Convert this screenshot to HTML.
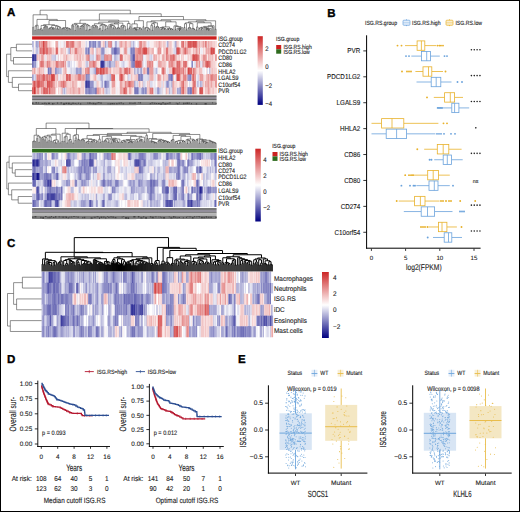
<!DOCTYPE html>
<html><head><meta charset="utf-8"><style>html,body{margin:0;padding:0;background:#fff;overflow:hidden}svg{display:block}</style></head>
<body><svg width="520" height="512" viewBox="0 0 520 512" font-family="Liberation Sans, sans-serif" fill="#1a1a1a" text-rendering="geometricPrecision"><style>text{stroke:#1a1a1a;stroke-width:0.1px} text[font-weight=bold]{stroke:#000;stroke-width:0.35px}</style><rect x="0" y="0" width="520" height="512" fill="#ffffff" /><text transform="translate(6.9 16.46) scale(1 1)" font-size="11.5" fill="#000" font-weight="bold">A</text><path d="M32.6 35.5V27.27H33.6V35.5M34.61 35.5V30.33H35.61V35.5M35.11 30.33V26H36.61V35.5M37.61 35.5V29.52H38.62V35.5M35.86 26V25.28H38.12V29.52M39.62 35.5V29.28H40.62V35.5M41.63 35.5V30.06H42.63V35.5M40.12 29.28V28.82H42.13V30.06M43.63 35.5V27.41H44.63V35.5M44.13 27.41V26.8H45.64V35.5M46.64 35.5V26.8H47.64V35.5M44.88 26.8V26.15H47.14V26.8M41.12 28.82V25.45H46.01V26.15M48.64 35.5V28.69H49.65V35.5M49.15 28.69V28.18H50.65V35.5M52.66 35.5V29.17H53.66V35.5M51.65 35.5V28.69H53.16V29.17M52.41 28.69V28.18H54.66V35.5M49.9 28.18V27.63H53.53V28.18M57.67 35.5V29.14H58.67V35.5M56.67 35.5V28.66H58.17V29.14M59.67 35.5V27.41H60.68V35.5M57.42 28.66V26.8H60.18V27.41M55.66 35.5V26.15H58.8V26.8M51.72 27.63V25.45H57.23V26.15M43.57 25.45V24.69H54.47V25.45M61.68 35.5V28.73H62.68V35.5M63.69 35.5V28.73H64.69V35.5M62.18 28.73V28.22H64.19V28.73M66.69 35.5V29.92H67.7V35.5M65.69 35.5V28.73H67.2V29.92M69.7 35.5V29.2H70.7V35.5M68.7 35.5V28.73H70.2V29.2M66.44 28.73V28.22H69.45V28.73M63.18 28.22V27.67H67.95V28.22M49.02 24.69V20.53H65.57V27.67M36.99 25.28V19.4H57.29V20.53M33.1 27.27V14.8H47.14V19.4M72.71 35.5V25.97H73.71V35.5M71.71 35.5V25.25H73.21V25.97M74.72 35.5V30.45H75.72V35.5M76.72 35.5V26.66H77.72V35.5M77.22 26.66V25.99H78.73V35.5M75.22 30.45V25.01H77.97V25.99M72.46 25.25V24.22H76.6V25.01M79.73 35.5V28.43H80.73V35.5M80.23 28.43V26.47H81.73V35.5M82.74 35.5V26.43H83.74V35.5M80.98 26.47V25.75H83.24V26.43M82.11 25.75V25.01H84.74V35.5M85.75 35.5V30.16H86.75V35.5M88.75 35.5V29.84H89.76V35.5M89.25 29.84V29.42H90.76V35.5M87.75 35.5V25.75H90.01V29.42M86.25 30.16V25.01H88.88V25.75M83.43 25.01V24.22H87.56V25.01M74.53 24.22V23.38H85.49V24.22M92.76 35.5V27.28H93.77V35.5M91.76 35.5V26.13H93.27V27.28M94.77 35.5V26.79H95.77V35.5M96.78 35.5V26.9H97.78V35.5M95.27 26.79V26.13H97.28V26.9M92.51 26.13V25.43H96.27V26.13M98.78 35.5V29.09H99.78V35.5M99.28 29.09V28.61H100.79V35.5M101.79 35.5V30.58H102.79V35.5M100.03 28.61V25.31H102.29V30.58M104.8 35.5V29.65H105.8V35.5M106.8 35.5V28.12H107.81V35.5M105.3 29.65V26.03H107.3V28.12M103.79 35.5V25.31H106.3V26.03M101.16 25.31V24.55H105.05V25.31M94.39 25.43V23.72H103.1V24.55M110.81 35.5V26.88H111.82V35.5M109.81 35.5V26.23H111.31V26.88M112.82 35.5V28.62H113.82V35.5M114.82 35.5V27.86H115.83V35.5M113.32 28.62V26.86H115.33V27.86M110.56 26.23V25.54H114.32V26.86M108.81 35.5V24.79H112.44V25.54M116.83 35.5V28.29H117.83V35.5M118.84 35.5V28.29H119.84V35.5M117.33 28.29V27.75H119.34V28.29M110.63 24.79V23.98H118.33V27.75M120.84 35.5V26.17H121.84V35.5M122.85 35.5V27.08H123.85V35.5M124.85 35.5V30.17H125.85V35.5M123.35 27.08V26.17H125.35V30.17M121.34 26.17V25.47H124.35V26.17M114.48 23.98V23.11H122.85V25.47M98.75 23.72V22.18H118.66V23.11M126.86 35.5V29.05H127.86V35.5M128.86 35.5V28.53H129.86V35.5M129.36 28.53V26.93H130.87V35.5M127.36 29.05V23.58H130.12V26.93M108.71 22.18V21.18H128.74V23.58M80.01 23.38V20.1H118.72V21.18M135.88 35.5V30.05H136.88V35.5M134.88 35.5V29.64H136.38V30.05M135.63 29.64V29.2H137.89V35.5M133.88 35.5V28.73H136.76V29.2M132.87 35.5V28.22H135.32V28.73M138.89 35.5V28.73H139.89V35.5M140.89 35.5V29.35H141.9V35.5M139.39 28.73V28.22H141.4V29.35M134.1 28.22V27.67H140.39V28.22M131.87 35.5V23.88H137.24V27.67M142.9 35.5V26.78H143.9V35.5M134.56 23.88V20.7H143.4V26.78M144.91 35.5V28.11H145.91V35.5M146.91 35.5V30.56H147.91V35.5M148.92 35.5V29.16H149.92V35.5M147.41 30.56V28.68H149.42V29.16M145.41 28.11V27.56H148.42V28.68M151.92 35.5V30.28H152.93V35.5M150.92 35.5V25.27H152.43V30.28M153.93 35.5V26.68H154.93V35.5M151.67 25.27V23.69H154.43V26.68M155.94 35.5V27.18H156.94V35.5M157.94 35.5V27.41H158.94V35.5M156.44 27.18V26.56H158.44V27.41M153.05 23.69V22.8H157.44V26.56M146.91 27.56V21.85H155.25V22.8M160.95 35.5V29.22H161.95V35.5M161.45 29.22V28.74H162.95V35.5M163.96 35.5V29.22H164.96V35.5M164.46 29.22V28.74H165.96V35.5M162.2 28.74V28.23H165.21V28.74M159.95 35.5V27.52H163.71V28.23M167.97 35.5V29.41H168.97V35.5M166.97 35.5V28.95H168.47V29.41M169.97 35.5V29.41H170.98V35.5M171.98 35.5V29.41H172.98V35.5M170.48 29.41V28.95H172.48V29.41M167.72 28.95V28.46H171.48V28.95M161.83 27.52V26.92H169.6V28.46M174.99 35.5V29.71H175.99V35.5M179 35.5V30.51H180V35.5M179.5 30.51V29.69H181V35.5M178 35.5V29.26H180.25V29.69M179.12 29.26V28.79H182.01V35.5M176.99 35.5V28.28H180.56V28.79M178.78 28.28V27.74H183.01V35.5M175.49 29.71V26.54H180.89V27.74M173.98 35.5V25.86H178.19V26.54M165.71 26.92V21.85H176.09V25.86M151.08 21.85V20.82H170.9V21.85M184.01 35.5V27.42H185.01V35.5M186.02 35.5V29.83H187.02V35.5M184.51 27.42V23.68H186.52V29.83M188.02 35.5V28.16H189.03V35.5M190.03 35.5V28.16H191.03V35.5M188.52 28.16V27.61H190.53V28.16M194.04 35.5V29.36H195.04V35.5M193.04 35.5V28.89H194.54V29.36M192.03 35.5V28.4H193.79V28.89M189.53 27.61V23.68H192.91V28.4M185.52 23.68V22.79H191.22V23.68M196.04 35.5V29.99H197.05V35.5M196.55 29.99V27.02H198.05V35.5M199.05 35.5V28.37H200.06V35.5M201.06 35.5V29.69H202.06V35.5M201.56 29.69V28.37H203.06V35.5M199.55 28.37V27.84H202.31V28.37M206.07 35.5V29.77H207.07V35.5M208.08 35.5V30.17H209.08V35.5M208.58 30.17V29.77H210.08V35.5M206.57 29.77V29.34H209.33V29.77M205.07 35.5V28.87H207.95V29.34M206.51 28.87V28.37H211.09V35.5M204.07 35.5V27.84H208.8V28.37M200.93 27.84V27.26H206.43V27.84M212.09 35.5V27.04H213.09V35.5M203.68 27.26V26.4H212.59V27.04M208.14 26.4V25.72H214.09V35.5M197.3 27.02V22.79H211.11V25.72M188.37 22.79V21.83H204.21V22.79M215.1 35.5V29.23H216.1V35.5M196.29 21.83V20.81H215.6V29.23M160.99 20.82V19.7H205.94V20.81M138.98 20.7V16.5H183.47V19.7M99.37 20.1V13.8H161.22V16.5M40.12 14.8V10.2H130.29V13.8" fill="none" stroke="#1e1e1e" stroke-width="0.5"/><rect x="32.1" y="36.3" width="184.5" height="3.3" fill="#cc1f1f" /><path d="M32.1 40.9h1.3v6.94h-1.3zM86.25 40.9h1.3v6.94h-1.3zM94.27 40.9h1.3v6.94h-1.3zM107.3 40.9h1.3v6.94h-1.3zM114.32 40.9h1.3v6.94h-1.3zM33.1 47.54h1.3v6.94h-1.3zM68.2 47.54h1.3v6.94h-1.3zM69.2 47.54h1.3v6.94h-1.3zM87.25 47.54h1.3v6.94h-1.3zM55.16 54.17h1.3v6.94h-1.3zM95.27 54.17h1.3v6.94h-1.3zM111.31 54.17h1.3v6.94h-1.3zM115.33 54.17h1.3v6.94h-1.3zM34.11 60.81h1.3v6.94h-1.3zM67.2 60.81h1.3v6.94h-1.3zM88.25 60.81h1.3v6.94h-1.3zM105.3 60.81h1.3v6.94h-1.3zM112.32 60.81h1.3v6.94h-1.3zM123.35 60.81h1.3v6.94h-1.3zM47.14 67.45h1.3v6.94h-1.3zM49.15 67.45h1.3v6.94h-1.3zM57.17 67.45h1.3v6.94h-1.3zM58.17 67.45h1.3v6.94h-1.3zM75.22 67.45h1.3v6.94h-1.3zM78.22 67.45h1.3v6.94h-1.3zM89.25 67.45h1.3v6.94h-1.3zM136.38 67.45h1.3v6.94h-1.3zM137.39 67.45h1.3v6.94h-1.3zM208.58 67.45h1.3v6.94h-1.3zM35.11 74.09h1.3v6.94h-1.3zM87.25 74.09h1.3v6.94h-1.3zM100.28 74.09h1.3v6.94h-1.3zM127.36 74.09h1.3v6.94h-1.3zM197.55 74.09h1.3v6.94h-1.3zM144.4 80.72h1.3v6.94h-1.3zM165.46 80.72h1.3v6.94h-1.3zM62.18 87.36h1.3v6.94h-1.3zM87.25 87.36h1.3v6.94h-1.3zM107.3 87.36h1.3v6.94h-1.3zM109.31 87.36h1.3v6.94h-1.3z" fill="#b2b2d9"/><path d="M33.1 40.9h1.3v6.94h-1.3zM38.12 40.9h1.3v6.94h-1.3zM111.31 40.9h1.3v6.94h-1.3zM132.37 40.9h1.3v6.94h-1.3zM166.46 40.9h1.3v6.94h-1.3zM105.3 47.54h1.3v6.94h-1.3zM51.15 54.17h1.3v6.94h-1.3zM54.16 54.17h1.3v6.94h-1.3zM91.26 54.17h1.3v6.94h-1.3zM102.29 54.17h1.3v6.94h-1.3zM116.33 54.17h1.3v6.94h-1.3zM144.4 54.17h1.3v6.94h-1.3zM150.42 54.17h1.3v6.94h-1.3zM68.2 60.81h1.3v6.94h-1.3zM69.2 60.81h1.3v6.94h-1.3zM104.3 60.81h1.3v6.94h-1.3zM108.31 60.81h1.3v6.94h-1.3zM110.31 60.81h1.3v6.94h-1.3zM111.31 60.81h1.3v6.94h-1.3zM113.32 60.81h1.3v6.94h-1.3zM59.17 67.45h1.3v6.94h-1.3zM60.18 67.45h1.3v6.94h-1.3zM71.21 67.45h1.3v6.94h-1.3zM94.27 67.45h1.3v6.94h-1.3zM141.4 67.45h1.3v6.94h-1.3zM155.43 67.45h1.3v6.94h-1.3zM206.57 67.45h1.3v6.94h-1.3zM33.1 74.09h1.3v6.94h-1.3zM97.28 74.09h1.3v6.94h-1.3zM139.39 74.09h1.3v6.94h-1.3zM147.41 74.09h1.3v6.94h-1.3zM106.3 80.72h1.3v6.94h-1.3zM108.31 80.72h1.3v6.94h-1.3zM151.42 80.72h1.3v6.94h-1.3zM170.47 80.72h1.3v6.94h-1.3zM200.56 80.72h1.3v6.94h-1.3zM201.56 80.72h1.3v6.94h-1.3zM154.43 87.36h1.3v6.94h-1.3zM156.44 87.36h1.3v6.94h-1.3zM158.44 87.36h1.3v6.94h-1.3zM161.45 87.36h1.3v6.94h-1.3zM171.48 87.36h1.3v6.94h-1.3zM178.5 87.36h1.3v6.94h-1.3z" fill="#bfbfdf"/><path d="M34.11 40.9h1.3v6.94h-1.3zM51.15 40.9h1.3v6.94h-1.3zM52.15 40.9h1.3v6.94h-1.3zM53.16 40.9h1.3v6.94h-1.3zM83.24 40.9h1.3v6.94h-1.3zM87.25 40.9h1.3v6.94h-1.3zM149.42 40.9h1.3v6.94h-1.3zM104.3 47.54h1.3v6.94h-1.3zM108.31 47.54h1.3v6.94h-1.3zM153.43 47.54h1.3v6.94h-1.3zM172.48 47.54h1.3v6.94h-1.3zM71.21 54.17h1.3v6.94h-1.3zM147.41 54.17h1.3v6.94h-1.3zM186.52 54.17h1.3v6.94h-1.3zM201.56 54.17h1.3v6.94h-1.3zM87.25 60.81h1.3v6.94h-1.3zM166.46 60.81h1.3v6.94h-1.3zM188.52 60.81h1.3v6.94h-1.3zM36.11 67.45h1.3v6.94h-1.3zM46.14 67.45h1.3v6.94h-1.3zM66.19 67.45h1.3v6.94h-1.3zM84.24 67.45h1.3v6.94h-1.3zM59.17 74.09h1.3v6.94h-1.3zM61.18 74.09h1.3v6.94h-1.3zM91.26 74.09h1.3v6.94h-1.3zM96.27 74.09h1.3v6.94h-1.3zM118.33 74.09h1.3v6.94h-1.3zM123.35 74.09h1.3v6.94h-1.3zM173.48 74.09h1.3v6.94h-1.3zM195.54 74.09h1.3v6.94h-1.3zM198.55 74.09h1.3v6.94h-1.3zM55.16 80.72h1.3v6.94h-1.3zM99.28 80.72h1.3v6.94h-1.3zM117.33 80.72h1.3v6.94h-1.3zM156.44 80.72h1.3v6.94h-1.3zM163.46 80.72h1.3v6.94h-1.3zM179.5 80.72h1.3v6.94h-1.3zM195.54 80.72h1.3v6.94h-1.3zM55.16 87.36h1.3v6.94h-1.3zM56.17 87.36h1.3v6.94h-1.3zM110.31 87.36h1.3v6.94h-1.3z" fill="#fcf4f4"/><path d="M35.11 40.9h1.3v6.94h-1.3zM64.19 40.9h1.3v6.94h-1.3zM104.3 40.9h1.3v6.94h-1.3zM116.33 40.9h1.3v6.94h-1.3zM118.33 40.9h1.3v6.94h-1.3zM147.41 40.9h1.3v6.94h-1.3zM37.11 47.54h1.3v6.94h-1.3zM67.2 47.54h1.3v6.94h-1.3zM93.27 47.54h1.3v6.94h-1.3zM173.48 47.54h1.3v6.94h-1.3zM52.15 54.17h1.3v6.94h-1.3zM53.16 54.17h1.3v6.94h-1.3zM92.26 54.17h1.3v6.94h-1.3zM93.27 54.17h1.3v6.94h-1.3zM100.28 54.17h1.3v6.94h-1.3zM113.32 54.17h1.3v6.94h-1.3zM117.33 54.17h1.3v6.94h-1.3zM151.42 54.17h1.3v6.94h-1.3zM71.21 60.81h1.3v6.94h-1.3zM74.21 60.81h1.3v6.94h-1.3zM106.3 60.81h1.3v6.94h-1.3zM122.34 60.81h1.3v6.94h-1.3zM144.4 60.81h1.3v6.94h-1.3zM199.55 60.81h1.3v6.94h-1.3zM201.56 60.81h1.3v6.94h-1.3zM61.18 67.45h1.3v6.94h-1.3zM91.26 67.45h1.3v6.94h-1.3zM154.43 67.45h1.3v6.94h-1.3zM209.58 67.45h1.3v6.94h-1.3zM89.25 74.09h1.3v6.94h-1.3zM99.28 74.09h1.3v6.94h-1.3zM102.29 74.09h1.3v6.94h-1.3zM105.3 74.09h1.3v6.94h-1.3zM148.42 74.09h1.3v6.94h-1.3zM93.27 80.72h1.3v6.94h-1.3zM102.29 80.72h1.3v6.94h-1.3zM109.31 80.72h1.3v6.94h-1.3zM136.38 80.72h1.3v6.94h-1.3zM137.39 80.72h1.3v6.94h-1.3zM149.42 80.72h1.3v6.94h-1.3zM188.52 80.72h1.3v6.94h-1.3zM196.55 80.72h1.3v6.94h-1.3zM63.18 87.36h1.3v6.94h-1.3zM106.3 87.36h1.3v6.94h-1.3zM141.4 87.36h1.3v6.94h-1.3zM143.4 87.36h1.3v6.94h-1.3zM169.47 87.36h1.3v6.94h-1.3z" fill="#cccce6"/><path d="M36.11 40.9h1.3v6.94h-1.3zM91.26 40.9h1.3v6.94h-1.3zM98.28 40.9h1.3v6.94h-1.3zM115.33 40.9h1.3v6.94h-1.3zM167.47 40.9h1.3v6.94h-1.3zM175.49 40.9h1.3v6.94h-1.3zM113.32 47.54h1.3v6.94h-1.3zM117.33 47.54h1.3v6.94h-1.3zM175.49 47.54h1.3v6.94h-1.3zM89.25 54.17h1.3v6.94h-1.3zM86.25 60.81h1.3v6.94h-1.3zM130.37 60.81h1.3v6.94h-1.3zM77.22 67.45h1.3v6.94h-1.3zM79.23 67.45h1.3v6.94h-1.3zM146.41 67.45h1.3v6.94h-1.3zM148.42 67.45h1.3v6.94h-1.3zM32.1 74.09h1.3v6.94h-1.3zM85.24 74.09h1.3v6.94h-1.3zM188.52 74.09h1.3v6.94h-1.3zM92.26 87.36h1.3v6.94h-1.3zM93.27 87.36h1.3v6.94h-1.3zM94.27 87.36h1.3v6.94h-1.3zM135.38 87.36h1.3v6.94h-1.3zM140.39 87.36h1.3v6.94h-1.3z" fill="#9999cc"/><path d="M37.11 40.9h1.3v6.94h-1.3zM90.26 40.9h1.3v6.94h-1.3zM130.37 40.9h1.3v6.94h-1.3zM133.37 40.9h1.3v6.94h-1.3zM174.49 40.9h1.3v6.94h-1.3zM36.11 47.54h1.3v6.94h-1.3zM95.27 47.54h1.3v6.94h-1.3zM100.28 47.54h1.3v6.94h-1.3zM101.29 54.17h1.3v6.94h-1.3zM103.29 54.17h1.3v6.94h-1.3zM114.32 54.17h1.3v6.94h-1.3zM142.4 54.17h1.3v6.94h-1.3zM107.3 60.81h1.3v6.94h-1.3zM114.32 60.81h1.3v6.94h-1.3zM56.17 67.45h1.3v6.94h-1.3zM93.27 67.45h1.3v6.94h-1.3zM138.39 67.45h1.3v6.94h-1.3zM156.44 67.45h1.3v6.94h-1.3zM101.29 74.09h1.3v6.94h-1.3zM107.3 74.09h1.3v6.94h-1.3zM142.4 74.09h1.3v6.94h-1.3zM190.53 74.09h1.3v6.94h-1.3zM90.26 80.72h1.3v6.94h-1.3zM142.4 80.72h1.3v6.94h-1.3zM168.47 80.72h1.3v6.94h-1.3zM171.48 80.72h1.3v6.94h-1.3zM197.55 80.72h1.3v6.94h-1.3zM199.55 80.72h1.3v6.94h-1.3zM64.19 87.36h1.3v6.94h-1.3zM105.3 87.36h1.3v6.94h-1.3zM138.39 87.36h1.3v6.94h-1.3zM159.45 87.36h1.3v6.94h-1.3zM168.47 87.36h1.3v6.94h-1.3zM176.49 87.36h1.3v6.94h-1.3zM177.49 87.36h1.3v6.94h-1.3z" fill="#a6a6d3"/><path d="M39.12 40.9h1.3v6.94h-1.3zM41.12 40.9h1.3v6.94h-1.3zM68.2 40.9h1.3v6.94h-1.3zM73.21 40.9h1.3v6.94h-1.3zM108.31 40.9h1.3v6.94h-1.3zM121.34 40.9h1.3v6.94h-1.3zM158.44 40.9h1.3v6.94h-1.3zM198.55 40.9h1.3v6.94h-1.3zM41.12 47.54h1.3v6.94h-1.3zM42.13 47.54h1.3v6.94h-1.3zM76.22 47.54h1.3v6.94h-1.3zM137.39 47.54h1.3v6.94h-1.3zM138.39 47.54h1.3v6.94h-1.3zM141.4 47.54h1.3v6.94h-1.3zM142.4 47.54h1.3v6.94h-1.3zM146.41 47.54h1.3v6.94h-1.3zM159.45 47.54h1.3v6.94h-1.3zM85.24 54.17h1.3v6.94h-1.3zM135.38 54.17h1.3v6.94h-1.3zM141.4 54.17h1.3v6.94h-1.3zM169.47 54.17h1.3v6.94h-1.3zM170.47 54.17h1.3v6.94h-1.3zM171.48 54.17h1.3v6.94h-1.3zM175.49 54.17h1.3v6.94h-1.3zM197.55 54.17h1.3v6.94h-1.3zM203.56 54.17h1.3v6.94h-1.3zM49.15 60.81h1.3v6.94h-1.3zM62.18 60.81h1.3v6.94h-1.3zM63.18 60.81h1.3v6.94h-1.3zM148.42 60.81h1.3v6.94h-1.3zM177.49 60.81h1.3v6.94h-1.3zM182.51 60.81h1.3v6.94h-1.3zM183.51 60.81h1.3v6.94h-1.3zM195.54 60.81h1.3v6.94h-1.3zM88.25 67.45h1.3v6.94h-1.3zM101.29 67.45h1.3v6.94h-1.3zM104.3 67.45h1.3v6.94h-1.3zM152.43 67.45h1.3v6.94h-1.3zM175.49 67.45h1.3v6.94h-1.3zM177.49 67.45h1.3v6.94h-1.3zM179.5 67.45h1.3v6.94h-1.3zM41.12 74.09h1.3v6.94h-1.3zM47.14 74.09h1.3v6.94h-1.3zM80.23 74.09h1.3v6.94h-1.3zM83.24 74.09h1.3v6.94h-1.3zM42.13 80.72h1.3v6.94h-1.3zM43.13 80.72h1.3v6.94h-1.3zM58.17 80.72h1.3v6.94h-1.3zM62.18 80.72h1.3v6.94h-1.3zM127.36 80.72h1.3v6.94h-1.3zM130.37 80.72h1.3v6.94h-1.3zM96.27 87.36h1.3v6.94h-1.3zM126.36 87.36h1.3v6.94h-1.3zM149.42 87.36h1.3v6.94h-1.3zM150.42 87.36h1.3v6.94h-1.3z" fill="#e17d7d"/><path d="M40.12 40.9h1.3v6.94h-1.3zM57.17 40.9h1.3v6.94h-1.3zM78.22 40.9h1.3v6.94h-1.3zM80.23 40.9h1.3v6.94h-1.3zM155.43 40.9h1.3v6.94h-1.3zM159.45 40.9h1.3v6.94h-1.3zM184.51 40.9h1.3v6.94h-1.3zM185.52 40.9h1.3v6.94h-1.3zM210.58 40.9h1.3v6.94h-1.3zM51.15 47.54h1.3v6.94h-1.3zM60.18 47.54h1.3v6.94h-1.3zM72.21 47.54h1.3v6.94h-1.3zM77.22 47.54h1.3v6.94h-1.3zM92.26 47.54h1.3v6.94h-1.3zM134.38 47.54h1.3v6.94h-1.3zM163.46 47.54h1.3v6.94h-1.3zM169.47 47.54h1.3v6.94h-1.3zM208.58 47.54h1.3v6.94h-1.3zM37.11 54.17h1.3v6.94h-1.3zM49.15 54.17h1.3v6.94h-1.3zM65.19 54.17h1.3v6.94h-1.3zM66.19 54.17h1.3v6.94h-1.3zM105.3 54.17h1.3v6.94h-1.3zM148.42 54.17h1.3v6.94h-1.3zM174.49 54.17h1.3v6.94h-1.3zM180.5 54.17h1.3v6.94h-1.3zM191.53 54.17h1.3v6.94h-1.3zM207.58 54.17h1.3v6.94h-1.3zM211.59 54.17h1.3v6.94h-1.3zM46.14 60.81h1.3v6.94h-1.3zM53.16 60.81h1.3v6.94h-1.3zM58.17 60.81h1.3v6.94h-1.3zM59.17 60.81h1.3v6.94h-1.3zM79.23 60.81h1.3v6.94h-1.3zM150.42 60.81h1.3v6.94h-1.3zM174.49 60.81h1.3v6.94h-1.3zM186.52 60.81h1.3v6.94h-1.3zM51.15 67.45h1.3v6.94h-1.3zM107.3 67.45h1.3v6.94h-1.3zM200.56 67.45h1.3v6.94h-1.3zM211.59 67.45h1.3v6.94h-1.3zM36.11 74.09h1.3v6.94h-1.3zM57.17 74.09h1.3v6.94h-1.3zM124.35 74.09h1.3v6.94h-1.3zM136.38 74.09h1.3v6.94h-1.3zM191.53 74.09h1.3v6.94h-1.3zM205.57 74.09h1.3v6.94h-1.3zM209.58 74.09h1.3v6.94h-1.3zM32.1 80.72h1.3v6.94h-1.3zM54.16 80.72h1.3v6.94h-1.3zM70.2 80.72h1.3v6.94h-1.3zM121.34 80.72h1.3v6.94h-1.3zM181.5 80.72h1.3v6.94h-1.3zM184.51 80.72h1.3v6.94h-1.3zM204.57 80.72h1.3v6.94h-1.3zM205.57 80.72h1.3v6.94h-1.3zM208.58 80.72h1.3v6.94h-1.3zM66.19 87.36h1.3v6.94h-1.3zM72.21 87.36h1.3v6.94h-1.3zM100.28 87.36h1.3v6.94h-1.3zM119.34 87.36h1.3v6.94h-1.3zM146.41 87.36h1.3v6.94h-1.3zM148.42 87.36h1.3v6.94h-1.3zM195.54 87.36h1.3v6.94h-1.3zM198.55 87.36h1.3v6.94h-1.3zM208.58 87.36h1.3v6.94h-1.3z" fill="#eba8a8"/><path d="M42.13 40.9h1.3v6.94h-1.3zM45.14 40.9h1.3v6.94h-1.3zM71.21 40.9h1.3v6.94h-1.3zM125.35 40.9h1.3v6.94h-1.3zM140.39 40.9h1.3v6.94h-1.3zM191.53 40.9h1.3v6.94h-1.3zM196.55 40.9h1.3v6.94h-1.3zM204.57 40.9h1.3v6.94h-1.3zM207.58 40.9h1.3v6.94h-1.3zM45.14 47.54h1.3v6.94h-1.3zM55.16 47.54h1.3v6.94h-1.3zM70.2 47.54h1.3v6.94h-1.3zM136.38 47.54h1.3v6.94h-1.3zM140.39 47.54h1.3v6.94h-1.3zM160.45 47.54h1.3v6.94h-1.3zM179.5 47.54h1.3v6.94h-1.3zM185.52 47.54h1.3v6.94h-1.3zM195.54 47.54h1.3v6.94h-1.3zM88.25 54.17h1.3v6.94h-1.3zM96.27 54.17h1.3v6.94h-1.3zM97.28 54.17h1.3v6.94h-1.3zM107.3 54.17h1.3v6.94h-1.3zM122.34 54.17h1.3v6.94h-1.3zM136.38 54.17h1.3v6.94h-1.3zM137.39 54.17h1.3v6.94h-1.3zM163.46 54.17h1.3v6.94h-1.3zM182.51 54.17h1.3v6.94h-1.3zM202.56 54.17h1.3v6.94h-1.3zM39.12 60.81h1.3v6.94h-1.3zM40.12 60.81h1.3v6.94h-1.3zM43.13 60.81h1.3v6.94h-1.3zM55.16 60.81h1.3v6.94h-1.3zM89.25 60.81h1.3v6.94h-1.3zM151.42 60.81h1.3v6.94h-1.3zM152.43 60.81h1.3v6.94h-1.3zM160.45 60.81h1.3v6.94h-1.3zM170.47 60.81h1.3v6.94h-1.3zM171.48 60.81h1.3v6.94h-1.3zM172.48 60.81h1.3v6.94h-1.3zM198.55 60.81h1.3v6.94h-1.3zM204.57 60.81h1.3v6.94h-1.3zM34.11 67.45h1.3v6.94h-1.3zM105.3 67.45h1.3v6.94h-1.3zM110.31 67.45h1.3v6.94h-1.3zM123.35 67.45h1.3v6.94h-1.3zM150.42 67.45h1.3v6.94h-1.3zM38.12 74.09h1.3v6.94h-1.3zM68.2 74.09h1.3v6.94h-1.3zM77.22 74.09h1.3v6.94h-1.3zM82.24 74.09h1.3v6.94h-1.3zM114.32 74.09h1.3v6.94h-1.3zM159.45 74.09h1.3v6.94h-1.3zM182.51 74.09h1.3v6.94h-1.3zM183.51 74.09h1.3v6.94h-1.3zM185.52 74.09h1.3v6.94h-1.3zM194.54 74.09h1.3v6.94h-1.3zM40.12 80.72h1.3v6.94h-1.3zM52.15 80.72h1.3v6.94h-1.3zM60.18 80.72h1.3v6.94h-1.3zM61.18 80.72h1.3v6.94h-1.3zM124.35 80.72h1.3v6.94h-1.3zM125.35 80.72h1.3v6.94h-1.3zM131.37 80.72h1.3v6.94h-1.3zM180.5 80.72h1.3v6.94h-1.3zM214.59 80.72h1.3v6.94h-1.3zM35.11 87.36h1.3v6.94h-1.3zM38.12 87.36h1.3v6.94h-1.3zM98.28 87.36h1.3v6.94h-1.3zM165.46 87.36h1.3v6.94h-1.3zM193.54 87.36h1.3v6.94h-1.3z" fill="#e48888"/><path d="M43.13 40.9h1.3v6.94h-1.3zM192.53 40.9h1.3v6.94h-1.3zM212.59 47.54h1.3v6.94h-1.3zM193.54 54.17h1.3v6.94h-1.3zM195.54 54.17h1.3v6.94h-1.3zM52.15 74.09h1.3v6.94h-1.3zM113.32 74.09h1.3v6.94h-1.3zM49.15 80.72h1.3v6.94h-1.3z" fill="#d03131"/><path d="M44.13 40.9h1.3v6.94h-1.3zM67.2 40.9h1.3v6.94h-1.3zM47.14 47.54h1.3v6.94h-1.3zM75.22 47.54h1.3v6.94h-1.3zM110.31 54.17h1.3v6.94h-1.3zM119.34 54.17h1.3v6.94h-1.3zM166.46 54.17h1.3v6.94h-1.3zM172.48 54.17h1.3v6.94h-1.3zM173.48 54.17h1.3v6.94h-1.3zM198.55 54.17h1.3v6.94h-1.3zM205.57 54.17h1.3v6.94h-1.3zM41.12 60.81h1.3v6.94h-1.3zM56.17 60.81h1.3v6.94h-1.3zM94.27 60.81h1.3v6.94h-1.3zM141.4 60.81h1.3v6.94h-1.3zM146.41 60.81h1.3v6.94h-1.3zM185.52 60.81h1.3v6.94h-1.3zM205.57 60.81h1.3v6.94h-1.3zM207.58 60.81h1.3v6.94h-1.3zM208.58 60.81h1.3v6.94h-1.3zM87.25 67.45h1.3v6.94h-1.3zM97.28 67.45h1.3v6.94h-1.3zM98.28 67.45h1.3v6.94h-1.3zM106.3 67.45h1.3v6.94h-1.3zM124.35 67.45h1.3v6.94h-1.3zM125.35 67.45h1.3v6.94h-1.3zM189.53 67.45h1.3v6.94h-1.3zM192.53 67.45h1.3v6.94h-1.3zM44.13 74.09h1.3v6.94h-1.3zM54.16 74.09h1.3v6.94h-1.3zM79.23 74.09h1.3v6.94h-1.3zM119.34 74.09h1.3v6.94h-1.3zM211.59 74.09h1.3v6.94h-1.3zM33.1 80.72h1.3v6.94h-1.3zM41.12 80.72h1.3v6.94h-1.3zM48.14 80.72h1.3v6.94h-1.3zM50.15 80.72h1.3v6.94h-1.3zM128.36 80.72h1.3v6.94h-1.3zM129.36 80.72h1.3v6.94h-1.3zM192.53 80.72h1.3v6.94h-1.3zM33.1 87.36h1.3v6.94h-1.3zM45.14 87.36h1.3v6.94h-1.3zM46.14 87.36h1.3v6.94h-1.3zM47.14 87.36h1.3v6.94h-1.3zM125.35 87.36h1.3v6.94h-1.3z" fill="#dc6767"/><path d="M46.14 40.9h1.3v6.94h-1.3zM139.39 40.9h1.3v6.94h-1.3zM141.4 40.9h1.3v6.94h-1.3zM180.5 40.9h1.3v6.94h-1.3zM39.12 47.54h1.3v6.94h-1.3zM40.12 47.54h1.3v6.94h-1.3zM44.13 47.54h1.3v6.94h-1.3zM57.17 47.54h1.3v6.94h-1.3zM74.21 47.54h1.3v6.94h-1.3zM165.46 47.54h1.3v6.94h-1.3zM87.25 54.17h1.3v6.94h-1.3zM104.3 54.17h1.3v6.94h-1.3zM106.3 54.17h1.3v6.94h-1.3zM121.34 54.17h1.3v6.94h-1.3zM139.39 54.17h1.3v6.94h-1.3zM165.46 54.17h1.3v6.94h-1.3zM42.13 60.81h1.3v6.94h-1.3zM47.14 60.81h1.3v6.94h-1.3zM57.17 60.81h1.3v6.94h-1.3zM65.19 60.81h1.3v6.94h-1.3zM92.26 60.81h1.3v6.94h-1.3zM93.27 60.81h1.3v6.94h-1.3zM134.38 60.81h1.3v6.94h-1.3zM140.39 60.81h1.3v6.94h-1.3zM149.42 60.81h1.3v6.94h-1.3zM209.58 60.81h1.3v6.94h-1.3zM85.24 67.45h1.3v6.94h-1.3zM99.28 67.45h1.3v6.94h-1.3zM128.36 67.45h1.3v6.94h-1.3zM129.36 67.45h1.3v6.94h-1.3zM163.46 67.45h1.3v6.94h-1.3zM193.54 67.45h1.3v6.94h-1.3zM37.11 74.09h1.3v6.94h-1.3zM39.12 74.09h1.3v6.94h-1.3zM42.13 74.09h1.3v6.94h-1.3zM78.22 74.09h1.3v6.94h-1.3zM122.34 74.09h1.3v6.94h-1.3zM179.5 74.09h1.3v6.94h-1.3zM184.51 74.09h1.3v6.94h-1.3zM210.58 74.09h1.3v6.94h-1.3zM36.11 80.72h1.3v6.94h-1.3zM65.19 80.72h1.3v6.94h-1.3zM111.31 80.72h1.3v6.94h-1.3zM193.54 80.72h1.3v6.94h-1.3zM194.54 80.72h1.3v6.94h-1.3zM51.15 87.36h1.3v6.94h-1.3zM151.42 87.36h1.3v6.94h-1.3zM152.43 87.36h1.3v6.94h-1.3zM180.5 87.36h1.3v6.94h-1.3z" fill="#de7272"/><path d="M47.14 40.9h1.3v6.94h-1.3zM49.15 40.9h1.3v6.94h-1.3zM74.21 40.9h1.3v6.94h-1.3zM77.22 40.9h1.3v6.94h-1.3zM100.28 40.9h1.3v6.94h-1.3zM119.34 40.9h1.3v6.94h-1.3zM126.36 40.9h1.3v6.94h-1.3zM129.36 40.9h1.3v6.94h-1.3zM162.45 40.9h1.3v6.94h-1.3zM169.47 40.9h1.3v6.94h-1.3zM176.49 40.9h1.3v6.94h-1.3zM53.16 47.54h1.3v6.94h-1.3zM61.18 47.54h1.3v6.94h-1.3zM78.22 47.54h1.3v6.94h-1.3zM81.23 47.54h1.3v6.94h-1.3zM91.26 47.54h1.3v6.94h-1.3zM150.42 47.54h1.3v6.94h-1.3zM180.5 47.54h1.3v6.94h-1.3zM187.52 47.54h1.3v6.94h-1.3zM209.58 47.54h1.3v6.94h-1.3zM43.13 54.17h1.3v6.94h-1.3zM58.17 54.17h1.3v6.94h-1.3zM60.18 54.17h1.3v6.94h-1.3zM76.22 54.17h1.3v6.94h-1.3zM77.22 54.17h1.3v6.94h-1.3zM80.23 54.17h1.3v6.94h-1.3zM128.36 54.17h1.3v6.94h-1.3zM161.45 54.17h1.3v6.94h-1.3zM168.47 54.17h1.3v6.94h-1.3zM209.58 54.17h1.3v6.94h-1.3zM50.15 60.81h1.3v6.94h-1.3zM64.19 60.81h1.3v6.94h-1.3zM115.33 60.81h1.3v6.94h-1.3zM116.33 60.81h1.3v6.94h-1.3zM118.33 60.81h1.3v6.94h-1.3zM128.36 60.81h1.3v6.94h-1.3zM157.44 60.81h1.3v6.94h-1.3zM162.45 60.81h1.3v6.94h-1.3zM173.48 60.81h1.3v6.94h-1.3zM203.56 60.81h1.3v6.94h-1.3zM32.1 67.45h1.3v6.94h-1.3zM109.31 67.45h1.3v6.94h-1.3zM171.48 67.45h1.3v6.94h-1.3zM191.53 67.45h1.3v6.94h-1.3zM195.54 67.45h1.3v6.94h-1.3zM198.55 67.45h1.3v6.94h-1.3zM56.17 74.09h1.3v6.94h-1.3zM72.21 74.09h1.3v6.94h-1.3zM74.21 74.09h1.3v6.94h-1.3zM75.22 74.09h1.3v6.94h-1.3zM76.22 74.09h1.3v6.94h-1.3zM131.37 74.09h1.3v6.94h-1.3zM149.42 74.09h1.3v6.94h-1.3zM150.42 74.09h1.3v6.94h-1.3zM160.45 74.09h1.3v6.94h-1.3zM162.45 74.09h1.3v6.94h-1.3zM163.46 74.09h1.3v6.94h-1.3zM172.48 74.09h1.3v6.94h-1.3zM186.52 74.09h1.3v6.94h-1.3zM202.56 74.09h1.3v6.94h-1.3zM208.58 74.09h1.3v6.94h-1.3zM44.13 80.72h1.3v6.94h-1.3zM45.14 80.72h1.3v6.94h-1.3zM46.14 80.72h1.3v6.94h-1.3zM59.17 80.72h1.3v6.94h-1.3zM66.19 80.72h1.3v6.94h-1.3zM73.21 80.72h1.3v6.94h-1.3zM76.22 80.72h1.3v6.94h-1.3zM96.27 80.72h1.3v6.94h-1.3zM148.42 80.72h1.3v6.94h-1.3zM173.48 80.72h1.3v6.94h-1.3zM191.53 80.72h1.3v6.94h-1.3zM206.57 80.72h1.3v6.94h-1.3zM36.11 87.36h1.3v6.94h-1.3zM42.13 87.36h1.3v6.94h-1.3zM50.15 87.36h1.3v6.94h-1.3zM61.18 87.36h1.3v6.94h-1.3zM69.2 87.36h1.3v6.94h-1.3zM70.2 87.36h1.3v6.94h-1.3zM76.22 87.36h1.3v6.94h-1.3zM99.28 87.36h1.3v6.94h-1.3zM122.34 87.36h1.3v6.94h-1.3zM128.36 87.36h1.3v6.94h-1.3zM173.48 87.36h1.3v6.94h-1.3zM205.57 87.36h1.3v6.94h-1.3zM209.58 87.36h1.3v6.94h-1.3z" fill="#eeb3b3"/><path d="M48.14 40.9h1.3v6.94h-1.3zM63.18 40.9h1.3v6.94h-1.3zM82.24 40.9h1.3v6.94h-1.3zM144.4 40.9h1.3v6.94h-1.3zM153.43 40.9h1.3v6.94h-1.3zM154.43 40.9h1.3v6.94h-1.3zM171.48 40.9h1.3v6.94h-1.3zM177.49 40.9h1.3v6.94h-1.3zM178.5 40.9h1.3v6.94h-1.3zM186.52 40.9h1.3v6.94h-1.3zM201.56 40.9h1.3v6.94h-1.3zM212.59 40.9h1.3v6.94h-1.3zM71.21 47.54h1.3v6.94h-1.3zM73.21 47.54h1.3v6.94h-1.3zM82.24 47.54h1.3v6.94h-1.3zM110.31 47.54h1.3v6.94h-1.3zM120.34 47.54h1.3v6.94h-1.3zM162.45 47.54h1.3v6.94h-1.3zM171.48 47.54h1.3v6.94h-1.3zM181.5 47.54h1.3v6.94h-1.3zM190.53 47.54h1.3v6.94h-1.3zM36.11 54.17h1.3v6.94h-1.3zM38.12 54.17h1.3v6.94h-1.3zM48.14 54.17h1.3v6.94h-1.3zM70.2 54.17h1.3v6.94h-1.3zM154.43 54.17h1.3v6.94h-1.3zM157.44 54.17h1.3v6.94h-1.3zM164.46 54.17h1.3v6.94h-1.3zM189.53 54.17h1.3v6.94h-1.3zM52.15 60.81h1.3v6.94h-1.3zM77.22 60.81h1.3v6.94h-1.3zM81.23 60.81h1.3v6.94h-1.3zM83.24 60.81h1.3v6.94h-1.3zM98.28 60.81h1.3v6.94h-1.3zM212.59 60.81h1.3v6.94h-1.3zM213.59 60.81h1.3v6.94h-1.3zM214.59 60.81h1.3v6.94h-1.3zM42.13 67.45h1.3v6.94h-1.3zM54.16 67.45h1.3v6.94h-1.3zM114.32 67.45h1.3v6.94h-1.3zM132.37 67.45h1.3v6.94h-1.3zM168.47 67.45h1.3v6.94h-1.3zM183.51 67.45h1.3v6.94h-1.3zM196.55 67.45h1.3v6.94h-1.3zM201.56 67.45h1.3v6.94h-1.3zM212.59 67.45h1.3v6.94h-1.3zM214.59 67.45h1.3v6.94h-1.3zM215.6 67.45h1.3v6.94h-1.3zM60.18 74.09h1.3v6.94h-1.3zM62.18 74.09h1.3v6.94h-1.3zM126.36 74.09h1.3v6.94h-1.3zM133.37 74.09h1.3v6.94h-1.3zM134.38 74.09h1.3v6.94h-1.3zM164.46 74.09h1.3v6.94h-1.3zM167.47 74.09h1.3v6.94h-1.3zM203.56 74.09h1.3v6.94h-1.3zM68.2 80.72h1.3v6.94h-1.3zM69.2 80.72h1.3v6.94h-1.3zM71.21 80.72h1.3v6.94h-1.3zM82.24 80.72h1.3v6.94h-1.3zM138.39 80.72h1.3v6.94h-1.3zM147.41 80.72h1.3v6.94h-1.3zM160.45 80.72h1.3v6.94h-1.3zM174.49 80.72h1.3v6.94h-1.3zM175.49 80.72h1.3v6.94h-1.3zM176.49 80.72h1.3v6.94h-1.3zM209.58 80.72h1.3v6.94h-1.3zM213.59 80.72h1.3v6.94h-1.3zM40.12 87.36h1.3v6.94h-1.3zM111.31 87.36h1.3v6.94h-1.3zM167.47 87.36h1.3v6.94h-1.3zM183.51 87.36h1.3v6.94h-1.3zM186.52 87.36h1.3v6.94h-1.3zM196.55 87.36h1.3v6.94h-1.3zM206.57 87.36h1.3v6.94h-1.3zM214.59 87.36h1.3v6.94h-1.3z" fill="#f5d4d4"/><path d="M50.15 40.9h1.3v6.94h-1.3zM60.18 40.9h1.3v6.94h-1.3zM65.19 40.9h1.3v6.94h-1.3zM84.24 40.9h1.3v6.94h-1.3zM127.36 40.9h1.3v6.94h-1.3zM142.4 40.9h1.3v6.94h-1.3zM161.45 40.9h1.3v6.94h-1.3zM214.59 40.9h1.3v6.94h-1.3zM215.6 40.9h1.3v6.94h-1.3zM54.16 47.54h1.3v6.94h-1.3zM58.17 47.54h1.3v6.94h-1.3zM64.19 47.54h1.3v6.94h-1.3zM89.25 47.54h1.3v6.94h-1.3zM119.34 47.54h1.3v6.94h-1.3zM155.43 47.54h1.3v6.94h-1.3zM214.59 47.54h1.3v6.94h-1.3zM40.12 54.17h1.3v6.94h-1.3zM44.13 54.17h1.3v6.94h-1.3zM46.14 54.17h1.3v6.94h-1.3zM64.19 54.17h1.3v6.94h-1.3zM68.2 54.17h1.3v6.94h-1.3zM69.2 54.17h1.3v6.94h-1.3zM73.21 54.17h1.3v6.94h-1.3zM81.23 54.17h1.3v6.94h-1.3zM125.35 54.17h1.3v6.94h-1.3zM126.36 54.17h1.3v6.94h-1.3zM156.44 54.17h1.3v6.94h-1.3zM159.45 54.17h1.3v6.94h-1.3zM176.49 54.17h1.3v6.94h-1.3zM177.49 54.17h1.3v6.94h-1.3zM181.5 54.17h1.3v6.94h-1.3zM188.52 54.17h1.3v6.94h-1.3zM84.24 60.81h1.3v6.94h-1.3zM96.27 60.81h1.3v6.94h-1.3zM97.28 60.81h1.3v6.94h-1.3zM165.46 60.81h1.3v6.94h-1.3zM175.49 60.81h1.3v6.94h-1.3zM181.5 60.81h1.3v6.94h-1.3zM40.12 67.45h1.3v6.94h-1.3zM64.19 67.45h1.3v6.94h-1.3zM82.24 67.45h1.3v6.94h-1.3zM133.37 67.45h1.3v6.94h-1.3zM142.4 67.45h1.3v6.94h-1.3zM197.55 67.45h1.3v6.94h-1.3zM205.57 67.45h1.3v6.94h-1.3zM64.19 74.09h1.3v6.94h-1.3zM90.26 74.09h1.3v6.94h-1.3zM92.26 74.09h1.3v6.94h-1.3zM132.37 74.09h1.3v6.94h-1.3zM153.43 74.09h1.3v6.94h-1.3zM155.43 74.09h1.3v6.94h-1.3zM204.57 74.09h1.3v6.94h-1.3zM98.28 80.72h1.3v6.94h-1.3zM153.43 80.72h1.3v6.94h-1.3zM203.56 80.72h1.3v6.94h-1.3zM81.23 87.36h1.3v6.94h-1.3zM101.29 87.36h1.3v6.94h-1.3zM131.37 87.36h1.3v6.94h-1.3zM132.37 87.36h1.3v6.94h-1.3zM162.45 87.36h1.3v6.94h-1.3zM175.49 87.36h1.3v6.94h-1.3zM210.58 87.36h1.3v6.94h-1.3zM213.59 87.36h1.3v6.94h-1.3zM215.6 87.36h1.3v6.94h-1.3z" fill="#f8dede"/><path d="M54.16 40.9h1.3v6.94h-1.3zM135.38 40.9h1.3v6.94h-1.3zM136.38 40.9h1.3v6.94h-1.3zM172.48 40.9h1.3v6.94h-1.3zM179.5 40.9h1.3v6.94h-1.3zM84.24 47.54h1.3v6.94h-1.3zM94.27 47.54h1.3v6.94h-1.3zM154.43 47.54h1.3v6.94h-1.3zM161.45 47.54h1.3v6.94h-1.3zM215.6 47.54h1.3v6.94h-1.3zM59.17 54.17h1.3v6.94h-1.3zM84.24 54.17h1.3v6.94h-1.3zM123.35 54.17h1.3v6.94h-1.3zM143.4 54.17h1.3v6.94h-1.3zM145.41 54.17h1.3v6.94h-1.3zM179.5 54.17h1.3v6.94h-1.3zM183.51 54.17h1.3v6.94h-1.3zM38.12 60.81h1.3v6.94h-1.3zM72.21 60.81h1.3v6.94h-1.3zM75.22 60.81h1.3v6.94h-1.3zM143.4 60.81h1.3v6.94h-1.3zM153.43 60.81h1.3v6.94h-1.3zM155.43 60.81h1.3v6.94h-1.3zM189.53 60.81h1.3v6.94h-1.3zM159.45 67.45h1.3v6.94h-1.3zM160.45 67.45h1.3v6.94h-1.3zM165.46 67.45h1.3v6.94h-1.3zM204.57 67.45h1.3v6.94h-1.3zM207.58 67.45h1.3v6.94h-1.3zM115.33 74.09h1.3v6.94h-1.3zM125.35 74.09h1.3v6.94h-1.3zM78.22 80.72h1.3v6.94h-1.3zM155.43 80.72h1.3v6.94h-1.3zM187.52 80.72h1.3v6.94h-1.3zM57.17 87.36h1.3v6.94h-1.3zM115.33 87.36h1.3v6.94h-1.3zM197.55 87.36h1.3v6.94h-1.3z" fill="#ffffff"/><path d="M55.16 40.9h1.3v6.94h-1.3zM76.22 40.9h1.3v6.94h-1.3zM102.29 40.9h1.3v6.94h-1.3zM103.29 40.9h1.3v6.94h-1.3zM157.44 40.9h1.3v6.94h-1.3zM160.45 40.9h1.3v6.94h-1.3zM197.55 40.9h1.3v6.94h-1.3zM200.56 40.9h1.3v6.94h-1.3zM203.56 40.9h1.3v6.94h-1.3zM208.58 40.9h1.3v6.94h-1.3zM209.58 40.9h1.3v6.94h-1.3zM62.18 47.54h1.3v6.94h-1.3zM65.19 47.54h1.3v6.94h-1.3zM79.23 47.54h1.3v6.94h-1.3zM80.23 47.54h1.3v6.94h-1.3zM96.27 47.54h1.3v6.94h-1.3zM97.28 47.54h1.3v6.94h-1.3zM151.42 47.54h1.3v6.94h-1.3zM188.52 47.54h1.3v6.94h-1.3zM189.53 47.54h1.3v6.94h-1.3zM194.54 47.54h1.3v6.94h-1.3zM202.56 47.54h1.3v6.94h-1.3zM206.57 47.54h1.3v6.94h-1.3zM39.12 54.17h1.3v6.94h-1.3zM47.14 54.17h1.3v6.94h-1.3zM74.21 54.17h1.3v6.94h-1.3zM82.24 54.17h1.3v6.94h-1.3zM129.36 54.17h1.3v6.94h-1.3zM146.41 54.17h1.3v6.94h-1.3zM158.44 54.17h1.3v6.94h-1.3zM190.53 54.17h1.3v6.94h-1.3zM208.58 54.17h1.3v6.94h-1.3zM45.14 60.81h1.3v6.94h-1.3zM78.22 60.81h1.3v6.94h-1.3zM80.23 60.81h1.3v6.94h-1.3zM129.36 60.81h1.3v6.94h-1.3zM161.45 60.81h1.3v6.94h-1.3zM163.46 60.81h1.3v6.94h-1.3zM164.46 60.81h1.3v6.94h-1.3zM180.5 60.81h1.3v6.94h-1.3zM197.55 60.81h1.3v6.94h-1.3zM33.1 67.45h1.3v6.94h-1.3zM38.12 67.45h1.3v6.94h-1.3zM41.12 67.45h1.3v6.94h-1.3zM43.13 67.45h1.3v6.94h-1.3zM53.16 67.45h1.3v6.94h-1.3zM108.31 67.45h1.3v6.94h-1.3zM113.32 67.45h1.3v6.94h-1.3zM116.33 67.45h1.3v6.94h-1.3zM118.33 67.45h1.3v6.94h-1.3zM130.37 67.45h1.3v6.94h-1.3zM144.4 67.45h1.3v6.94h-1.3zM145.41 67.45h1.3v6.94h-1.3zM169.47 67.45h1.3v6.94h-1.3zM185.52 67.45h1.3v6.94h-1.3zM199.55 67.45h1.3v6.94h-1.3zM63.18 74.09h1.3v6.94h-1.3zM95.27 74.09h1.3v6.94h-1.3zM130.37 74.09h1.3v6.94h-1.3zM135.38 74.09h1.3v6.94h-1.3zM137.39 74.09h1.3v6.94h-1.3zM152.43 74.09h1.3v6.94h-1.3zM166.46 74.09h1.3v6.94h-1.3zM180.5 74.09h1.3v6.94h-1.3zM206.57 74.09h1.3v6.94h-1.3zM56.17 80.72h1.3v6.94h-1.3zM74.21 80.72h1.3v6.94h-1.3zM75.22 80.72h1.3v6.94h-1.3zM122.34 80.72h1.3v6.94h-1.3zM133.37 80.72h1.3v6.94h-1.3zM146.41 80.72h1.3v6.94h-1.3zM183.51 80.72h1.3v6.94h-1.3zM185.52 80.72h1.3v6.94h-1.3zM202.56 80.72h1.3v6.94h-1.3zM211.59 80.72h1.3v6.94h-1.3zM71.21 87.36h1.3v6.94h-1.3zM74.21 87.36h1.3v6.94h-1.3zM75.22 87.36h1.3v6.94h-1.3zM77.22 87.36h1.3v6.94h-1.3zM102.29 87.36h1.3v6.94h-1.3zM112.32 87.36h1.3v6.94h-1.3zM130.37 87.36h1.3v6.94h-1.3zM174.49 87.36h1.3v6.94h-1.3zM204.57 87.36h1.3v6.94h-1.3zM212.59 87.36h1.3v6.94h-1.3z" fill="#f0bebe"/><path d="M56.17 40.9h1.3v6.94h-1.3zM79.23 40.9h1.3v6.94h-1.3zM120.34 40.9h1.3v6.94h-1.3zM124.35 40.9h1.3v6.94h-1.3zM138.39 40.9h1.3v6.94h-1.3zM145.41 40.9h1.3v6.94h-1.3zM48.14 47.54h1.3v6.94h-1.3zM123.35 47.54h1.3v6.94h-1.3zM126.36 47.54h1.3v6.94h-1.3zM147.41 47.54h1.3v6.94h-1.3zM152.43 47.54h1.3v6.94h-1.3zM167.47 47.54h1.3v6.94h-1.3zM182.51 47.54h1.3v6.94h-1.3zM183.51 47.54h1.3v6.94h-1.3zM192.53 47.54h1.3v6.94h-1.3zM196.55 47.54h1.3v6.94h-1.3zM205.57 47.54h1.3v6.94h-1.3zM207.58 47.54h1.3v6.94h-1.3zM41.12 54.17h1.3v6.94h-1.3zM42.13 54.17h1.3v6.94h-1.3zM63.18 54.17h1.3v6.94h-1.3zM79.23 54.17h1.3v6.94h-1.3zM86.25 54.17h1.3v6.94h-1.3zM99.28 54.17h1.3v6.94h-1.3zM109.31 54.17h1.3v6.94h-1.3zM134.38 54.17h1.3v6.94h-1.3zM138.39 54.17h1.3v6.94h-1.3zM155.43 54.17h1.3v6.94h-1.3zM162.45 54.17h1.3v6.94h-1.3zM214.59 54.17h1.3v6.94h-1.3zM215.6 54.17h1.3v6.94h-1.3zM91.26 60.81h1.3v6.94h-1.3zM159.45 60.81h1.3v6.94h-1.3zM179.5 60.81h1.3v6.94h-1.3zM196.55 60.81h1.3v6.94h-1.3zM202.56 60.81h1.3v6.94h-1.3zM39.12 67.45h1.3v6.94h-1.3zM63.18 67.45h1.3v6.94h-1.3zM65.19 67.45h1.3v6.94h-1.3zM121.34 67.45h1.3v6.94h-1.3zM127.36 67.45h1.3v6.94h-1.3zM164.46 67.45h1.3v6.94h-1.3zM184.51 67.45h1.3v6.94h-1.3zM194.54 67.45h1.3v6.94h-1.3zM70.2 74.09h1.3v6.94h-1.3zM81.23 74.09h1.3v6.94h-1.3zM84.24 74.09h1.3v6.94h-1.3zM94.27 74.09h1.3v6.94h-1.3zM151.42 74.09h1.3v6.94h-1.3zM200.56 74.09h1.3v6.94h-1.3zM213.59 74.09h1.3v6.94h-1.3zM214.59 74.09h1.3v6.94h-1.3zM64.19 80.72h1.3v6.94h-1.3zM72.21 80.72h1.3v6.94h-1.3zM112.32 80.72h1.3v6.94h-1.3zM113.32 80.72h1.3v6.94h-1.3zM114.32 80.72h1.3v6.94h-1.3zM119.34 80.72h1.3v6.94h-1.3zM126.36 80.72h1.3v6.94h-1.3zM139.39 80.72h1.3v6.94h-1.3zM172.48 80.72h1.3v6.94h-1.3zM210.58 80.72h1.3v6.94h-1.3zM48.14 87.36h1.3v6.94h-1.3zM53.16 87.36h1.3v6.94h-1.3zM73.21 87.36h1.3v6.94h-1.3zM78.22 87.36h1.3v6.94h-1.3zM79.23 87.36h1.3v6.94h-1.3zM103.29 87.36h1.3v6.94h-1.3zM121.34 87.36h1.3v6.94h-1.3zM129.36 87.36h1.3v6.94h-1.3zM172.48 87.36h1.3v6.94h-1.3zM181.5 87.36h1.3v6.94h-1.3z" fill="#e89d9d"/><path d="M58.17 40.9h1.3v6.94h-1.3zM85.24 40.9h1.3v6.94h-1.3zM88.25 40.9h1.3v6.94h-1.3zM112.32 40.9h1.3v6.94h-1.3zM117.33 40.9h1.3v6.94h-1.3zM134.38 40.9h1.3v6.94h-1.3zM137.39 40.9h1.3v6.94h-1.3zM148.42 40.9h1.3v6.94h-1.3zM165.46 40.9h1.3v6.94h-1.3zM32.1 47.54h1.3v6.94h-1.3zM107.3 47.54h1.3v6.94h-1.3zM122.34 47.54h1.3v6.94h-1.3zM127.36 47.54h1.3v6.94h-1.3zM128.36 47.54h1.3v6.94h-1.3zM200.56 47.54h1.3v6.94h-1.3zM45.14 54.17h1.3v6.94h-1.3zM57.17 54.17h1.3v6.94h-1.3zM70.2 60.81h1.3v6.94h-1.3zM120.34 60.81h1.3v6.94h-1.3zM124.35 60.81h1.3v6.94h-1.3zM126.36 60.81h1.3v6.94h-1.3zM156.44 60.81h1.3v6.94h-1.3zM193.54 60.81h1.3v6.94h-1.3zM200.56 60.81h1.3v6.94h-1.3zM44.13 67.45h1.3v6.94h-1.3zM69.2 67.45h1.3v6.94h-1.3zM72.21 67.45h1.3v6.94h-1.3zM90.26 67.45h1.3v6.94h-1.3zM139.39 67.45h1.3v6.94h-1.3zM166.46 67.45h1.3v6.94h-1.3zM167.47 67.45h1.3v6.94h-1.3zM58.17 74.09h1.3v6.94h-1.3zM98.28 74.09h1.3v6.94h-1.3zM103.29 74.09h1.3v6.94h-1.3zM104.3 74.09h1.3v6.94h-1.3zM116.33 74.09h1.3v6.94h-1.3zM129.36 74.09h1.3v6.94h-1.3zM143.4 74.09h1.3v6.94h-1.3zM145.41 74.09h1.3v6.94h-1.3zM196.55 74.09h1.3v6.94h-1.3zM80.23 80.72h1.3v6.94h-1.3zM84.24 80.72h1.3v6.94h-1.3zM94.27 80.72h1.3v6.94h-1.3zM103.29 80.72h1.3v6.94h-1.3zM154.43 80.72h1.3v6.94h-1.3zM189.53 80.72h1.3v6.94h-1.3zM198.55 80.72h1.3v6.94h-1.3zM116.33 87.36h1.3v6.94h-1.3zM153.43 87.36h1.3v6.94h-1.3zM164.46 87.36h1.3v6.94h-1.3z" fill="#e6e6f2"/><path d="M59.17 40.9h1.3v6.94h-1.3zM61.18 40.9h1.3v6.94h-1.3zM62.18 40.9h1.3v6.94h-1.3zM113.32 40.9h1.3v6.94h-1.3zM146.41 40.9h1.3v6.94h-1.3zM151.42 40.9h1.3v6.94h-1.3zM66.19 47.54h1.3v6.94h-1.3zM109.31 47.54h1.3v6.94h-1.3zM156.44 47.54h1.3v6.94h-1.3zM199.55 47.54h1.3v6.94h-1.3zM201.56 47.54h1.3v6.94h-1.3zM56.17 54.17h1.3v6.94h-1.3zM94.27 54.17h1.3v6.94h-1.3zM112.32 54.17h1.3v6.94h-1.3zM152.43 54.17h1.3v6.94h-1.3zM185.52 54.17h1.3v6.94h-1.3zM37.11 60.81h1.3v6.94h-1.3zM66.19 60.81h1.3v6.94h-1.3zM73.21 60.81h1.3v6.94h-1.3zM119.34 60.81h1.3v6.94h-1.3zM125.35 60.81h1.3v6.94h-1.3zM145.41 60.81h1.3v6.94h-1.3zM154.43 60.81h1.3v6.94h-1.3zM167.47 60.81h1.3v6.94h-1.3zM190.53 60.81h1.3v6.94h-1.3zM192.53 60.81h1.3v6.94h-1.3zM67.2 67.45h1.3v6.94h-1.3zM68.2 67.45h1.3v6.94h-1.3zM157.44 67.45h1.3v6.94h-1.3zM202.56 67.45h1.3v6.94h-1.3zM203.56 67.45h1.3v6.94h-1.3zM110.31 74.09h1.3v6.94h-1.3zM156.44 74.09h1.3v6.94h-1.3zM174.49 74.09h1.3v6.94h-1.3zM110.31 80.72h1.3v6.94h-1.3zM116.33 80.72h1.3v6.94h-1.3zM118.33 80.72h1.3v6.94h-1.3zM145.41 80.72h1.3v6.94h-1.3zM152.43 80.72h1.3v6.94h-1.3zM118.33 87.36h1.3v6.94h-1.3zM163.46 87.36h1.3v6.94h-1.3z" fill="#f2f2f9"/><path d="M66.19 40.9h1.3v6.94h-1.3zM70.2 40.9h1.3v6.94h-1.3zM72.21 40.9h1.3v6.94h-1.3zM110.31 40.9h1.3v6.94h-1.3zM205.57 40.9h1.3v6.94h-1.3zM46.14 47.54h1.3v6.94h-1.3zM139.39 47.54h1.3v6.94h-1.3zM144.4 47.54h1.3v6.94h-1.3zM166.46 47.54h1.3v6.94h-1.3zM178.5 47.54h1.3v6.94h-1.3zM213.59 47.54h1.3v6.94h-1.3zM196.55 54.17h1.3v6.94h-1.3zM184.51 60.81h1.3v6.94h-1.3zM174.49 67.45h1.3v6.94h-1.3zM176.49 67.45h1.3v6.94h-1.3zM178.5 67.45h1.3v6.94h-1.3zM182.51 67.45h1.3v6.94h-1.3zM46.14 74.09h1.3v6.94h-1.3zM49.15 74.09h1.3v6.94h-1.3zM67.2 74.09h1.3v6.94h-1.3zM112.32 74.09h1.3v6.94h-1.3zM39.12 80.72h1.3v6.94h-1.3zM51.15 80.72h1.3v6.94h-1.3zM63.18 80.72h1.3v6.94h-1.3zM43.13 87.36h1.3v6.94h-1.3zM44.13 87.36h1.3v6.94h-1.3zM123.35 87.36h1.3v6.94h-1.3zM124.35 87.36h1.3v6.94h-1.3z" fill="#da5c5c"/><path d="M69.2 40.9h1.3v6.94h-1.3zM109.31 40.9h1.3v6.94h-1.3zM143.4 40.9h1.3v6.94h-1.3zM181.5 40.9h1.3v6.94h-1.3zM202.56 40.9h1.3v6.94h-1.3zM49.15 47.54h1.3v6.94h-1.3zM50.15 47.54h1.3v6.94h-1.3zM124.35 47.54h1.3v6.94h-1.3zM125.35 47.54h1.3v6.94h-1.3zM135.38 47.54h1.3v6.94h-1.3zM148.42 47.54h1.3v6.94h-1.3zM157.44 47.54h1.3v6.94h-1.3zM158.44 47.54h1.3v6.94h-1.3zM186.52 47.54h1.3v6.94h-1.3zM198.55 47.54h1.3v6.94h-1.3zM98.28 54.17h1.3v6.94h-1.3zM108.31 54.17h1.3v6.94h-1.3zM140.39 54.17h1.3v6.94h-1.3zM153.43 54.17h1.3v6.94h-1.3zM167.47 54.17h1.3v6.94h-1.3zM204.57 54.17h1.3v6.94h-1.3zM48.14 60.81h1.3v6.94h-1.3zM60.18 60.81h1.3v6.94h-1.3zM61.18 60.81h1.3v6.94h-1.3zM90.26 60.81h1.3v6.94h-1.3zM95.27 60.81h1.3v6.94h-1.3zM147.41 60.81h1.3v6.94h-1.3zM158.44 60.81h1.3v6.94h-1.3zM168.47 60.81h1.3v6.94h-1.3zM169.47 60.81h1.3v6.94h-1.3zM86.25 67.45h1.3v6.94h-1.3zM119.34 67.45h1.3v6.94h-1.3zM120.34 67.45h1.3v6.94h-1.3zM143.4 67.45h1.3v6.94h-1.3zM149.42 67.45h1.3v6.94h-1.3zM151.42 67.45h1.3v6.94h-1.3zM161.45 67.45h1.3v6.94h-1.3zM180.5 67.45h1.3v6.94h-1.3zM181.5 67.45h1.3v6.94h-1.3zM40.12 74.09h1.3v6.94h-1.3zM45.14 74.09h1.3v6.94h-1.3zM48.14 74.09h1.3v6.94h-1.3zM50.15 74.09h1.3v6.94h-1.3zM157.44 74.09h1.3v6.94h-1.3zM158.44 74.09h1.3v6.94h-1.3zM193.54 74.09h1.3v6.94h-1.3zM199.55 74.09h1.3v6.94h-1.3zM201.56 74.09h1.3v6.94h-1.3zM207.58 74.09h1.3v6.94h-1.3zM212.59 74.09h1.3v6.94h-1.3zM215.6 74.09h1.3v6.94h-1.3zM35.11 80.72h1.3v6.94h-1.3zM53.16 80.72h1.3v6.94h-1.3zM120.34 80.72h1.3v6.94h-1.3zM132.37 80.72h1.3v6.94h-1.3zM207.58 80.72h1.3v6.94h-1.3zM215.6 80.72h1.3v6.94h-1.3zM37.11 87.36h1.3v6.94h-1.3zM41.12 87.36h1.3v6.94h-1.3zM52.15 87.36h1.3v6.94h-1.3zM54.16 87.36h1.3v6.94h-1.3zM97.28 87.36h1.3v6.94h-1.3zM120.34 87.36h1.3v6.94h-1.3zM184.51 87.36h1.3v6.94h-1.3zM191.53 87.36h1.3v6.94h-1.3zM194.54 87.36h1.3v6.94h-1.3zM207.58 87.36h1.3v6.94h-1.3z" fill="#e69292"/><path d="M75.22 40.9h1.3v6.94h-1.3zM122.34 40.9h1.3v6.94h-1.3zM123.35 40.9h1.3v6.94h-1.3zM128.36 40.9h1.3v6.94h-1.3zM156.44 40.9h1.3v6.94h-1.3zM163.46 40.9h1.3v6.94h-1.3zM164.46 40.9h1.3v6.94h-1.3zM168.47 40.9h1.3v6.94h-1.3zM170.47 40.9h1.3v6.94h-1.3zM183.51 40.9h1.3v6.94h-1.3zM199.55 40.9h1.3v6.94h-1.3zM206.57 40.9h1.3v6.94h-1.3zM211.59 40.9h1.3v6.94h-1.3zM213.59 40.9h1.3v6.94h-1.3zM52.15 47.54h1.3v6.94h-1.3zM63.18 47.54h1.3v6.94h-1.3zM83.24 47.54h1.3v6.94h-1.3zM90.26 47.54h1.3v6.94h-1.3zM98.28 47.54h1.3v6.94h-1.3zM99.28 47.54h1.3v6.94h-1.3zM149.42 47.54h1.3v6.94h-1.3zM164.46 47.54h1.3v6.94h-1.3zM168.47 47.54h1.3v6.94h-1.3zM170.47 47.54h1.3v6.94h-1.3zM193.54 47.54h1.3v6.94h-1.3zM197.55 47.54h1.3v6.94h-1.3zM204.57 47.54h1.3v6.94h-1.3zM50.15 54.17h1.3v6.94h-1.3zM67.2 54.17h1.3v6.94h-1.3zM75.22 54.17h1.3v6.94h-1.3zM78.22 54.17h1.3v6.94h-1.3zM83.24 54.17h1.3v6.94h-1.3zM124.35 54.17h1.3v6.94h-1.3zM127.36 54.17h1.3v6.94h-1.3zM178.5 54.17h1.3v6.94h-1.3zM187.52 54.17h1.3v6.94h-1.3zM200.56 54.17h1.3v6.94h-1.3zM210.58 54.17h1.3v6.94h-1.3zM212.59 54.17h1.3v6.94h-1.3zM44.13 60.81h1.3v6.94h-1.3zM51.15 60.81h1.3v6.94h-1.3zM54.16 60.81h1.3v6.94h-1.3zM117.33 60.81h1.3v6.94h-1.3zM210.58 60.81h1.3v6.94h-1.3zM211.59 60.81h1.3v6.94h-1.3zM35.11 67.45h1.3v6.94h-1.3zM37.11 67.45h1.3v6.94h-1.3zM52.15 67.45h1.3v6.94h-1.3zM81.23 67.45h1.3v6.94h-1.3zM83.24 67.45h1.3v6.94h-1.3zM112.32 67.45h1.3v6.94h-1.3zM115.33 67.45h1.3v6.94h-1.3zM117.33 67.45h1.3v6.94h-1.3zM122.34 67.45h1.3v6.94h-1.3zM131.37 67.45h1.3v6.94h-1.3zM170.47 67.45h1.3v6.94h-1.3zM210.58 67.45h1.3v6.94h-1.3zM213.59 67.45h1.3v6.94h-1.3zM55.16 74.09h1.3v6.94h-1.3zM65.19 74.09h1.3v6.94h-1.3zM71.21 74.09h1.3v6.94h-1.3zM73.21 74.09h1.3v6.94h-1.3zM93.27 74.09h1.3v6.94h-1.3zM165.46 74.09h1.3v6.94h-1.3zM181.5 74.09h1.3v6.94h-1.3zM67.2 80.72h1.3v6.94h-1.3zM81.23 80.72h1.3v6.94h-1.3zM83.24 80.72h1.3v6.94h-1.3zM97.28 80.72h1.3v6.94h-1.3zM123.35 80.72h1.3v6.94h-1.3zM141.4 80.72h1.3v6.94h-1.3zM157.44 80.72h1.3v6.94h-1.3zM158.44 80.72h1.3v6.94h-1.3zM159.45 80.72h1.3v6.94h-1.3zM162.45 80.72h1.3v6.94h-1.3zM178.5 80.72h1.3v6.94h-1.3zM186.52 80.72h1.3v6.94h-1.3zM212.59 80.72h1.3v6.94h-1.3zM39.12 87.36h1.3v6.94h-1.3zM58.17 87.36h1.3v6.94h-1.3zM60.18 87.36h1.3v6.94h-1.3zM67.2 87.36h1.3v6.94h-1.3zM68.2 87.36h1.3v6.94h-1.3zM80.23 87.36h1.3v6.94h-1.3zM82.24 87.36h1.3v6.94h-1.3zM83.24 87.36h1.3v6.94h-1.3zM113.32 87.36h1.3v6.94h-1.3zM114.32 87.36h1.3v6.94h-1.3zM147.41 87.36h1.3v6.94h-1.3zM166.46 87.36h1.3v6.94h-1.3zM185.52 87.36h1.3v6.94h-1.3zM202.56 87.36h1.3v6.94h-1.3zM211.59 87.36h1.3v6.94h-1.3z" fill="#f2c9c9"/><path d="M81.23 40.9h1.3v6.94h-1.3zM101.29 40.9h1.3v6.94h-1.3zM150.42 40.9h1.3v6.94h-1.3zM152.43 40.9h1.3v6.94h-1.3zM34.11 47.54h1.3v6.94h-1.3zM59.17 47.54h1.3v6.94h-1.3zM106.3 47.54h1.3v6.94h-1.3zM121.34 47.54h1.3v6.94h-1.3zM191.53 47.54h1.3v6.94h-1.3zM203.56 47.54h1.3v6.94h-1.3zM61.18 54.17h1.3v6.94h-1.3zM62.18 54.17h1.3v6.94h-1.3zM72.21 54.17h1.3v6.94h-1.3zM160.45 54.17h1.3v6.94h-1.3zM184.51 54.17h1.3v6.94h-1.3zM199.55 54.17h1.3v6.94h-1.3zM206.57 54.17h1.3v6.94h-1.3zM213.59 54.17h1.3v6.94h-1.3zM76.22 60.81h1.3v6.94h-1.3zM82.24 60.81h1.3v6.94h-1.3zM99.28 60.81h1.3v6.94h-1.3zM127.36 60.81h1.3v6.94h-1.3zM187.52 60.81h1.3v6.94h-1.3zM215.6 60.81h1.3v6.94h-1.3zM45.14 67.45h1.3v6.94h-1.3zM62.18 67.45h1.3v6.94h-1.3zM111.31 67.45h1.3v6.94h-1.3zM158.44 67.45h1.3v6.94h-1.3zM186.52 67.45h1.3v6.94h-1.3zM117.33 74.09h1.3v6.94h-1.3zM161.45 74.09h1.3v6.94h-1.3zM57.17 80.72h1.3v6.94h-1.3zM77.22 80.72h1.3v6.94h-1.3zM79.23 80.72h1.3v6.94h-1.3zM115.33 80.72h1.3v6.94h-1.3zM140.39 80.72h1.3v6.94h-1.3zM177.49 80.72h1.3v6.94h-1.3zM190.53 80.72h1.3v6.94h-1.3zM59.17 87.36h1.3v6.94h-1.3zM84.24 87.36h1.3v6.94h-1.3zM117.33 87.36h1.3v6.94h-1.3zM127.36 87.36h1.3v6.94h-1.3zM133.37 87.36h1.3v6.94h-1.3zM203.56 87.36h1.3v6.94h-1.3z" fill="#fae9e9"/><path d="M89.25 40.9h1.3v6.94h-1.3zM95.27 40.9h1.3v6.94h-1.3zM133.37 47.54h1.3v6.94h-1.3zM131.37 54.17h1.3v6.94h-1.3zM32.1 60.81h1.3v6.94h-1.3zM133.37 60.81h1.3v6.94h-1.3zM48.14 67.45h1.3v6.94h-1.3zM140.39 74.09h1.3v6.94h-1.3zM168.47 74.09h1.3v6.94h-1.3zM87.25 80.72h1.3v6.94h-1.3zM89.25 87.36h1.3v6.94h-1.3zM95.27 87.36h1.3v6.94h-1.3zM142.4 87.36h1.3v6.94h-1.3zM187.52 87.36h1.3v6.94h-1.3zM189.53 87.36h1.3v6.94h-1.3z" fill="#6666b3"/><path d="M92.26 40.9h1.3v6.94h-1.3zM97.28 40.9h1.3v6.94h-1.3zM105.3 40.9h1.3v6.94h-1.3zM85.24 47.54h1.3v6.94h-1.3zM86.25 47.54h1.3v6.94h-1.3zM101.29 47.54h1.3v6.94h-1.3zM103.29 47.54h1.3v6.94h-1.3zM111.31 47.54h1.3v6.94h-1.3zM130.37 54.17h1.3v6.94h-1.3zM35.11 60.81h1.3v6.94h-1.3zM131.37 60.81h1.3v6.94h-1.3zM76.22 67.45h1.3v6.94h-1.3zM80.23 67.45h1.3v6.94h-1.3zM95.27 67.45h1.3v6.94h-1.3zM134.38 67.45h1.3v6.94h-1.3zM140.39 67.45h1.3v6.94h-1.3zM109.31 74.09h1.3v6.94h-1.3zM169.47 74.09h1.3v6.94h-1.3zM187.52 74.09h1.3v6.94h-1.3zM92.26 80.72h1.3v6.94h-1.3zM101.29 80.72h1.3v6.94h-1.3zM134.38 80.72h1.3v6.94h-1.3zM166.46 80.72h1.3v6.94h-1.3zM167.47 80.72h1.3v6.94h-1.3zM91.26 87.36h1.3v6.94h-1.3zM137.39 87.36h1.3v6.94h-1.3zM144.4 87.36h1.3v6.94h-1.3zM145.41 87.36h1.3v6.94h-1.3zM179.5 87.36h1.3v6.94h-1.3zM188.52 87.36h1.3v6.94h-1.3z" fill="#8c8cc6"/><path d="M93.27 40.9h1.3v6.94h-1.3zM115.33 47.54h1.3v6.94h-1.3zM116.33 47.54h1.3v6.94h-1.3zM132.37 47.54h1.3v6.94h-1.3zM132.37 54.17h1.3v6.94h-1.3zM109.31 60.81h1.3v6.94h-1.3zM132.37 60.81h1.3v6.94h-1.3zM191.53 60.81h1.3v6.94h-1.3zM50.15 67.45h1.3v6.94h-1.3zM86.25 74.09h1.3v6.94h-1.3zM141.4 74.09h1.3v6.94h-1.3zM170.47 74.09h1.3v6.94h-1.3zM171.48 74.09h1.3v6.94h-1.3zM189.53 74.09h1.3v6.94h-1.3zM89.25 80.72h1.3v6.94h-1.3zM86.25 87.36h1.3v6.94h-1.3zM88.25 87.36h1.3v6.94h-1.3zM190.53 87.36h1.3v6.94h-1.3z" fill="#7373b9"/><path d="M96.27 40.9h1.3v6.94h-1.3zM106.3 40.9h1.3v6.94h-1.3zM131.37 40.9h1.3v6.94h-1.3zM173.48 40.9h1.3v6.94h-1.3zM35.11 47.54h1.3v6.94h-1.3zM38.12 47.54h1.3v6.94h-1.3zM129.36 47.54h1.3v6.94h-1.3zM174.49 47.54h1.3v6.94h-1.3zM90.26 54.17h1.3v6.94h-1.3zM118.33 54.17h1.3v6.94h-1.3zM149.42 54.17h1.3v6.94h-1.3zM36.11 60.81h1.3v6.94h-1.3zM85.24 60.81h1.3v6.94h-1.3zM121.34 60.81h1.3v6.94h-1.3zM142.4 60.81h1.3v6.94h-1.3zM194.54 60.81h1.3v6.94h-1.3zM70.2 67.45h1.3v6.94h-1.3zM73.21 67.45h1.3v6.94h-1.3zM74.21 67.45h1.3v6.94h-1.3zM92.26 67.45h1.3v6.94h-1.3zM135.38 67.45h1.3v6.94h-1.3zM153.43 67.45h1.3v6.94h-1.3zM34.11 74.09h1.3v6.94h-1.3zM106.3 74.09h1.3v6.94h-1.3zM108.31 74.09h1.3v6.94h-1.3zM128.36 74.09h1.3v6.94h-1.3zM144.4 74.09h1.3v6.94h-1.3zM146.41 74.09h1.3v6.94h-1.3zM154.43 74.09h1.3v6.94h-1.3zM175.49 74.09h1.3v6.94h-1.3zM95.27 80.72h1.3v6.94h-1.3zM100.28 80.72h1.3v6.94h-1.3zM135.38 80.72h1.3v6.94h-1.3zM143.4 80.72h1.3v6.94h-1.3zM150.42 80.72h1.3v6.94h-1.3zM161.45 80.72h1.3v6.94h-1.3zM164.46 80.72h1.3v6.94h-1.3zM169.47 80.72h1.3v6.94h-1.3zM65.19 87.36h1.3v6.94h-1.3zM104.3 87.36h1.3v6.94h-1.3zM108.31 87.36h1.3v6.94h-1.3zM139.39 87.36h1.3v6.94h-1.3zM155.43 87.36h1.3v6.94h-1.3zM160.45 87.36h1.3v6.94h-1.3zM170.47 87.36h1.3v6.94h-1.3z" fill="#d9d9ec"/><path d="M99.28 40.9h1.3v6.94h-1.3zM102.29 47.54h1.3v6.94h-1.3zM112.32 47.54h1.3v6.94h-1.3zM118.33 47.54h1.3v6.94h-1.3zM130.37 47.54h1.3v6.94h-1.3zM131.37 47.54h1.3v6.94h-1.3zM33.1 60.81h1.3v6.94h-1.3zM55.16 67.45h1.3v6.94h-1.3zM88.25 74.09h1.3v6.94h-1.3zM91.26 80.72h1.3v6.94h-1.3zM104.3 80.72h1.3v6.94h-1.3zM107.3 80.72h1.3v6.94h-1.3zM85.24 87.36h1.3v6.94h-1.3zM90.26 87.36h1.3v6.94h-1.3zM157.44 87.36h1.3v6.94h-1.3z" fill="#8080c0"/><path d="M182.51 40.9h1.3v6.94h-1.3zM188.52 40.9h1.3v6.94h-1.3zM190.53 40.9h1.3v6.94h-1.3zM194.54 40.9h1.3v6.94h-1.3zM195.54 40.9h1.3v6.94h-1.3zM56.17 47.54h1.3v6.94h-1.3zM184.51 47.54h1.3v6.94h-1.3zM211.59 47.54h1.3v6.94h-1.3zM120.34 54.17h1.3v6.94h-1.3zM194.54 54.17h1.3v6.94h-1.3zM137.39 60.81h1.3v6.94h-1.3zM138.39 60.81h1.3v6.94h-1.3zM176.49 60.81h1.3v6.94h-1.3zM178.5 60.81h1.3v6.94h-1.3zM102.29 67.45h1.3v6.94h-1.3zM103.29 67.45h1.3v6.94h-1.3zM126.36 67.45h1.3v6.94h-1.3zM162.45 67.45h1.3v6.94h-1.3zM43.13 74.09h1.3v6.94h-1.3zM111.31 74.09h1.3v6.94h-1.3zM120.34 74.09h1.3v6.94h-1.3zM121.34 74.09h1.3v6.94h-1.3zM176.49 74.09h1.3v6.94h-1.3zM177.49 74.09h1.3v6.94h-1.3zM178.5 74.09h1.3v6.94h-1.3zM192.53 74.09h1.3v6.94h-1.3zM37.11 80.72h1.3v6.94h-1.3zM182.51 80.72h1.3v6.94h-1.3zM32.1 87.36h1.3v6.94h-1.3zM49.15 87.36h1.3v6.94h-1.3zM192.53 87.36h1.3v6.94h-1.3zM199.55 87.36h1.3v6.94h-1.3zM200.56 87.36h1.3v6.94h-1.3z" fill="#d75151"/><path d="M187.52 40.9h1.3v6.94h-1.3zM189.53 40.9h1.3v6.94h-1.3zM193.54 40.9h1.3v6.94h-1.3zM176.49 47.54h1.3v6.94h-1.3zM135.38 60.81h1.3v6.94h-1.3zM206.57 60.81h1.3v6.94h-1.3zM187.52 67.45h1.3v6.94h-1.3zM188.52 67.45h1.3v6.94h-1.3zM190.53 67.45h1.3v6.94h-1.3zM66.19 74.09h1.3v6.94h-1.3zM69.2 74.09h1.3v6.94h-1.3zM34.11 80.72h1.3v6.94h-1.3zM38.12 80.72h1.3v6.94h-1.3zM182.51 87.36h1.3v6.94h-1.3zM201.56 87.36h1.3v6.94h-1.3z" fill="#d44747"/><path d="M43.13 47.54h1.3v6.94h-1.3zM177.49 47.54h1.3v6.94h-1.3zM210.58 47.54h1.3v6.94h-1.3zM192.53 54.17h1.3v6.94h-1.3zM136.38 60.81h1.3v6.94h-1.3zM139.39 60.81h1.3v6.94h-1.3zM96.27 67.45h1.3v6.94h-1.3zM173.48 67.45h1.3v6.94h-1.3zM51.15 74.09h1.3v6.94h-1.3zM53.16 74.09h1.3v6.94h-1.3zM47.14 80.72h1.3v6.94h-1.3z" fill="#d23c3c"/><path d="M88.25 47.54h1.3v6.94h-1.3zM34.11 54.17h1.3v6.94h-1.3zM100.28 60.81h1.3v6.94h-1.3zM147.41 67.45h1.3v6.94h-1.3zM138.39 74.09h1.3v6.94h-1.3zM105.3 80.72h1.3v6.94h-1.3zM134.38 87.36h1.3v6.94h-1.3zM136.38 87.36h1.3v6.94h-1.3z" fill="#5959ac"/><path d="M114.32 47.54h1.3v6.94h-1.3zM102.29 60.81h1.3v6.94h-1.3zM103.29 60.81h1.3v6.94h-1.3zM85.24 80.72h1.3v6.94h-1.3z" fill="#4040a0"/><path d="M143.4 47.54h1.3v6.94h-1.3zM145.41 47.54h1.3v6.94h-1.3zM100.28 67.45h1.3v6.94h-1.3zM172.48 67.45h1.3v6.94h-1.3zM34.11 87.36h1.3v6.94h-1.3z" fill="#cd2626"/><path d="M32.1 54.17h1.3v6.94h-1.3zM35.11 54.17h1.3v6.94h-1.3zM133.37 54.17h1.3v6.94h-1.3z" fill="#333399"/><path d="M33.1 54.17h1.3v6.94h-1.3zM88.25 80.72h1.3v6.94h-1.3z" fill="#262693"/><path d="M101.29 60.81h1.3v6.94h-1.3z" fill="#0d0d86"/><path d="M86.25 80.72h1.3v6.94h-1.3z" fill="#1a1a8d"/><rect x="32.1" y="95.4" width="184.5" height="1.6" fill="#686868" /><rect x="32.1" y="97" width="184.5" height="2" fill="#928e9a" /><rect x="32.1" y="99" width="184.5" height="1.1" fill="#6a6a6a" /><rect x="32.1" y="100.1" width="184.5" height="2" fill="#b4b4b4" /><rect x="32.1" y="102.1" width="184.5" height="2.9" fill="#7a7a7a" /><path d="M32.1 102.47h1.34v1.49h-1.34zM35.51 102.35h1.49v1.1h-1.49zM37.79 102.49h1.32v0.99h-1.32zM41.61 103.2h1.84v0.88h-1.84zM43.95 102.81h1.68v0.87h-1.68zM46.12 103.27h0.94v0.96h-0.94zM47.97 102.75h2.01v1.19h-2.01zM51.96 102.99h1.55v1.52h-1.55zM53.95 102.95h0.61v0.81h-0.61zM56.91 102.41h1.24v1.26h-1.24zM60.48 102.48h1.49v1.01h-1.49zM62.97 103.15h2.2v1.56h-2.2zM65.63 102.74h1.58v1.34h-1.58zM67.92 102.72h1.84v1.49h-1.84zM70.47 103.48h1.32v1.26h-1.32zM72.11 102.82h1.88v0.97h-1.88zM74.6 103.06h1.12v0.88h-1.12zM76.56 103.27h0.64v1.2h-0.64zM78 102.81h1v0.98h-1zM79.97 103.33h1.24v1.1h-1.24zM87.28 102.55h0.62v1.11h-0.62zM88.62 102.47h2.15v1.25h-2.15zM91.17 103.14h0.74v0.85h-0.74zM92.52 102.76h1.73v1.51h-1.73zM94.67 103.36h1.74v1.2h-1.74zM96.78 102.51h0.68v1.3h-0.68zM97.82 102.32h1.85v0.94h-1.85zM100.28 102.51h1.49v1.19h-1.49zM107.39 103.39h1.44v0.85h-1.44zM109.58 103.17h1.47v1.38h-1.47zM111.42 102.89h1.72v1.31h-1.72zM113.47 103.35h1.56v0.98h-1.56zM115.91 103.35h1.77v0.83h-1.77zM118.4 102.79h1.58v0.86h-1.58zM120.41 102.38h1.57v1.08h-1.57zM122.61 103.23h1.46v1.07h-1.46zM129.29 102.58h0.77v1.42h-0.77zM130.5 102.44h0.95v1.55h-0.95zM132.43 102.86h1.2v1.22h-1.2zM134.19 102.61h1.62v1.21h-1.62zM137.86 102.37h0.77v1h-0.77zM139.52 102.37h1.57v1.02h-1.57zM149.72 103.03h1.11v1.19h-1.11zM151.38 102.55h1.94v1.02h-1.94zM153.94 102.83h1.58v0.95h-1.58zM156.1 102.95h1.12v0.95h-1.12zM158.01 103.05h1.65v1.07h-1.65zM160.28 103.36h1.57v1.39h-1.57zM162.3 102.32h1.47v1.24h-1.47zM164.4 103.3h1.99v1.21h-1.99zM166.75 102.94h1.75v0.86h-1.75zM168.81 102.48h2.07v0.93h-2.07zM175.81 102.73h0.82v1.02h-0.82zM177.15 103.04h1.22v1.49h-1.22zM179.06 102.32h0.62v1.18h-0.62zM183.1 102.84h1.04v1.34h-1.04zM184.6 102.72h1.13v1.28h-1.13zM186.41 102.52h2.09v1.42h-2.09zM189.26 102.55h0.75v1.23h-0.75zM190.95 103.12h0.95v1.14h-0.95zM195.79 103.27h1.39v1.12h-1.39zM204.54 102.94h2.15v1.55h-2.15zM212.28 102.34h0.81v1.12h-0.81zM215.59 102.99h0.88v0.96h-0.88z" fill="#444"/><rect x="44.1" y="105.2" width="92.25" height="0.8" fill="#e4e4e4" /><text transform="translate(218.3 40.71) scale(1 1.2)" font-size="5.35">ISG.group</text><text transform="translate(218.3 47.21) scale(1 1.2)" font-size="5.35">CD274</text><text transform="translate(218.3 53.71) scale(1 1.2)" font-size="5.35">PDCD1LG2</text><text transform="translate(218.3 60.21) scale(1 1.2)" font-size="5.35">CD80</text><text transform="translate(218.3 67.01) scale(1 1.2)" font-size="5.35">CD86</text><text transform="translate(218.3 73.61) scale(1 1.2)" font-size="5.35">HHLA2</text><text transform="translate(218.3 80.01) scale(1 1.2)" font-size="5.35">LGALS9</text><text transform="translate(218.3 86.71) scale(1 1.2)" font-size="5.35">C10orf54</text><text transform="translate(218.3 93.01) scale(1 1.2)" font-size="5.35">PVR</text><defs><linearGradient id="cbA1" x1="0" y1="1" x2="0" y2="0"><stop offset="0" stop-color="#000080"/><stop offset="0.5" stop-color="#ffffff"/><stop offset="1" stop-color="#cd2626"/></linearGradient></defs><rect x="257.6" y="36.2" width="5.2" height="68.7" fill="url(#cbA1)" /><text transform="translate(265.3 51.27) scale(1 1.1)" font-size="6">2</text><text transform="translate(265.3 69.27) scale(1 1.1)" font-size="6">0</text><text transform="translate(265.3 88.27) scale(1 1.1)" font-size="6">−2</text><text transform="translate(265.3 106.27) scale(1 1.1)" font-size="6">−4</text><text transform="translate(276 40.91) scale(1 1.2)" font-size="5.1">ISG.group</text><rect x="276.2" y="45" width="5" height="4.3" fill="#cc2020" /><rect x="276.2" y="49.3" width="5" height="4.4" fill="#2e6b1e" /><text transform="translate(283.4 49.31) scale(1 1.2)" font-size="5.1">ISG.RS.high</text><text transform="translate(283.4 53.91) scale(1 1.2)" font-size="5.1">ISG.RS.low</text><path d="M32.1 44.22H16.4V50.86H32.1M32.1 57.5H13.5V64.14H32.1M16.4 47.54H10.8V60.82H13.5M32.1 84.06H18.5V90.7H32.1M32.1 77.42H12.3V87.38H18.5M32.1 70.78H8.4V82.4H12.3M10.8 54.18H6.6V76.59H8.4" fill="none" stroke="#444" stroke-width="0.6"/><path d="M32.6 148.4V141.56H33.6V148.4M34.61 148.4V141.56H35.61V148.4M33.1 141.56V141.04H35.11V141.56M36.61 148.4V138.45H37.61V148.4M38.62 148.4V142.26H39.62V148.4M39.12 142.26V137.24H40.62V148.4M37.11 138.45V136.16H39.87V137.24M34.11 141.04V135.23H38.49V136.16M42.63 148.4V138.97H43.63V148.4M41.63 148.4V137.74H43.13V138.97M44.63 148.4V139.77H45.64V148.4M46.64 148.4V141.82H47.64V148.4M45.14 139.77V137.74H47.14V141.82M42.38 137.74V136.94H46.14V137.74M48.64 148.4V140.38H49.65V148.4M50.65 148.4V141.2H51.65V148.4M49.15 140.38V136.94H51.15V141.2M44.26 136.94V136.07H50.15V136.94M52.66 148.4V141.67H53.66V148.4M55.66 148.4V143.04H56.67V148.4M54.66 148.4V142.63H56.17V143.04M53.16 141.67V140.55H55.41V142.63M57.67 148.4V141.3H58.67V148.4M54.29 140.55V139.96H58.17V141.3M47.2 136.07V135.14H56.23V139.96M59.67 148.4V142.82H60.68V148.4M51.72 135.14V134.15H60.18V142.82M36.3 135.23V128.5H55.95V134.15M61.68 148.4V141.47H62.68V148.4M63.69 148.4V141.35H64.69V148.4M64.19 141.35V137.12H65.69V148.4M66.69 148.4V142.86H67.7V148.4M64.94 137.12V136.27H67.2V142.86M68.7 148.4V140.14H69.7V148.4M70.7 148.4V141.7H71.71V148.4M69.2 140.14V139.52H71.21V141.7M66.07 136.27V134.27H70.2V139.52M62.18 141.47V133.21H68.14V134.27M72.71 148.4V143.08H73.71V148.4M74.72 148.4V140.35H75.72V148.4M75.22 140.35V137.95H76.72V148.4M73.21 143.08V135.66H75.97V137.95M78.73 148.4V140.09H79.73V148.4M77.72 148.4V139.47H79.23V140.09M74.59 135.66V134.7H78.48V139.47M80.73 148.4V140.36H81.73V148.4M83.74 148.4V140.67H84.74V148.4M82.74 148.4V140.09H84.24V140.67M81.23 140.36V139.47H83.49V140.09M85.75 148.4V142.3H86.75V148.4M87.75 148.4V143.19H88.75V148.4M86.25 142.3V141.84H88.25V143.19M87.25 141.84V141.35H89.76V148.4M91.76 148.4V141.93H92.76V148.4M90.76 148.4V141.44H92.26V141.93M93.77 148.4V141.36H94.77V148.4M91.51 141.44V140.83H94.27V141.36M95.77 148.4V142.57H96.78V148.4M96.27 142.57V141.39H97.78V148.4M92.89 140.83V140.26H97.03V141.39M88.5 141.35V139.47H94.96V140.26M82.36 139.47V138.8H91.73V139.47M99.78 148.4V142.56H100.79V148.4M98.78 148.4V139.18H100.28V142.56M87.05 138.8V135.45H99.53V139.18M101.79 148.4V141.22H102.79V148.4M103.79 148.4V141.13H104.8V148.4M105.8 148.4V141.13H106.8V148.4M104.3 141.13V140.58H106.3V141.13M107.81 148.4V142.25H108.81V148.4M105.3 140.58V139H108.31V142.25M110.81 148.4V142.9H111.82V148.4M112.82 148.4V141.86H113.82V148.4M114.82 148.4V141.86H115.83V148.4M113.32 141.86V141.37H115.33V141.86M111.31 142.9V140.84H114.32V141.37M117.83 148.4V142.32H118.84V148.4M116.83 148.4V141.86H118.33V142.32M112.82 140.84V140.27H117.58V141.86M109.81 148.4V139.66H115.2V140.27M112.51 139.66V139H119.84V148.4M106.8 139V138.29H116.17V139M102.29 141.22V136.36H111.49V138.29M121.84 148.4V142.48H122.85V148.4M120.84 148.4V142.04H122.34V142.48M124.85 148.4V141.78H125.85V148.4M123.85 148.4V141.28H125.35V141.78M121.59 142.04V140.74H124.6V141.28M127.86 148.4V142.67H128.86V148.4M128.36 142.67V142.24H129.86V148.4M131.87 148.4V142.67H132.87V148.4M130.87 148.4V142.24H132.37V142.67M129.11 142.24V141.78H131.62V142.24M130.37 141.78V141.28H133.88V148.4M126.86 148.4V140.74H132.12V141.28M123.1 140.74V140.17H129.49V140.74M126.29 140.17V139.55H134.88V148.4M136.88 148.4V141.7H137.89V148.4M135.88 148.4V139.72H137.39V141.7M138.89 148.4V140.89H139.89V148.4M140.89 148.4V140.89H141.9V148.4M139.39 140.89V140.33H141.4V140.89M140.39 140.33V139.72H142.9V148.4M136.63 139.72V139.07H141.65V139.72M143.9 148.4V141.8H144.91V148.4M139.14 139.07V137.2H144.4V141.8M130.59 139.55V136.36H141.77V137.2M106.89 136.36V135.45H136.18V136.36M93.29 135.45V134.48H121.53V135.45M146.91 148.4V138.58H147.91V148.4M145.91 148.4V135.26H147.41V138.58M107.41 134.48V133.43H146.66V135.26M150.92 148.4V142.09H151.92V148.4M153.93 148.4V142.94H154.93V148.4M155.94 148.4V142.94H156.94V148.4M154.43 142.94V142.53H156.44V142.94M152.93 148.4V142.09H155.43V142.53M151.42 142.09V141.61H154.18V142.09M149.92 148.4V141.1H152.8V141.61M157.94 148.4V141.05H158.94V148.4M159.95 148.4V141.05H160.95V148.4M158.44 141.05V140.5H160.45V141.05M162.95 148.4V142.05H163.96V148.4M163.46 142.05V141.57H164.96V148.4M166.97 148.4V142.49H167.97V148.4M168.97 148.4V142.49H169.97V148.4M167.47 142.49V142.05H169.47V142.49M165.96 148.4V141.57H168.47V142.05M164.21 141.57V141.05H167.22V141.57M161.95 148.4V140.5H165.71V141.05M159.45 140.5V139.91H163.83V140.5M151.36 141.1V139.27H161.64V139.91M148.92 148.4V138.58H156.5V139.27M170.98 148.4V140.66H171.98V148.4M171.48 140.66V140.08H172.98V148.4M172.23 140.08V139.45H173.98V148.4M174.99 148.4V141.99H175.99V148.4M176.99 148.4V143.46H178V148.4M175.49 141.99V141.51H177.49V143.46M179 148.4V143.06H180V148.4M179.5 143.06V142.65H181V148.4M176.49 141.51V140.99H180.25V142.65M182.01 148.4V141.51H183.01V148.4M184.01 148.4V141.51H185.01V148.4M182.51 141.51V140.99H184.51V141.51M178.37 140.99V140.43H183.51V140.99M187.02 148.4V143.38H188.02V148.4M190.03 148.4V142.7H191.03V148.4M189.03 148.4V140.94H190.53V142.7M187.52 143.38V140.37H189.78V140.94M186.02 148.4V139.77H188.65V140.37M192.03 148.4V140.37H193.04V148.4M194.04 148.4V140.37H195.04V148.4M192.53 140.37V139.77H194.54V140.37M187.33 139.77V139.12H193.54V139.77M180.94 140.43V136.36H190.44V139.12M173.11 139.45V135.45H185.69V136.36M197.05 148.4V140.27H198.05V148.4M196.04 148.4V139.66H197.55V140.27M199.05 148.4V143.18H200.06V148.4M203.06 148.4V142.32H204.07V148.4M205.07 148.4V143.14H206.07V148.4M205.57 143.14V142.75H207.07V148.4M206.32 142.75V142.32H208.08V148.4M203.56 142.32V141.86H207.2V142.32M202.06 148.4V141.37H205.38V141.86M201.06 148.4V140.84H203.72V141.37M212.09 148.4V142.75H213.09V148.4M215.1 148.4V143.14H216.1V148.4M214.09 148.4V142.75H215.6V143.14M212.59 142.75V142.32H214.85V142.75M211.09 148.4V141.86H213.72V142.32M210.08 148.4V141.37H212.4V141.86M209.08 148.4V140.84H211.24V141.37M202.39 140.84V140.27H210.16V140.84M199.55 143.18V139.66H206.28V140.27M196.8 139.66V139H202.91V139.66M179.4 135.45V134.48H199.86V139M152.71 138.58V133.43H189.63V134.48M127.04 133.43V132.3H171.17V133.43M76.53 134.7V128.8H149.1V132.3M65.16 133.21V128.5H112.82V128.8M46.12 128.5V123.1H88.99V128.5" fill="none" stroke="#1e1e1e" stroke-width="0.5"/><rect x="32.1" y="148.9" width="184.5" height="3.6" fill="#2e6b1e" /><path d="M32.1 152.9h1.3v7.01h-1.3zM55.16 152.9h1.3v7.01h-1.3zM72.21 152.9h1.3v7.01h-1.3zM76.22 152.9h1.3v7.01h-1.3zM102.29 152.9h1.3v7.01h-1.3zM131.37 152.9h1.3v7.01h-1.3zM133.37 152.9h1.3v7.01h-1.3zM134.38 152.9h1.3v7.01h-1.3zM136.38 152.9h1.3v7.01h-1.3zM149.42 152.9h1.3v7.01h-1.3zM151.42 152.9h1.3v7.01h-1.3zM157.44 152.9h1.3v7.01h-1.3zM172.48 152.9h1.3v7.01h-1.3zM202.56 152.9h1.3v7.01h-1.3zM206.57 152.9h1.3v7.01h-1.3zM208.58 152.9h1.3v7.01h-1.3zM80.23 159.61h1.3v7.01h-1.3zM100.28 159.61h1.3v7.01h-1.3zM101.29 159.61h1.3v7.01h-1.3zM102.29 159.61h1.3v7.01h-1.3zM109.31 159.61h1.3v7.01h-1.3zM114.32 159.61h1.3v7.01h-1.3zM129.36 159.61h1.3v7.01h-1.3zM130.37 159.61h1.3v7.01h-1.3zM148.42 159.61h1.3v7.01h-1.3zM151.42 159.61h1.3v7.01h-1.3zM152.43 159.61h1.3v7.01h-1.3zM166.46 159.61h1.3v7.01h-1.3zM183.51 159.61h1.3v7.01h-1.3zM210.58 159.61h1.3v7.01h-1.3zM213.59 159.61h1.3v7.01h-1.3zM57.17 166.32h1.3v7.01h-1.3zM70.2 166.32h1.3v7.01h-1.3zM75.22 166.32h1.3v7.01h-1.3zM94.27 166.32h1.3v7.01h-1.3zM99.28 166.32h1.3v7.01h-1.3zM102.29 166.32h1.3v7.01h-1.3zM104.3 166.32h1.3v7.01h-1.3zM106.3 166.32h1.3v7.01h-1.3zM120.34 166.32h1.3v7.01h-1.3zM121.34 166.32h1.3v7.01h-1.3zM122.34 166.32h1.3v7.01h-1.3zM126.36 166.32h1.3v7.01h-1.3zM143.4 166.32h1.3v7.01h-1.3zM147.41 166.32h1.3v7.01h-1.3zM148.42 166.32h1.3v7.01h-1.3zM159.45 166.32h1.3v7.01h-1.3zM172.48 166.32h1.3v7.01h-1.3zM181.5 166.32h1.3v7.01h-1.3zM189.53 166.32h1.3v7.01h-1.3zM212.59 166.32h1.3v7.01h-1.3zM51.15 173.04h1.3v7.01h-1.3zM52.15 173.04h1.3v7.01h-1.3zM69.2 173.04h1.3v7.01h-1.3zM83.24 173.04h1.3v7.01h-1.3zM89.25 173.04h1.3v7.01h-1.3zM106.3 173.04h1.3v7.01h-1.3zM107.3 173.04h1.3v7.01h-1.3zM113.32 173.04h1.3v7.01h-1.3zM126.36 173.04h1.3v7.01h-1.3zM137.39 173.04h1.3v7.01h-1.3zM157.44 173.04h1.3v7.01h-1.3zM163.46 173.04h1.3v7.01h-1.3zM168.47 173.04h1.3v7.01h-1.3zM181.5 173.04h1.3v7.01h-1.3zM190.53 173.04h1.3v7.01h-1.3zM197.55 173.04h1.3v7.01h-1.3zM39.12 179.75h1.3v7.01h-1.3zM40.12 179.75h1.3v7.01h-1.3zM63.18 179.75h1.3v7.01h-1.3zM65.19 179.75h1.3v7.01h-1.3zM78.22 179.75h1.3v7.01h-1.3zM79.23 179.75h1.3v7.01h-1.3zM87.25 179.75h1.3v7.01h-1.3zM90.26 179.75h1.3v7.01h-1.3zM111.31 179.75h1.3v7.01h-1.3zM113.32 179.75h1.3v7.01h-1.3zM122.34 179.75h1.3v7.01h-1.3zM134.38 179.75h1.3v7.01h-1.3zM136.38 179.75h1.3v7.01h-1.3zM143.4 179.75h1.3v7.01h-1.3zM145.41 179.75h1.3v7.01h-1.3zM158.44 179.75h1.3v7.01h-1.3zM186.52 179.75h1.3v7.01h-1.3zM209.58 179.75h1.3v7.01h-1.3zM42.13 186.46h1.3v7.01h-1.3zM44.13 186.46h1.3v7.01h-1.3zM46.14 186.46h1.3v7.01h-1.3zM72.21 186.46h1.3v7.01h-1.3zM73.21 186.46h1.3v7.01h-1.3zM80.23 186.46h1.3v7.01h-1.3zM115.33 186.46h1.3v7.01h-1.3zM117.33 186.46h1.3v7.01h-1.3zM118.33 186.46h1.3v7.01h-1.3zM123.35 186.46h1.3v7.01h-1.3zM137.39 186.46h1.3v7.01h-1.3zM171.48 186.46h1.3v7.01h-1.3zM176.49 186.46h1.3v7.01h-1.3zM178.5 186.46h1.3v7.01h-1.3zM179.5 186.46h1.3v7.01h-1.3zM204.57 186.46h1.3v7.01h-1.3zM35.11 193.18h1.3v7.01h-1.3zM85.24 193.18h1.3v7.01h-1.3zM86.25 193.18h1.3v7.01h-1.3zM100.28 193.18h1.3v7.01h-1.3zM123.35 193.18h1.3v7.01h-1.3zM124.35 193.18h1.3v7.01h-1.3zM126.36 193.18h1.3v7.01h-1.3zM130.37 193.18h1.3v7.01h-1.3zM131.37 193.18h1.3v7.01h-1.3zM132.37 193.18h1.3v7.01h-1.3zM137.39 193.18h1.3v7.01h-1.3zM140.39 193.18h1.3v7.01h-1.3zM141.4 193.18h1.3v7.01h-1.3zM148.42 193.18h1.3v7.01h-1.3zM157.44 193.18h1.3v7.01h-1.3zM169.47 193.18h1.3v7.01h-1.3zM177.49 193.18h1.3v7.01h-1.3zM179.5 193.18h1.3v7.01h-1.3zM191.53 193.18h1.3v7.01h-1.3zM208.58 193.18h1.3v7.01h-1.3zM209.58 193.18h1.3v7.01h-1.3zM51.15 199.89h1.3v7.01h-1.3zM52.15 199.89h1.3v7.01h-1.3zM53.16 199.89h1.3v7.01h-1.3zM61.18 199.89h1.3v7.01h-1.3zM71.21 199.89h1.3v7.01h-1.3zM76.22 199.89h1.3v7.01h-1.3zM85.24 199.89h1.3v7.01h-1.3zM87.25 199.89h1.3v7.01h-1.3zM97.28 199.89h1.3v7.01h-1.3zM108.31 199.89h1.3v7.01h-1.3zM109.31 199.89h1.3v7.01h-1.3zM110.31 199.89h1.3v7.01h-1.3zM114.32 199.89h1.3v7.01h-1.3zM143.4 199.89h1.3v7.01h-1.3zM146.41 199.89h1.3v7.01h-1.3zM155.43 199.89h1.3v7.01h-1.3zM157.44 199.89h1.3v7.01h-1.3zM159.45 199.89h1.3v7.01h-1.3zM177.49 199.89h1.3v7.01h-1.3zM179.5 199.89h1.3v7.01h-1.3zM180.5 199.89h1.3v7.01h-1.3zM181.5 199.89h1.3v7.01h-1.3zM203.56 199.89h1.3v7.01h-1.3zM213.59 199.89h1.3v7.01h-1.3z" fill="#cccce6"/><path d="M33.1 152.9h1.3v7.01h-1.3zM57.17 152.9h1.3v7.01h-1.3zM75.22 152.9h1.3v7.01h-1.3zM94.27 152.9h1.3v7.01h-1.3zM137.39 152.9h1.3v7.01h-1.3zM150.42 152.9h1.3v7.01h-1.3zM152.43 152.9h1.3v7.01h-1.3zM158.44 152.9h1.3v7.01h-1.3zM190.53 152.9h1.3v7.01h-1.3zM47.14 159.61h1.3v7.01h-1.3zM78.22 159.61h1.3v7.01h-1.3zM103.29 159.61h1.3v7.01h-1.3zM107.3 159.61h1.3v7.01h-1.3zM150.42 159.61h1.3v7.01h-1.3zM164.46 159.61h1.3v7.01h-1.3zM165.46 159.61h1.3v7.01h-1.3zM167.47 159.61h1.3v7.01h-1.3zM193.54 159.61h1.3v7.01h-1.3zM196.55 159.61h1.3v7.01h-1.3zM36.11 166.32h1.3v7.01h-1.3zM38.12 166.32h1.3v7.01h-1.3zM45.14 166.32h1.3v7.01h-1.3zM68.2 166.32h1.3v7.01h-1.3zM73.21 166.32h1.3v7.01h-1.3zM76.22 166.32h1.3v7.01h-1.3zM77.22 166.32h1.3v7.01h-1.3zM92.26 166.32h1.3v7.01h-1.3zM157.44 166.32h1.3v7.01h-1.3zM162.45 166.32h1.3v7.01h-1.3zM187.52 166.32h1.3v7.01h-1.3zM206.57 166.32h1.3v7.01h-1.3zM74.21 173.04h1.3v7.01h-1.3zM84.24 173.04h1.3v7.01h-1.3zM90.26 173.04h1.3v7.01h-1.3zM102.29 173.04h1.3v7.01h-1.3zM104.3 173.04h1.3v7.01h-1.3zM135.38 173.04h1.3v7.01h-1.3zM136.38 173.04h1.3v7.01h-1.3zM141.4 173.04h1.3v7.01h-1.3zM142.4 173.04h1.3v7.01h-1.3zM149.42 173.04h1.3v7.01h-1.3zM153.43 173.04h1.3v7.01h-1.3zM154.43 173.04h1.3v7.01h-1.3zM160.45 173.04h1.3v7.01h-1.3zM170.47 173.04h1.3v7.01h-1.3zM183.51 173.04h1.3v7.01h-1.3zM187.52 173.04h1.3v7.01h-1.3zM198.55 173.04h1.3v7.01h-1.3zM205.57 173.04h1.3v7.01h-1.3zM209.58 173.04h1.3v7.01h-1.3zM62.18 179.75h1.3v7.01h-1.3zM64.19 179.75h1.3v7.01h-1.3zM85.24 179.75h1.3v7.01h-1.3zM86.25 179.75h1.3v7.01h-1.3zM101.29 179.75h1.3v7.01h-1.3zM105.3 179.75h1.3v7.01h-1.3zM112.32 179.75h1.3v7.01h-1.3zM114.32 179.75h1.3v7.01h-1.3zM128.36 179.75h1.3v7.01h-1.3zM131.37 179.75h1.3v7.01h-1.3zM142.4 179.75h1.3v7.01h-1.3zM144.4 179.75h1.3v7.01h-1.3zM148.42 179.75h1.3v7.01h-1.3zM155.43 179.75h1.3v7.01h-1.3zM183.51 179.75h1.3v7.01h-1.3zM184.51 179.75h1.3v7.01h-1.3zM45.14 186.46h1.3v7.01h-1.3zM60.18 186.46h1.3v7.01h-1.3zM104.3 186.46h1.3v7.01h-1.3zM125.35 186.46h1.3v7.01h-1.3zM135.38 186.46h1.3v7.01h-1.3zM136.38 186.46h1.3v7.01h-1.3zM141.4 186.46h1.3v7.01h-1.3zM142.4 186.46h1.3v7.01h-1.3zM143.4 186.46h1.3v7.01h-1.3zM146.41 186.46h1.3v7.01h-1.3zM205.57 186.46h1.3v7.01h-1.3zM33.1 193.18h1.3v7.01h-1.3zM34.11 193.18h1.3v7.01h-1.3zM60.18 193.18h1.3v7.01h-1.3zM82.24 193.18h1.3v7.01h-1.3zM95.27 193.18h1.3v7.01h-1.3zM107.3 193.18h1.3v7.01h-1.3zM111.31 193.18h1.3v7.01h-1.3zM114.32 193.18h1.3v7.01h-1.3zM133.37 193.18h1.3v7.01h-1.3zM138.39 193.18h1.3v7.01h-1.3zM139.39 193.18h1.3v7.01h-1.3zM147.41 193.18h1.3v7.01h-1.3zM156.44 193.18h1.3v7.01h-1.3zM159.45 193.18h1.3v7.01h-1.3zM162.45 193.18h1.3v7.01h-1.3zM184.51 193.18h1.3v7.01h-1.3zM195.54 193.18h1.3v7.01h-1.3zM206.57 193.18h1.3v7.01h-1.3zM207.58 193.18h1.3v7.01h-1.3zM54.16 199.89h1.3v7.01h-1.3zM58.17 199.89h1.3v7.01h-1.3zM74.21 199.89h1.3v7.01h-1.3zM79.23 199.89h1.3v7.01h-1.3zM86.25 199.89h1.3v7.01h-1.3zM88.25 199.89h1.3v7.01h-1.3zM91.26 199.89h1.3v7.01h-1.3zM95.27 199.89h1.3v7.01h-1.3zM106.3 199.89h1.3v7.01h-1.3zM115.33 199.89h1.3v7.01h-1.3zM116.33 199.89h1.3v7.01h-1.3zM151.42 199.89h1.3v7.01h-1.3zM154.43 199.89h1.3v7.01h-1.3zM158.44 199.89h1.3v7.01h-1.3zM163.46 199.89h1.3v7.01h-1.3zM175.49 199.89h1.3v7.01h-1.3zM195.54 199.89h1.3v7.01h-1.3zM199.55 199.89h1.3v7.01h-1.3zM215.6 199.89h1.3v7.01h-1.3z" fill="#b2b2d9"/><path d="M34.11 152.9h1.3v7.01h-1.3zM36.11 152.9h1.3v7.01h-1.3zM38.12 152.9h1.3v7.01h-1.3zM44.13 152.9h1.3v7.01h-1.3zM46.14 152.9h1.3v7.01h-1.3zM71.21 152.9h1.3v7.01h-1.3zM91.26 152.9h1.3v7.01h-1.3zM135.38 152.9h1.3v7.01h-1.3zM175.49 152.9h1.3v7.01h-1.3zM179.5 152.9h1.3v7.01h-1.3zM187.52 152.9h1.3v7.01h-1.3zM195.54 152.9h1.3v7.01h-1.3zM40.12 159.61h1.3v7.01h-1.3zM41.12 159.61h1.3v7.01h-1.3zM44.13 159.61h1.3v7.01h-1.3zM45.14 159.61h1.3v7.01h-1.3zM50.15 159.61h1.3v7.01h-1.3zM61.18 159.61h1.3v7.01h-1.3zM70.2 159.61h1.3v7.01h-1.3zM85.24 159.61h1.3v7.01h-1.3zM162.45 159.61h1.3v7.01h-1.3zM184.51 159.61h1.3v7.01h-1.3zM189.53 159.61h1.3v7.01h-1.3zM67.2 166.32h1.3v7.01h-1.3zM96.27 166.32h1.3v7.01h-1.3zM103.29 166.32h1.3v7.01h-1.3zM142.4 166.32h1.3v7.01h-1.3zM158.44 166.32h1.3v7.01h-1.3zM164.46 166.32h1.3v7.01h-1.3zM168.47 166.32h1.3v7.01h-1.3zM171.48 166.32h1.3v7.01h-1.3zM174.49 166.32h1.3v7.01h-1.3zM175.49 166.32h1.3v7.01h-1.3zM182.51 166.32h1.3v7.01h-1.3zM185.52 166.32h1.3v7.01h-1.3zM195.54 166.32h1.3v7.01h-1.3zM40.12 173.04h1.3v7.01h-1.3zM43.13 173.04h1.3v7.01h-1.3zM53.16 173.04h1.3v7.01h-1.3zM54.16 173.04h1.3v7.01h-1.3zM67.2 173.04h1.3v7.01h-1.3zM78.22 173.04h1.3v7.01h-1.3zM138.39 173.04h1.3v7.01h-1.3zM162.45 173.04h1.3v7.01h-1.3zM164.46 173.04h1.3v7.01h-1.3zM173.48 173.04h1.3v7.01h-1.3zM182.51 173.04h1.3v7.01h-1.3zM203.56 173.04h1.3v7.01h-1.3zM214.59 173.04h1.3v7.01h-1.3zM83.24 179.75h1.3v7.01h-1.3zM88.25 179.75h1.3v7.01h-1.3zM106.3 179.75h1.3v7.01h-1.3zM109.31 179.75h1.3v7.01h-1.3zM118.33 179.75h1.3v7.01h-1.3zM132.37 179.75h1.3v7.01h-1.3zM161.45 179.75h1.3v7.01h-1.3zM195.54 179.75h1.3v7.01h-1.3zM58.17 186.46h1.3v7.01h-1.3zM71.21 186.46h1.3v7.01h-1.3zM138.39 186.46h1.3v7.01h-1.3zM140.39 186.46h1.3v7.01h-1.3zM170.47 186.46h1.3v7.01h-1.3zM187.52 186.46h1.3v7.01h-1.3zM203.56 186.46h1.3v7.01h-1.3zM211.59 186.46h1.3v7.01h-1.3zM213.59 186.46h1.3v7.01h-1.3zM40.12 193.18h1.3v7.01h-1.3zM44.13 193.18h1.3v7.01h-1.3zM84.24 193.18h1.3v7.01h-1.3zM125.35 193.18h1.3v7.01h-1.3zM151.42 193.18h1.3v7.01h-1.3zM153.43 193.18h1.3v7.01h-1.3zM163.46 193.18h1.3v7.01h-1.3zM178.5 193.18h1.3v7.01h-1.3zM197.55 193.18h1.3v7.01h-1.3zM205.57 193.18h1.3v7.01h-1.3zM214.59 193.18h1.3v7.01h-1.3zM36.11 199.89h1.3v7.01h-1.3zM38.12 199.89h1.3v7.01h-1.3zM43.13 199.89h1.3v7.01h-1.3zM101.29 199.89h1.3v7.01h-1.3zM117.33 199.89h1.3v7.01h-1.3zM147.41 199.89h1.3v7.01h-1.3zM149.42 199.89h1.3v7.01h-1.3zM153.43 199.89h1.3v7.01h-1.3zM162.45 199.89h1.3v7.01h-1.3zM182.51 199.89h1.3v7.01h-1.3zM183.51 199.89h1.3v7.01h-1.3zM184.51 199.89h1.3v7.01h-1.3z" fill="#a6a6d3"/><path d="M35.11 152.9h1.3v7.01h-1.3zM70.2 152.9h1.3v7.01h-1.3zM74.21 152.9h1.3v7.01h-1.3zM85.24 152.9h1.3v7.01h-1.3zM86.25 152.9h1.3v7.01h-1.3zM87.25 152.9h1.3v7.01h-1.3zM88.25 152.9h1.3v7.01h-1.3zM103.29 152.9h1.3v7.01h-1.3zM132.37 152.9h1.3v7.01h-1.3zM147.41 152.9h1.3v7.01h-1.3zM159.45 152.9h1.3v7.01h-1.3zM160.45 152.9h1.3v7.01h-1.3zM162.45 152.9h1.3v7.01h-1.3zM174.49 152.9h1.3v7.01h-1.3zM188.52 152.9h1.3v7.01h-1.3zM203.56 152.9h1.3v7.01h-1.3zM205.57 152.9h1.3v7.01h-1.3zM207.58 152.9h1.3v7.01h-1.3zM209.58 152.9h1.3v7.01h-1.3zM43.13 159.61h1.3v7.01h-1.3zM48.14 159.61h1.3v7.01h-1.3zM49.15 159.61h1.3v7.01h-1.3zM58.17 159.61h1.3v7.01h-1.3zM71.21 159.61h1.3v7.01h-1.3zM72.21 159.61h1.3v7.01h-1.3zM73.21 159.61h1.3v7.01h-1.3zM108.31 159.61h1.3v7.01h-1.3zM110.31 159.61h1.3v7.01h-1.3zM147.41 159.61h1.3v7.01h-1.3zM149.42 159.61h1.3v7.01h-1.3zM163.46 159.61h1.3v7.01h-1.3zM186.52 159.61h1.3v7.01h-1.3zM192.53 159.61h1.3v7.01h-1.3zM198.55 159.61h1.3v7.01h-1.3zM211.59 159.61h1.3v7.01h-1.3zM44.13 166.32h1.3v7.01h-1.3zM71.21 166.32h1.3v7.01h-1.3zM74.21 166.32h1.3v7.01h-1.3zM89.25 166.32h1.3v7.01h-1.3zM113.32 166.32h1.3v7.01h-1.3zM114.32 166.32h1.3v7.01h-1.3zM125.35 166.32h1.3v7.01h-1.3zM130.37 166.32h1.3v7.01h-1.3zM133.37 166.32h1.3v7.01h-1.3zM144.4 166.32h1.3v7.01h-1.3zM153.43 166.32h1.3v7.01h-1.3zM156.44 166.32h1.3v7.01h-1.3zM163.46 166.32h1.3v7.01h-1.3zM190.53 166.32h1.3v7.01h-1.3zM207.58 166.32h1.3v7.01h-1.3zM211.59 166.32h1.3v7.01h-1.3zM68.2 173.04h1.3v7.01h-1.3zM75.22 173.04h1.3v7.01h-1.3zM81.23 173.04h1.3v7.01h-1.3zM82.24 173.04h1.3v7.01h-1.3zM92.26 173.04h1.3v7.01h-1.3zM93.27 173.04h1.3v7.01h-1.3zM95.27 173.04h1.3v7.01h-1.3zM108.31 173.04h1.3v7.01h-1.3zM110.31 173.04h1.3v7.01h-1.3zM111.31 173.04h1.3v7.01h-1.3zM114.32 173.04h1.3v7.01h-1.3zM123.35 173.04h1.3v7.01h-1.3zM125.35 173.04h1.3v7.01h-1.3zM134.38 173.04h1.3v7.01h-1.3zM139.39 173.04h1.3v7.01h-1.3zM140.39 173.04h1.3v7.01h-1.3zM151.42 173.04h1.3v7.01h-1.3zM152.43 173.04h1.3v7.01h-1.3zM158.44 173.04h1.3v7.01h-1.3zM186.52 173.04h1.3v7.01h-1.3zM196.55 173.04h1.3v7.01h-1.3zM202.56 173.04h1.3v7.01h-1.3zM206.57 173.04h1.3v7.01h-1.3zM207.58 173.04h1.3v7.01h-1.3zM37.11 179.75h1.3v7.01h-1.3zM38.12 179.75h1.3v7.01h-1.3zM42.13 179.75h1.3v7.01h-1.3zM80.23 179.75h1.3v7.01h-1.3zM119.34 179.75h1.3v7.01h-1.3zM120.34 179.75h1.3v7.01h-1.3zM121.34 179.75h1.3v7.01h-1.3zM127.36 179.75h1.3v7.01h-1.3zM135.38 179.75h1.3v7.01h-1.3zM137.39 179.75h1.3v7.01h-1.3zM157.44 179.75h1.3v7.01h-1.3zM160.45 179.75h1.3v7.01h-1.3zM187.52 179.75h1.3v7.01h-1.3zM202.56 179.75h1.3v7.01h-1.3zM203.56 179.75h1.3v7.01h-1.3zM205.57 179.75h1.3v7.01h-1.3zM214.59 179.75h1.3v7.01h-1.3zM41.12 186.46h1.3v7.01h-1.3zM70.2 186.46h1.3v7.01h-1.3zM78.22 186.46h1.3v7.01h-1.3zM79.23 186.46h1.3v7.01h-1.3zM107.3 186.46h1.3v7.01h-1.3zM116.33 186.46h1.3v7.01h-1.3zM134.38 186.46h1.3v7.01h-1.3zM139.39 186.46h1.3v7.01h-1.3zM144.4 186.46h1.3v7.01h-1.3zM154.43 186.46h1.3v7.01h-1.3zM156.44 186.46h1.3v7.01h-1.3zM169.47 186.46h1.3v7.01h-1.3zM177.49 186.46h1.3v7.01h-1.3zM190.53 186.46h1.3v7.01h-1.3zM195.54 186.46h1.3v7.01h-1.3zM32.1 193.18h1.3v7.01h-1.3zM81.23 193.18h1.3v7.01h-1.3zM87.25 193.18h1.3v7.01h-1.3zM88.25 193.18h1.3v7.01h-1.3zM93.27 193.18h1.3v7.01h-1.3zM102.29 193.18h1.3v7.01h-1.3zM104.3 193.18h1.3v7.01h-1.3zM129.36 193.18h1.3v7.01h-1.3zM158.44 193.18h1.3v7.01h-1.3zM160.45 193.18h1.3v7.01h-1.3zM164.46 193.18h1.3v7.01h-1.3zM170.47 193.18h1.3v7.01h-1.3zM171.48 193.18h1.3v7.01h-1.3zM183.51 193.18h1.3v7.01h-1.3zM189.53 193.18h1.3v7.01h-1.3zM203.56 193.18h1.3v7.01h-1.3zM41.12 199.89h1.3v7.01h-1.3zM59.17 199.89h1.3v7.01h-1.3zM70.2 199.89h1.3v7.01h-1.3zM73.21 199.89h1.3v7.01h-1.3zM75.22 199.89h1.3v7.01h-1.3zM80.23 199.89h1.3v7.01h-1.3zM100.28 199.89h1.3v7.01h-1.3zM104.3 199.89h1.3v7.01h-1.3zM107.3 199.89h1.3v7.01h-1.3zM113.32 199.89h1.3v7.01h-1.3zM142.4 199.89h1.3v7.01h-1.3zM144.4 199.89h1.3v7.01h-1.3zM152.43 199.89h1.3v7.01h-1.3zM164.46 199.89h1.3v7.01h-1.3zM174.49 199.89h1.3v7.01h-1.3zM176.49 199.89h1.3v7.01h-1.3zM178.5 199.89h1.3v7.01h-1.3zM186.52 199.89h1.3v7.01h-1.3zM200.56 199.89h1.3v7.01h-1.3zM205.57 199.89h1.3v7.01h-1.3zM210.58 199.89h1.3v7.01h-1.3z" fill="#bfbfdf"/><path d="M37.11 152.9h1.3v7.01h-1.3zM40.12 152.9h1.3v7.01h-1.3zM53.16 152.9h1.3v7.01h-1.3zM69.2 152.9h1.3v7.01h-1.3zM82.24 152.9h1.3v7.01h-1.3zM96.27 152.9h1.3v7.01h-1.3zM127.36 152.9h1.3v7.01h-1.3zM138.39 152.9h1.3v7.01h-1.3zM143.4 152.9h1.3v7.01h-1.3zM165.46 152.9h1.3v7.01h-1.3zM169.47 152.9h1.3v7.01h-1.3zM171.48 152.9h1.3v7.01h-1.3zM176.49 152.9h1.3v7.01h-1.3zM192.53 152.9h1.3v7.01h-1.3zM201.56 152.9h1.3v7.01h-1.3zM213.59 152.9h1.3v7.01h-1.3zM39.12 159.61h1.3v7.01h-1.3zM83.24 159.61h1.3v7.01h-1.3zM96.27 159.61h1.3v7.01h-1.3zM176.49 159.61h1.3v7.01h-1.3zM181.5 159.61h1.3v7.01h-1.3zM188.52 159.61h1.3v7.01h-1.3zM190.53 159.61h1.3v7.01h-1.3zM35.11 166.32h1.3v7.01h-1.3zM52.15 166.32h1.3v7.01h-1.3zM78.22 166.32h1.3v7.01h-1.3zM79.23 166.32h1.3v7.01h-1.3zM83.24 166.32h1.3v7.01h-1.3zM85.24 166.32h1.3v7.01h-1.3zM87.25 166.32h1.3v7.01h-1.3zM90.26 166.32h1.3v7.01h-1.3zM108.31 166.32h1.3v7.01h-1.3zM110.31 166.32h1.3v7.01h-1.3zM169.47 166.32h1.3v7.01h-1.3zM198.55 166.32h1.3v7.01h-1.3zM201.56 166.32h1.3v7.01h-1.3zM209.58 166.32h1.3v7.01h-1.3zM39.12 173.04h1.3v7.01h-1.3zM42.13 173.04h1.3v7.01h-1.3zM49.15 173.04h1.3v7.01h-1.3zM103.29 173.04h1.3v7.01h-1.3zM150.42 173.04h1.3v7.01h-1.3zM176.49 173.04h1.3v7.01h-1.3zM67.2 179.75h1.3v7.01h-1.3zM74.21 179.75h1.3v7.01h-1.3zM81.23 179.75h1.3v7.01h-1.3zM82.24 179.75h1.3v7.01h-1.3zM100.28 179.75h1.3v7.01h-1.3zM107.3 179.75h1.3v7.01h-1.3zM108.31 179.75h1.3v7.01h-1.3zM147.41 179.75h1.3v7.01h-1.3zM163.46 179.75h1.3v7.01h-1.3zM197.55 179.75h1.3v7.01h-1.3zM48.14 186.46h1.3v7.01h-1.3zM51.15 186.46h1.3v7.01h-1.3zM53.16 186.46h1.3v7.01h-1.3zM54.16 186.46h1.3v7.01h-1.3zM59.17 186.46h1.3v7.01h-1.3zM113.32 186.46h1.3v7.01h-1.3zM114.32 186.46h1.3v7.01h-1.3zM130.37 186.46h1.3v7.01h-1.3zM133.37 186.46h1.3v7.01h-1.3zM149.42 186.46h1.3v7.01h-1.3zM181.5 186.46h1.3v7.01h-1.3zM194.54 186.46h1.3v7.01h-1.3zM197.55 186.46h1.3v7.01h-1.3zM212.59 186.46h1.3v7.01h-1.3zM39.12 193.18h1.3v7.01h-1.3zM41.12 193.18h1.3v7.01h-1.3zM108.31 193.18h1.3v7.01h-1.3zM109.31 193.18h1.3v7.01h-1.3zM166.46 193.18h1.3v7.01h-1.3zM200.56 193.18h1.3v7.01h-1.3zM81.23 199.89h1.3v7.01h-1.3zM96.27 199.89h1.3v7.01h-1.3zM173.48 199.89h1.3v7.01h-1.3zM193.54 199.89h1.3v7.01h-1.3z" fill="#8c8cc6"/><path d="M39.12 152.9h1.3v7.01h-1.3zM42.13 152.9h1.3v7.01h-1.3zM51.15 152.9h1.3v7.01h-1.3zM67.2 152.9h1.3v7.01h-1.3zM68.2 152.9h1.3v7.01h-1.3zM93.27 152.9h1.3v7.01h-1.3zM95.27 152.9h1.3v7.01h-1.3zM104.3 152.9h1.3v7.01h-1.3zM106.3 152.9h1.3v7.01h-1.3zM140.39 152.9h1.3v7.01h-1.3zM144.4 152.9h1.3v7.01h-1.3zM153.43 152.9h1.3v7.01h-1.3zM170.47 152.9h1.3v7.01h-1.3zM197.55 152.9h1.3v7.01h-1.3zM198.55 152.9h1.3v7.01h-1.3zM210.58 152.9h1.3v7.01h-1.3zM81.23 159.61h1.3v7.01h-1.3zM82.24 159.61h1.3v7.01h-1.3zM88.25 159.61h1.3v7.01h-1.3zM140.39 159.61h1.3v7.01h-1.3zM142.4 159.61h1.3v7.01h-1.3zM179.5 159.61h1.3v7.01h-1.3zM51.15 166.32h1.3v7.01h-1.3zM53.16 166.32h1.3v7.01h-1.3zM54.16 166.32h1.3v7.01h-1.3zM80.23 166.32h1.3v7.01h-1.3zM81.23 166.32h1.3v7.01h-1.3zM86.25 166.32h1.3v7.01h-1.3zM93.27 166.32h1.3v7.01h-1.3zM95.27 166.32h1.3v7.01h-1.3zM140.39 166.32h1.3v7.01h-1.3zM183.51 166.32h1.3v7.01h-1.3zM200.56 166.32h1.3v7.01h-1.3zM214.59 166.32h1.3v7.01h-1.3zM45.14 173.04h1.3v7.01h-1.3zM48.14 173.04h1.3v7.01h-1.3zM79.23 173.04h1.3v7.01h-1.3zM80.23 173.04h1.3v7.01h-1.3zM175.49 173.04h1.3v7.01h-1.3zM179.5 173.04h1.3v7.01h-1.3zM46.14 179.75h1.3v7.01h-1.3zM66.19 179.75h1.3v7.01h-1.3zM76.22 179.75h1.3v7.01h-1.3zM84.24 179.75h1.3v7.01h-1.3zM104.3 179.75h1.3v7.01h-1.3zM116.33 179.75h1.3v7.01h-1.3zM117.33 179.75h1.3v7.01h-1.3zM133.37 179.75h1.3v7.01h-1.3zM139.39 179.75h1.3v7.01h-1.3zM149.42 179.75h1.3v7.01h-1.3zM151.42 179.75h1.3v7.01h-1.3zM181.5 179.75h1.3v7.01h-1.3zM198.55 179.75h1.3v7.01h-1.3zM47.14 186.46h1.3v7.01h-1.3zM52.15 186.46h1.3v7.01h-1.3zM57.17 186.46h1.3v7.01h-1.3zM111.31 186.46h1.3v7.01h-1.3zM112.32 186.46h1.3v7.01h-1.3zM131.37 186.46h1.3v7.01h-1.3zM147.41 186.46h1.3v7.01h-1.3zM151.42 186.46h1.3v7.01h-1.3zM161.45 186.46h1.3v7.01h-1.3zM174.49 186.46h1.3v7.01h-1.3zM193.54 186.46h1.3v7.01h-1.3zM198.55 186.46h1.3v7.01h-1.3zM208.58 186.46h1.3v7.01h-1.3zM214.59 186.46h1.3v7.01h-1.3zM42.13 193.18h1.3v7.01h-1.3zM55.16 193.18h1.3v7.01h-1.3zM110.31 193.18h1.3v7.01h-1.3zM165.46 193.18h1.3v7.01h-1.3zM167.47 193.18h1.3v7.01h-1.3zM198.55 193.18h1.3v7.01h-1.3zM201.56 193.18h1.3v7.01h-1.3zM34.11 199.89h1.3v7.01h-1.3zM35.11 199.89h1.3v7.01h-1.3zM47.14 199.89h1.3v7.01h-1.3zM48.14 199.89h1.3v7.01h-1.3zM49.15 199.89h1.3v7.01h-1.3zM84.24 199.89h1.3v7.01h-1.3zM92.26 199.89h1.3v7.01h-1.3zM192.53 199.89h1.3v7.01h-1.3zM194.54 199.89h1.3v7.01h-1.3z" fill="#8080c0"/><path d="M41.12 152.9h1.3v7.01h-1.3zM45.14 152.9h1.3v7.01h-1.3zM54.16 152.9h1.3v7.01h-1.3zM56.17 152.9h1.3v7.01h-1.3zM66.19 152.9h1.3v7.01h-1.3zM73.21 152.9h1.3v7.01h-1.3zM81.23 152.9h1.3v7.01h-1.3zM83.24 152.9h1.3v7.01h-1.3zM105.3 152.9h1.3v7.01h-1.3zM108.31 152.9h1.3v7.01h-1.3zM109.31 152.9h1.3v7.01h-1.3zM110.31 152.9h1.3v7.01h-1.3zM130.37 152.9h1.3v7.01h-1.3zM145.41 152.9h1.3v7.01h-1.3zM155.43 152.9h1.3v7.01h-1.3zM168.47 152.9h1.3v7.01h-1.3zM173.48 152.9h1.3v7.01h-1.3zM193.54 152.9h1.3v7.01h-1.3zM194.54 152.9h1.3v7.01h-1.3zM200.56 152.9h1.3v7.01h-1.3zM211.59 152.9h1.3v7.01h-1.3zM212.59 152.9h1.3v7.01h-1.3zM215.6 152.9h1.3v7.01h-1.3zM42.13 159.61h1.3v7.01h-1.3zM46.14 159.61h1.3v7.01h-1.3zM79.23 159.61h1.3v7.01h-1.3zM87.25 159.61h1.3v7.01h-1.3zM104.3 159.61h1.3v7.01h-1.3zM141.4 159.61h1.3v7.01h-1.3zM145.41 159.61h1.3v7.01h-1.3zM180.5 159.61h1.3v7.01h-1.3zM191.53 159.61h1.3v7.01h-1.3zM215.6 159.61h1.3v7.01h-1.3zM32.1 166.32h1.3v7.01h-1.3zM37.11 166.32h1.3v7.01h-1.3zM39.12 166.32h1.3v7.01h-1.3zM40.12 166.32h1.3v7.01h-1.3zM41.12 166.32h1.3v7.01h-1.3zM42.13 166.32h1.3v7.01h-1.3zM46.14 166.32h1.3v7.01h-1.3zM56.17 166.32h1.3v7.01h-1.3zM82.24 166.32h1.3v7.01h-1.3zM107.3 166.32h1.3v7.01h-1.3zM109.31 166.32h1.3v7.01h-1.3zM154.43 166.32h1.3v7.01h-1.3zM170.47 166.32h1.3v7.01h-1.3zM173.48 166.32h1.3v7.01h-1.3zM176.49 166.32h1.3v7.01h-1.3zM179.5 166.32h1.3v7.01h-1.3zM197.55 166.32h1.3v7.01h-1.3zM215.6 166.32h1.3v7.01h-1.3zM41.12 173.04h1.3v7.01h-1.3zM55.16 173.04h1.3v7.01h-1.3zM77.22 173.04h1.3v7.01h-1.3zM85.24 173.04h1.3v7.01h-1.3zM87.25 173.04h1.3v7.01h-1.3zM156.44 173.04h1.3v7.01h-1.3zM184.51 173.04h1.3v7.01h-1.3zM32.1 179.75h1.3v7.01h-1.3zM43.13 179.75h1.3v7.01h-1.3zM68.2 179.75h1.3v7.01h-1.3zM69.2 179.75h1.3v7.01h-1.3zM96.27 179.75h1.3v7.01h-1.3zM129.36 179.75h1.3v7.01h-1.3zM130.37 179.75h1.3v7.01h-1.3zM140.39 179.75h1.3v7.01h-1.3zM141.4 179.75h1.3v7.01h-1.3zM146.41 179.75h1.3v7.01h-1.3zM180.5 179.75h1.3v7.01h-1.3zM55.16 186.46h1.3v7.01h-1.3zM132.37 186.46h1.3v7.01h-1.3zM148.42 186.46h1.3v7.01h-1.3zM153.43 186.46h1.3v7.01h-1.3zM163.46 186.46h1.3v7.01h-1.3zM172.48 186.46h1.3v7.01h-1.3zM180.5 186.46h1.3v7.01h-1.3zM192.53 186.46h1.3v7.01h-1.3zM206.57 186.46h1.3v7.01h-1.3zM210.58 186.46h1.3v7.01h-1.3zM215.6 186.46h1.3v7.01h-1.3zM45.14 193.18h1.3v7.01h-1.3zM46.14 193.18h1.3v7.01h-1.3zM57.17 193.18h1.3v7.01h-1.3zM96.27 193.18h1.3v7.01h-1.3zM103.29 193.18h1.3v7.01h-1.3zM152.43 193.18h1.3v7.01h-1.3zM154.43 193.18h1.3v7.01h-1.3zM172.48 193.18h1.3v7.01h-1.3zM180.5 193.18h1.3v7.01h-1.3zM181.5 193.18h1.3v7.01h-1.3zM188.52 193.18h1.3v7.01h-1.3zM190.53 193.18h1.3v7.01h-1.3zM32.1 199.89h1.3v7.01h-1.3zM37.11 199.89h1.3v7.01h-1.3zM82.24 199.89h1.3v7.01h-1.3zM83.24 199.89h1.3v7.01h-1.3zM150.42 199.89h1.3v7.01h-1.3zM156.44 199.89h1.3v7.01h-1.3zM197.55 199.89h1.3v7.01h-1.3z" fill="#9999cc"/><path d="M43.13 152.9h1.3v7.01h-1.3zM51.15 159.61h1.3v7.01h-1.3zM56.17 159.61h1.3v7.01h-1.3zM62.18 159.61h1.3v7.01h-1.3zM64.19 159.61h1.3v7.01h-1.3zM74.21 159.61h1.3v7.01h-1.3zM77.22 159.61h1.3v7.01h-1.3zM95.27 159.61h1.3v7.01h-1.3zM98.28 159.61h1.3v7.01h-1.3zM105.3 159.61h1.3v7.01h-1.3zM125.35 159.61h1.3v7.01h-1.3zM127.36 159.61h1.3v7.01h-1.3zM155.43 159.61h1.3v7.01h-1.3zM159.45 159.61h1.3v7.01h-1.3zM59.17 166.32h1.3v7.01h-1.3zM127.36 166.32h1.3v7.01h-1.3zM129.36 166.32h1.3v7.01h-1.3zM202.56 166.32h1.3v7.01h-1.3zM72.21 173.04h1.3v7.01h-1.3zM73.21 173.04h1.3v7.01h-1.3zM121.34 173.04h1.3v7.01h-1.3zM129.36 173.04h1.3v7.01h-1.3zM146.41 173.04h1.3v7.01h-1.3zM147.41 173.04h1.3v7.01h-1.3zM155.43 173.04h1.3v7.01h-1.3zM185.52 173.04h1.3v7.01h-1.3zM195.54 173.04h1.3v7.01h-1.3zM210.58 173.04h1.3v7.01h-1.3zM57.17 179.75h1.3v7.01h-1.3zM58.17 179.75h1.3v7.01h-1.3zM89.25 179.75h1.3v7.01h-1.3zM126.36 179.75h1.3v7.01h-1.3zM185.52 179.75h1.3v7.01h-1.3zM188.52 179.75h1.3v7.01h-1.3zM199.55 179.75h1.3v7.01h-1.3zM207.58 179.75h1.3v7.01h-1.3zM208.58 179.75h1.3v7.01h-1.3zM215.6 179.75h1.3v7.01h-1.3zM39.12 186.46h1.3v7.01h-1.3zM62.18 186.46h1.3v7.01h-1.3zM77.22 186.46h1.3v7.01h-1.3zM90.26 186.46h1.3v7.01h-1.3zM96.27 186.46h1.3v7.01h-1.3zM119.34 186.46h1.3v7.01h-1.3zM158.44 186.46h1.3v7.01h-1.3zM189.53 186.46h1.3v7.01h-1.3zM89.25 193.18h1.3v7.01h-1.3zM115.33 193.18h1.3v7.01h-1.3zM116.33 193.18h1.3v7.01h-1.3zM118.33 193.18h1.3v7.01h-1.3zM128.36 193.18h1.3v7.01h-1.3zM144.4 193.18h1.3v7.01h-1.3zM161.45 193.18h1.3v7.01h-1.3zM185.52 193.18h1.3v7.01h-1.3zM192.53 193.18h1.3v7.01h-1.3zM193.54 193.18h1.3v7.01h-1.3zM213.59 193.18h1.3v7.01h-1.3zM39.12 199.89h1.3v7.01h-1.3zM98.28 199.89h1.3v7.01h-1.3z" fill="#f2f2f9"/><path d="M47.14 152.9h1.3v7.01h-1.3zM50.15 152.9h1.3v7.01h-1.3zM60.18 152.9h1.3v7.01h-1.3zM64.19 152.9h1.3v7.01h-1.3zM116.33 152.9h1.3v7.01h-1.3zM117.33 152.9h1.3v7.01h-1.3zM161.45 152.9h1.3v7.01h-1.3zM183.51 152.9h1.3v7.01h-1.3zM186.52 152.9h1.3v7.01h-1.3zM54.16 159.61h1.3v7.01h-1.3zM57.17 159.61h1.3v7.01h-1.3zM116.33 159.61h1.3v7.01h-1.3zM121.34 159.61h1.3v7.01h-1.3zM203.56 159.61h1.3v7.01h-1.3zM207.58 159.61h1.3v7.01h-1.3zM60.18 166.32h1.3v7.01h-1.3zM115.33 166.32h1.3v7.01h-1.3zM117.33 166.32h1.3v7.01h-1.3zM204.57 166.32h1.3v7.01h-1.3zM60.18 173.04h1.3v7.01h-1.3zM115.33 173.04h1.3v7.01h-1.3zM116.33 173.04h1.3v7.01h-1.3zM122.34 173.04h1.3v7.01h-1.3zM211.59 173.04h1.3v7.01h-1.3zM212.59 173.04h1.3v7.01h-1.3zM53.16 179.75h1.3v7.01h-1.3zM60.18 179.75h1.3v7.01h-1.3zM71.21 179.75h1.3v7.01h-1.3zM123.35 179.75h1.3v7.01h-1.3zM176.49 179.75h1.3v7.01h-1.3zM177.49 179.75h1.3v7.01h-1.3zM32.1 186.46h1.3v7.01h-1.3zM34.11 186.46h1.3v7.01h-1.3zM43.13 186.46h1.3v7.01h-1.3zM74.21 186.46h1.3v7.01h-1.3zM76.22 186.46h1.3v7.01h-1.3zM88.25 186.46h1.3v7.01h-1.3zM95.27 186.46h1.3v7.01h-1.3zM122.34 186.46h1.3v7.01h-1.3zM127.36 186.46h1.3v7.01h-1.3zM65.19 193.18h1.3v7.01h-1.3zM76.22 193.18h1.3v7.01h-1.3zM194.54 193.18h1.3v7.01h-1.3zM62.18 199.89h1.3v7.01h-1.3zM63.18 199.89h1.3v7.01h-1.3zM120.34 199.89h1.3v7.01h-1.3zM139.39 199.89h1.3v7.01h-1.3zM140.39 199.89h1.3v7.01h-1.3z" fill="#fcf4f4"/><path d="M48.14 152.9h1.3v7.01h-1.3zM78.22 152.9h1.3v7.01h-1.3zM118.33 152.9h1.3v7.01h-1.3zM120.34 152.9h1.3v7.01h-1.3zM121.34 152.9h1.3v7.01h-1.3zM125.35 152.9h1.3v7.01h-1.3zM181.5 152.9h1.3v7.01h-1.3zM94.27 159.61h1.3v7.01h-1.3zM115.33 159.61h1.3v7.01h-1.3zM117.33 159.61h1.3v7.01h-1.3zM200.56 159.61h1.3v7.01h-1.3zM202.56 159.61h1.3v7.01h-1.3zM48.14 166.32h1.3v7.01h-1.3zM151.42 166.32h1.3v7.01h-1.3zM62.18 173.04h1.3v7.01h-1.3zM64.19 173.04h1.3v7.01h-1.3zM65.19 173.04h1.3v7.01h-1.3zM117.33 173.04h1.3v7.01h-1.3zM128.36 173.04h1.3v7.01h-1.3zM133.37 173.04h1.3v7.01h-1.3zM200.56 173.04h1.3v7.01h-1.3zM51.15 179.75h1.3v7.01h-1.3zM52.15 179.75h1.3v7.01h-1.3zM70.2 179.75h1.3v7.01h-1.3zM73.21 179.75h1.3v7.01h-1.3zM173.48 179.75h1.3v7.01h-1.3zM193.54 179.75h1.3v7.01h-1.3zM211.59 179.75h1.3v7.01h-1.3zM213.59 179.75h1.3v7.01h-1.3zM35.11 186.46h1.3v7.01h-1.3zM69.2 186.46h1.3v7.01h-1.3zM82.24 186.46h1.3v7.01h-1.3zM85.24 186.46h1.3v7.01h-1.3zM97.28 186.46h1.3v7.01h-1.3zM100.28 186.46h1.3v7.01h-1.3zM109.31 186.46h1.3v7.01h-1.3zM183.51 186.46h1.3v7.01h-1.3zM77.22 193.18h1.3v7.01h-1.3zM91.26 193.18h1.3v7.01h-1.3zM119.34 193.18h1.3v7.01h-1.3zM121.34 193.18h1.3v7.01h-1.3zM212.59 193.18h1.3v7.01h-1.3zM132.37 199.89h1.3v7.01h-1.3zM141.4 199.89h1.3v7.01h-1.3z" fill="#f8dede"/><path d="M49.15 152.9h1.3v7.01h-1.3zM63.18 152.9h1.3v7.01h-1.3zM79.23 152.9h1.3v7.01h-1.3zM80.23 152.9h1.3v7.01h-1.3zM101.29 152.9h1.3v7.01h-1.3zM122.34 152.9h1.3v7.01h-1.3zM170.47 159.61h1.3v7.01h-1.3zM174.49 159.61h1.3v7.01h-1.3zM201.56 159.61h1.3v7.01h-1.3zM205.57 159.61h1.3v7.01h-1.3zM149.42 166.32h1.3v7.01h-1.3zM152.43 166.32h1.3v7.01h-1.3zM63.18 173.04h1.3v7.01h-1.3zM118.33 173.04h1.3v7.01h-1.3zM127.36 173.04h1.3v7.01h-1.3zM130.37 173.04h1.3v7.01h-1.3zM166.46 173.04h1.3v7.01h-1.3zM91.26 179.75h1.3v7.01h-1.3zM94.27 179.75h1.3v7.01h-1.3zM189.53 179.75h1.3v7.01h-1.3zM192.53 179.75h1.3v7.01h-1.3zM200.56 179.75h1.3v7.01h-1.3zM210.58 179.75h1.3v7.01h-1.3zM33.1 186.46h1.3v7.01h-1.3zM66.19 186.46h1.3v7.01h-1.3zM67.2 186.46h1.3v7.01h-1.3zM75.22 186.46h1.3v7.01h-1.3zM81.23 186.46h1.3v7.01h-1.3zM86.25 186.46h1.3v7.01h-1.3zM89.25 186.46h1.3v7.01h-1.3zM92.26 186.46h1.3v7.01h-1.3zM93.27 186.46h1.3v7.01h-1.3zM102.29 186.46h1.3v7.01h-1.3zM186.52 186.46h1.3v7.01h-1.3zM74.21 193.18h1.3v7.01h-1.3zM75.22 193.18h1.3v7.01h-1.3zM94.27 193.18h1.3v7.01h-1.3zM120.34 193.18h1.3v7.01h-1.3zM64.19 199.89h1.3v7.01h-1.3zM124.35 199.89h1.3v7.01h-1.3zM130.37 199.89h1.3v7.01h-1.3zM133.37 199.89h1.3v7.01h-1.3zM135.38 199.89h1.3v7.01h-1.3z" fill="#fae9e9"/><path d="M52.15 152.9h1.3v7.01h-1.3zM84.24 152.9h1.3v7.01h-1.3zM92.26 152.9h1.3v7.01h-1.3zM107.3 152.9h1.3v7.01h-1.3zM142.4 152.9h1.3v7.01h-1.3zM154.43 152.9h1.3v7.01h-1.3zM156.44 152.9h1.3v7.01h-1.3zM167.47 152.9h1.3v7.01h-1.3zM178.5 152.9h1.3v7.01h-1.3zM196.55 152.9h1.3v7.01h-1.3zM86.25 159.61h1.3v7.01h-1.3zM143.4 159.61h1.3v7.01h-1.3zM144.4 159.61h1.3v7.01h-1.3zM177.49 159.61h1.3v7.01h-1.3zM182.51 159.61h1.3v7.01h-1.3zM33.1 166.32h1.3v7.01h-1.3zM34.11 166.32h1.3v7.01h-1.3zM88.25 166.32h1.3v7.01h-1.3zM138.39 166.32h1.3v7.01h-1.3zM141.4 166.32h1.3v7.01h-1.3zM177.49 166.32h1.3v7.01h-1.3zM178.5 166.32h1.3v7.01h-1.3zM184.51 166.32h1.3v7.01h-1.3zM186.52 166.32h1.3v7.01h-1.3zM196.55 166.32h1.3v7.01h-1.3zM44.13 173.04h1.3v7.01h-1.3zM47.14 173.04h1.3v7.01h-1.3zM50.15 173.04h1.3v7.01h-1.3zM86.25 173.04h1.3v7.01h-1.3zM88.25 173.04h1.3v7.01h-1.3zM177.49 173.04h1.3v7.01h-1.3zM178.5 173.04h1.3v7.01h-1.3zM35.11 179.75h1.3v7.01h-1.3zM44.13 179.75h1.3v7.01h-1.3zM75.22 179.75h1.3v7.01h-1.3zM102.29 179.75h1.3v7.01h-1.3zM110.31 179.75h1.3v7.01h-1.3zM138.39 179.75h1.3v7.01h-1.3zM152.43 179.75h1.3v7.01h-1.3zM153.43 179.75h1.3v7.01h-1.3zM154.43 179.75h1.3v7.01h-1.3zM156.44 179.75h1.3v7.01h-1.3zM162.45 179.75h1.3v7.01h-1.3zM164.46 179.75h1.3v7.01h-1.3zM36.11 186.46h1.3v7.01h-1.3zM49.15 186.46h1.3v7.01h-1.3zM50.15 186.46h1.3v7.01h-1.3zM152.43 186.46h1.3v7.01h-1.3zM162.45 186.46h1.3v7.01h-1.3zM164.46 186.46h1.3v7.01h-1.3zM209.58 186.46h1.3v7.01h-1.3zM36.11 193.18h1.3v7.01h-1.3zM58.17 193.18h1.3v7.01h-1.3zM149.42 193.18h1.3v7.01h-1.3zM44.13 199.89h1.3v7.01h-1.3zM189.53 199.89h1.3v7.01h-1.3zM198.55 199.89h1.3v7.01h-1.3z" fill="#7373b9"/><path d="M58.17 152.9h1.3v7.01h-1.3zM98.28 152.9h1.3v7.01h-1.3zM163.46 152.9h1.3v7.01h-1.3zM52.15 159.61h1.3v7.01h-1.3zM53.16 159.61h1.3v7.01h-1.3zM63.18 159.61h1.3v7.01h-1.3zM97.28 159.61h1.3v7.01h-1.3zM111.31 159.61h1.3v7.01h-1.3zM128.36 159.61h1.3v7.01h-1.3zM131.37 159.61h1.3v7.01h-1.3zM146.41 159.61h1.3v7.01h-1.3zM156.44 159.61h1.3v7.01h-1.3zM157.44 159.61h1.3v7.01h-1.3zM161.45 159.61h1.3v7.01h-1.3zM175.49 159.61h1.3v7.01h-1.3zM194.54 159.61h1.3v7.01h-1.3zM195.54 159.61h1.3v7.01h-1.3zM197.55 159.61h1.3v7.01h-1.3zM58.17 166.32h1.3v7.01h-1.3zM97.28 166.32h1.3v7.01h-1.3zM101.29 166.32h1.3v7.01h-1.3zM123.35 166.32h1.3v7.01h-1.3zM145.41 166.32h1.3v7.01h-1.3zM150.42 166.32h1.3v7.01h-1.3zM155.43 166.32h1.3v7.01h-1.3zM161.45 166.32h1.3v7.01h-1.3zM192.53 166.32h1.3v7.01h-1.3zM203.56 166.32h1.3v7.01h-1.3zM58.17 173.04h1.3v7.01h-1.3zM66.19 173.04h1.3v7.01h-1.3zM94.27 173.04h1.3v7.01h-1.3zM96.27 173.04h1.3v7.01h-1.3zM101.29 173.04h1.3v7.01h-1.3zM120.34 173.04h1.3v7.01h-1.3zM171.48 173.04h1.3v7.01h-1.3zM174.49 173.04h1.3v7.01h-1.3zM189.53 173.04h1.3v7.01h-1.3zM204.57 173.04h1.3v7.01h-1.3zM92.26 179.75h1.3v7.01h-1.3zM97.28 179.75h1.3v7.01h-1.3zM165.46 179.75h1.3v7.01h-1.3zM190.53 179.75h1.3v7.01h-1.3zM40.12 186.46h1.3v7.01h-1.3zM64.19 186.46h1.3v7.01h-1.3zM103.29 186.46h1.3v7.01h-1.3zM106.3 186.46h1.3v7.01h-1.3zM110.31 186.46h1.3v7.01h-1.3zM120.34 186.46h1.3v7.01h-1.3zM121.34 186.46h1.3v7.01h-1.3zM126.36 186.46h1.3v7.01h-1.3zM128.36 186.46h1.3v7.01h-1.3zM129.36 186.46h1.3v7.01h-1.3zM145.41 186.46h1.3v7.01h-1.3zM155.43 186.46h1.3v7.01h-1.3zM168.47 186.46h1.3v7.01h-1.3zM64.19 193.18h1.3v7.01h-1.3zM78.22 193.18h1.3v7.01h-1.3zM79.23 193.18h1.3v7.01h-1.3zM92.26 193.18h1.3v7.01h-1.3zM97.28 193.18h1.3v7.01h-1.3zM98.28 193.18h1.3v7.01h-1.3zM99.28 193.18h1.3v7.01h-1.3zM105.3 193.18h1.3v7.01h-1.3zM112.32 193.18h1.3v7.01h-1.3zM127.36 193.18h1.3v7.01h-1.3zM142.4 193.18h1.3v7.01h-1.3zM143.4 193.18h1.3v7.01h-1.3zM155.43 193.18h1.3v7.01h-1.3zM168.47 193.18h1.3v7.01h-1.3zM202.56 193.18h1.3v7.01h-1.3zM204.57 193.18h1.3v7.01h-1.3zM210.58 193.18h1.3v7.01h-1.3zM211.59 193.18h1.3v7.01h-1.3zM60.18 199.89h1.3v7.01h-1.3zM77.22 199.89h1.3v7.01h-1.3zM94.27 199.89h1.3v7.01h-1.3zM99.28 199.89h1.3v7.01h-1.3zM105.3 199.89h1.3v7.01h-1.3zM121.34 199.89h1.3v7.01h-1.3zM125.35 199.89h1.3v7.01h-1.3zM148.42 199.89h1.3v7.01h-1.3zM160.45 199.89h1.3v7.01h-1.3zM185.52 199.89h1.3v7.01h-1.3zM206.57 199.89h1.3v7.01h-1.3zM211.59 199.89h1.3v7.01h-1.3zM212.59 199.89h1.3v7.01h-1.3z" fill="#e6e6f2"/><path d="M59.17 152.9h1.3v7.01h-1.3zM62.18 152.9h1.3v7.01h-1.3zM97.28 152.9h1.3v7.01h-1.3zM100.28 152.9h1.3v7.01h-1.3zM115.33 152.9h1.3v7.01h-1.3zM182.51 152.9h1.3v7.01h-1.3zM184.51 152.9h1.3v7.01h-1.3zM65.19 159.61h1.3v7.01h-1.3zM75.22 159.61h1.3v7.01h-1.3zM76.22 159.61h1.3v7.01h-1.3zM112.32 159.61h1.3v7.01h-1.3zM113.32 159.61h1.3v7.01h-1.3zM119.34 159.61h1.3v7.01h-1.3zM122.34 159.61h1.3v7.01h-1.3zM160.45 159.61h1.3v7.01h-1.3zM169.47 159.61h1.3v7.01h-1.3zM173.48 159.61h1.3v7.01h-1.3zM185.52 159.61h1.3v7.01h-1.3zM199.55 159.61h1.3v7.01h-1.3zM209.58 159.61h1.3v7.01h-1.3zM47.14 166.32h1.3v7.01h-1.3zM49.15 166.32h1.3v7.01h-1.3zM50.15 166.32h1.3v7.01h-1.3zM116.33 166.32h1.3v7.01h-1.3zM193.54 166.32h1.3v7.01h-1.3zM194.54 166.32h1.3v7.01h-1.3zM70.2 173.04h1.3v7.01h-1.3zM71.21 173.04h1.3v7.01h-1.3zM91.26 173.04h1.3v7.01h-1.3zM119.34 173.04h1.3v7.01h-1.3zM148.42 173.04h1.3v7.01h-1.3zM199.55 173.04h1.3v7.01h-1.3zM55.16 179.75h1.3v7.01h-1.3zM59.17 179.75h1.3v7.01h-1.3zM98.28 179.75h1.3v7.01h-1.3zM124.35 179.75h1.3v7.01h-1.3zM125.35 179.75h1.3v7.01h-1.3zM167.47 179.75h1.3v7.01h-1.3zM178.5 179.75h1.3v7.01h-1.3zM179.5 179.75h1.3v7.01h-1.3zM191.53 179.75h1.3v7.01h-1.3zM201.56 179.75h1.3v7.01h-1.3zM65.19 186.46h1.3v7.01h-1.3zM84.24 186.46h1.3v7.01h-1.3zM87.25 186.46h1.3v7.01h-1.3zM108.31 186.46h1.3v7.01h-1.3zM159.45 186.46h1.3v7.01h-1.3zM160.45 186.46h1.3v7.01h-1.3zM184.51 186.46h1.3v7.01h-1.3zM62.18 193.18h1.3v7.01h-1.3zM63.18 193.18h1.3v7.01h-1.3zM134.38 193.18h1.3v7.01h-1.3zM136.38 193.18h1.3v7.01h-1.3zM145.41 193.18h1.3v7.01h-1.3zM119.34 199.89h1.3v7.01h-1.3zM122.34 199.89h1.3v7.01h-1.3zM123.35 199.89h1.3v7.01h-1.3zM126.36 199.89h1.3v7.01h-1.3zM138.39 199.89h1.3v7.01h-1.3zM161.45 199.89h1.3v7.01h-1.3zM208.58 199.89h1.3v7.01h-1.3z" fill="#ffffff"/><path d="M61.18 152.9h1.3v7.01h-1.3zM99.28 152.9h1.3v7.01h-1.3zM146.41 152.9h1.3v7.01h-1.3zM148.42 152.9h1.3v7.01h-1.3zM164.46 152.9h1.3v7.01h-1.3zM189.53 152.9h1.3v7.01h-1.3zM204.57 152.9h1.3v7.01h-1.3zM59.17 159.61h1.3v7.01h-1.3zM60.18 159.61h1.3v7.01h-1.3zM93.27 159.61h1.3v7.01h-1.3zM99.28 159.61h1.3v7.01h-1.3zM106.3 159.61h1.3v7.01h-1.3zM120.34 159.61h1.3v7.01h-1.3zM132.37 159.61h1.3v7.01h-1.3zM133.37 159.61h1.3v7.01h-1.3zM153.43 159.61h1.3v7.01h-1.3zM154.43 159.61h1.3v7.01h-1.3zM158.44 159.61h1.3v7.01h-1.3zM212.59 159.61h1.3v7.01h-1.3zM43.13 166.32h1.3v7.01h-1.3zM55.16 166.32h1.3v7.01h-1.3zM61.18 166.32h1.3v7.01h-1.3zM66.19 166.32h1.3v7.01h-1.3zM69.2 166.32h1.3v7.01h-1.3zM72.21 166.32h1.3v7.01h-1.3zM91.26 166.32h1.3v7.01h-1.3zM98.28 166.32h1.3v7.01h-1.3zM100.28 166.32h1.3v7.01h-1.3zM105.3 166.32h1.3v7.01h-1.3zM111.31 166.32h1.3v7.01h-1.3zM112.32 166.32h1.3v7.01h-1.3zM119.34 166.32h1.3v7.01h-1.3zM124.35 166.32h1.3v7.01h-1.3zM128.36 166.32h1.3v7.01h-1.3zM131.37 166.32h1.3v7.01h-1.3zM132.37 166.32h1.3v7.01h-1.3zM146.41 166.32h1.3v7.01h-1.3zM160.45 166.32h1.3v7.01h-1.3zM180.5 166.32h1.3v7.01h-1.3zM188.52 166.32h1.3v7.01h-1.3zM191.53 166.32h1.3v7.01h-1.3zM205.57 166.32h1.3v7.01h-1.3zM208.58 166.32h1.3v7.01h-1.3zM210.58 166.32h1.3v7.01h-1.3zM213.59 166.32h1.3v7.01h-1.3zM59.17 173.04h1.3v7.01h-1.3zM61.18 173.04h1.3v7.01h-1.3zM76.22 173.04h1.3v7.01h-1.3zM100.28 173.04h1.3v7.01h-1.3zM105.3 173.04h1.3v7.01h-1.3zM109.31 173.04h1.3v7.01h-1.3zM112.32 173.04h1.3v7.01h-1.3zM124.35 173.04h1.3v7.01h-1.3zM143.4 173.04h1.3v7.01h-1.3zM144.4 173.04h1.3v7.01h-1.3zM145.41 173.04h1.3v7.01h-1.3zM159.45 173.04h1.3v7.01h-1.3zM161.45 173.04h1.3v7.01h-1.3zM169.47 173.04h1.3v7.01h-1.3zM172.48 173.04h1.3v7.01h-1.3zM180.5 173.04h1.3v7.01h-1.3zM188.52 173.04h1.3v7.01h-1.3zM208.58 173.04h1.3v7.01h-1.3zM213.59 173.04h1.3v7.01h-1.3zM215.6 173.04h1.3v7.01h-1.3zM36.11 179.75h1.3v7.01h-1.3zM41.12 179.75h1.3v7.01h-1.3zM56.17 179.75h1.3v7.01h-1.3zM61.18 179.75h1.3v7.01h-1.3zM77.22 179.75h1.3v7.01h-1.3zM93.27 179.75h1.3v7.01h-1.3zM95.27 179.75h1.3v7.01h-1.3zM99.28 179.75h1.3v7.01h-1.3zM159.45 179.75h1.3v7.01h-1.3zM166.46 179.75h1.3v7.01h-1.3zM204.57 179.75h1.3v7.01h-1.3zM206.57 179.75h1.3v7.01h-1.3zM63.18 186.46h1.3v7.01h-1.3zM105.3 186.46h1.3v7.01h-1.3zM124.35 186.46h1.3v7.01h-1.3zM157.44 186.46h1.3v7.01h-1.3zM188.52 186.46h1.3v7.01h-1.3zM202.56 186.46h1.3v7.01h-1.3zM43.13 193.18h1.3v7.01h-1.3zM80.23 193.18h1.3v7.01h-1.3zM83.24 193.18h1.3v7.01h-1.3zM90.26 193.18h1.3v7.01h-1.3zM101.29 193.18h1.3v7.01h-1.3zM106.3 193.18h1.3v7.01h-1.3zM113.32 193.18h1.3v7.01h-1.3zM117.33 193.18h1.3v7.01h-1.3zM135.38 193.18h1.3v7.01h-1.3zM146.41 193.18h1.3v7.01h-1.3zM176.49 193.18h1.3v7.01h-1.3zM186.52 193.18h1.3v7.01h-1.3zM215.6 193.18h1.3v7.01h-1.3zM40.12 199.89h1.3v7.01h-1.3zM42.13 199.89h1.3v7.01h-1.3zM72.21 199.89h1.3v7.01h-1.3zM78.22 199.89h1.3v7.01h-1.3zM93.27 199.89h1.3v7.01h-1.3zM111.31 199.89h1.3v7.01h-1.3zM112.32 199.89h1.3v7.01h-1.3zM118.33 199.89h1.3v7.01h-1.3zM145.41 199.89h1.3v7.01h-1.3zM172.48 199.89h1.3v7.01h-1.3zM201.56 199.89h1.3v7.01h-1.3zM202.56 199.89h1.3v7.01h-1.3zM204.57 199.89h1.3v7.01h-1.3zM207.58 199.89h1.3v7.01h-1.3zM209.58 199.89h1.3v7.01h-1.3z" fill="#d9d9ec"/><path d="M65.19 152.9h1.3v7.01h-1.3zM77.22 152.9h1.3v7.01h-1.3zM119.34 152.9h1.3v7.01h-1.3zM124.35 152.9h1.3v7.01h-1.3zM126.36 152.9h1.3v7.01h-1.3zM55.16 159.61h1.3v7.01h-1.3zM118.33 159.61h1.3v7.01h-1.3zM123.35 159.61h1.3v7.01h-1.3zM124.35 159.61h1.3v7.01h-1.3zM126.36 159.61h1.3v7.01h-1.3zM204.57 159.61h1.3v7.01h-1.3zM208.58 159.61h1.3v7.01h-1.3zM135.38 166.32h1.3v7.01h-1.3zM98.28 173.04h1.3v7.01h-1.3zM99.28 173.04h1.3v7.01h-1.3zM131.37 173.04h1.3v7.01h-1.3zM165.46 173.04h1.3v7.01h-1.3zM167.47 173.04h1.3v7.01h-1.3zM191.53 173.04h1.3v7.01h-1.3zM201.56 173.04h1.3v7.01h-1.3zM54.16 179.75h1.3v7.01h-1.3zM175.49 179.75h1.3v7.01h-1.3zM68.2 186.46h1.3v7.01h-1.3zM91.26 186.46h1.3v7.01h-1.3zM94.27 186.46h1.3v7.01h-1.3zM99.28 186.46h1.3v7.01h-1.3zM65.19 199.89h1.3v7.01h-1.3zM66.19 199.89h1.3v7.01h-1.3zM131.37 199.89h1.3v7.01h-1.3z" fill="#f5d4d4"/><path d="M89.25 152.9h1.3v7.01h-1.3zM90.26 152.9h1.3v7.01h-1.3zM128.36 152.9h1.3v7.01h-1.3zM129.36 152.9h1.3v7.01h-1.3zM139.39 152.9h1.3v7.01h-1.3zM141.4 152.9h1.3v7.01h-1.3zM177.49 152.9h1.3v7.01h-1.3zM191.53 152.9h1.3v7.01h-1.3zM214.59 152.9h1.3v7.01h-1.3zM32.1 159.61h1.3v7.01h-1.3zM84.24 159.61h1.3v7.01h-1.3zM138.39 159.61h1.3v7.01h-1.3zM139.39 159.61h1.3v7.01h-1.3zM178.5 159.61h1.3v7.01h-1.3zM187.52 159.61h1.3v7.01h-1.3zM214.59 159.61h1.3v7.01h-1.3zM84.24 166.32h1.3v7.01h-1.3zM46.14 173.04h1.3v7.01h-1.3zM56.17 173.04h1.3v7.01h-1.3zM57.17 173.04h1.3v7.01h-1.3zM34.11 179.75h1.3v7.01h-1.3zM45.14 179.75h1.3v7.01h-1.3zM115.33 179.75h1.3v7.01h-1.3zM38.12 186.46h1.3v7.01h-1.3zM56.17 186.46h1.3v7.01h-1.3zM182.51 186.46h1.3v7.01h-1.3zM196.55 186.46h1.3v7.01h-1.3zM201.56 186.46h1.3v7.01h-1.3zM207.58 186.46h1.3v7.01h-1.3zM59.17 193.18h1.3v7.01h-1.3zM61.18 193.18h1.3v7.01h-1.3zM150.42 193.18h1.3v7.01h-1.3zM173.48 193.18h1.3v7.01h-1.3zM182.51 193.18h1.3v7.01h-1.3zM187.52 193.18h1.3v7.01h-1.3zM46.14 199.89h1.3v7.01h-1.3zM102.29 199.89h1.3v7.01h-1.3zM103.29 199.89h1.3v7.01h-1.3zM196.55 199.89h1.3v7.01h-1.3z" fill="#6666b3"/><path d="M111.31 152.9h1.3v7.01h-1.3z" fill="#de7272"/><path d="M112.32 152.9h1.3v7.01h-1.3z" fill="#da5c5c"/><path d="M113.32 152.9h1.3v7.01h-1.3zM62.18 166.32h1.3v7.01h-1.3zM63.18 166.32h1.3v7.01h-1.3z" fill="#e69292"/><path d="M114.32 152.9h1.3v7.01h-1.3zM64.19 166.32h1.3v7.01h-1.3zM65.19 166.32h1.3v7.01h-1.3z" fill="#e17d7d"/><path d="M123.35 152.9h1.3v7.01h-1.3zM180.5 152.9h1.3v7.01h-1.3zM168.47 159.61h1.3v7.01h-1.3zM171.48 159.61h1.3v7.01h-1.3zM172.48 159.61h1.3v7.01h-1.3zM206.57 159.61h1.3v7.01h-1.3zM118.33 166.32h1.3v7.01h-1.3zM134.38 166.32h1.3v7.01h-1.3zM136.38 166.32h1.3v7.01h-1.3zM132.37 173.04h1.3v7.01h-1.3zM72.21 179.75h1.3v7.01h-1.3zM170.47 179.75h1.3v7.01h-1.3zM174.49 179.75h1.3v7.01h-1.3zM194.54 179.75h1.3v7.01h-1.3zM212.59 179.75h1.3v7.01h-1.3zM98.28 186.46h1.3v7.01h-1.3zM101.29 186.46h1.3v7.01h-1.3zM67.2 193.18h1.3v7.01h-1.3zM71.21 193.18h1.3v7.01h-1.3zM73.21 193.18h1.3v7.01h-1.3zM122.34 193.18h1.3v7.01h-1.3zM129.36 199.89h1.3v7.01h-1.3zM136.38 199.89h1.3v7.01h-1.3zM137.39 199.89h1.3v7.01h-1.3z" fill="#f2c9c9"/><path d="M166.46 152.9h1.3v7.01h-1.3zM199.55 152.9h1.3v7.01h-1.3zM35.11 159.61h1.3v7.01h-1.3zM91.26 159.61h1.3v7.01h-1.3zM139.39 166.32h1.3v7.01h-1.3zM32.1 173.04h1.3v7.01h-1.3zM35.11 173.04h1.3v7.01h-1.3zM33.1 179.75h1.3v7.01h-1.3zM49.15 179.75h1.3v7.01h-1.3zM103.29 179.75h1.3v7.01h-1.3zM182.51 179.75h1.3v7.01h-1.3zM196.55 179.75h1.3v7.01h-1.3zM61.18 186.46h1.3v7.01h-1.3zM150.42 186.46h1.3v7.01h-1.3zM191.53 186.46h1.3v7.01h-1.3zM37.11 193.18h1.3v7.01h-1.3zM38.12 193.18h1.3v7.01h-1.3zM49.15 193.18h1.3v7.01h-1.3zM56.17 193.18h1.3v7.01h-1.3zM174.49 193.18h1.3v7.01h-1.3zM196.55 193.18h1.3v7.01h-1.3zM33.1 199.89h1.3v7.01h-1.3zM45.14 199.89h1.3v7.01h-1.3zM50.15 199.89h1.3v7.01h-1.3zM89.25 199.89h1.3v7.01h-1.3zM90.26 199.89h1.3v7.01h-1.3zM168.47 199.89h1.3v7.01h-1.3zM191.53 199.89h1.3v7.01h-1.3zM214.59 199.89h1.3v7.01h-1.3z" fill="#5959ac"/><path d="M185.52 152.9h1.3v7.01h-1.3zM137.39 166.32h1.3v7.01h-1.3zM193.54 173.04h1.3v7.01h-1.3zM169.47 179.75h1.3v7.01h-1.3zM83.24 186.46h1.3v7.01h-1.3zM185.52 186.46h1.3v7.01h-1.3zM66.19 193.18h1.3v7.01h-1.3zM68.2 199.89h1.3v7.01h-1.3zM127.36 199.89h1.3v7.01h-1.3zM134.38 199.89h1.3v7.01h-1.3z" fill="#f0bebe"/><path d="M33.1 159.61h1.3v7.01h-1.3zM37.11 159.61h1.3v7.01h-1.3zM135.38 159.61h1.3v7.01h-1.3zM38.12 173.04h1.3v7.01h-1.3z" fill="#1a1a8d"/><path d="M34.11 159.61h1.3v7.01h-1.3zM66.19 159.61h1.3v7.01h-1.3zM90.26 159.61h1.3v7.01h-1.3zM36.11 173.04h1.3v7.01h-1.3zM166.46 186.46h1.3v7.01h-1.3zM47.14 193.18h1.3v7.01h-1.3zM54.16 193.18h1.3v7.01h-1.3zM57.17 199.89h1.3v7.01h-1.3zM169.47 199.89h1.3v7.01h-1.3zM187.52 199.89h1.3v7.01h-1.3z" fill="#333399"/><path d="M36.11 159.61h1.3v7.01h-1.3zM137.39 159.61h1.3v7.01h-1.3zM33.1 173.04h1.3v7.01h-1.3zM50.15 179.75h1.3v7.01h-1.3zM200.56 186.46h1.3v7.01h-1.3zM166.46 199.89h1.3v7.01h-1.3zM190.53 199.89h1.3v7.01h-1.3z" fill="#262693"/><path d="M38.12 159.61h1.3v7.01h-1.3zM67.2 159.61h1.3v7.01h-1.3zM69.2 159.61h1.3v7.01h-1.3zM89.25 159.61h1.3v7.01h-1.3zM92.26 159.61h1.3v7.01h-1.3zM136.38 159.61h1.3v7.01h-1.3zM47.14 179.75h1.3v7.01h-1.3zM48.14 179.75h1.3v7.01h-1.3zM37.11 186.46h1.3v7.01h-1.3zM175.49 186.46h1.3v7.01h-1.3zM48.14 193.18h1.3v7.01h-1.3zM50.15 193.18h1.3v7.01h-1.3zM51.15 193.18h1.3v7.01h-1.3zM52.15 193.18h1.3v7.01h-1.3zM53.16 193.18h1.3v7.01h-1.3zM56.17 199.89h1.3v7.01h-1.3zM170.47 199.89h1.3v7.01h-1.3z" fill="#4040a0"/><path d="M68.2 159.61h1.3v7.01h-1.3zM134.38 159.61h1.3v7.01h-1.3zM199.55 166.32h1.3v7.01h-1.3zM34.11 173.04h1.3v7.01h-1.3zM150.42 179.75h1.3v7.01h-1.3zM165.46 186.46h1.3v7.01h-1.3zM167.47 186.46h1.3v7.01h-1.3zM173.48 186.46h1.3v7.01h-1.3zM175.49 193.18h1.3v7.01h-1.3zM199.55 193.18h1.3v7.01h-1.3zM55.16 199.89h1.3v7.01h-1.3zM165.46 199.89h1.3v7.01h-1.3zM167.47 199.89h1.3v7.01h-1.3zM171.48 199.89h1.3v7.01h-1.3zM188.52 199.89h1.3v7.01h-1.3z" fill="#4c4ca6"/><path d="M165.46 166.32h1.3v7.01h-1.3zM166.46 166.32h1.3v7.01h-1.3zM167.47 166.32h1.3v7.01h-1.3zM97.28 173.04h1.3v7.01h-1.3zM194.54 173.04h1.3v7.01h-1.3zM171.48 179.75h1.3v7.01h-1.3zM68.2 193.18h1.3v7.01h-1.3zM70.2 193.18h1.3v7.01h-1.3zM67.2 199.89h1.3v7.01h-1.3zM69.2 199.89h1.3v7.01h-1.3zM128.36 199.89h1.3v7.01h-1.3z" fill="#eeb3b3"/><path d="M37.11 173.04h1.3v7.01h-1.3z" fill="#000080"/><path d="M192.53 173.04h1.3v7.01h-1.3zM168.47 179.75h1.3v7.01h-1.3zM172.48 179.75h1.3v7.01h-1.3zM69.2 193.18h1.3v7.01h-1.3zM72.21 193.18h1.3v7.01h-1.3z" fill="#eba8a8"/><path d="M199.55 186.46h1.3v7.01h-1.3z" fill="#0d0d86"/><rect x="32.1" y="208.1" width="184.5" height="1.81" fill="#686868" /><rect x="32.1" y="209.91" width="184.5" height="2.26" fill="#928e9a" /><rect x="32.1" y="212.17" width="184.5" height="1.24" fill="#6a6a6a" /><rect x="32.1" y="213.41" width="184.5" height="2.26" fill="#b4b4b4" /><rect x="32.1" y="215.67" width="184.5" height="3.28" fill="#7a7a7a" /><path d="M32.1 216.68h1.51v1.09h-1.51zM34.48 216.11h1.92v1.37h-1.92zM40.32 216.81h1.21v1.32h-1.21zM42.31 216.94h1.66v1.79h-1.66zM44.95 215.9h1.58v1.03h-1.58zM47.49 217.11h1.08v1.19h-1.08zM49.26 216.69h1.3v1.67h-1.3zM50.97 215.95h0.96v1.35h-0.96zM52.8 217.06h1.65v1.04h-1.65zM55.15 216.05h1.2v1.61h-1.2zM58.54 216.23h1.29v1.15h-1.29zM60.57 216.51h0.89v1.05h-0.89zM62.21 216.55h1.91v1.22h-1.91zM64.73 216.35h0.61v1.19h-0.61zM65.69 216.43h1.32v1.69h-1.32zM67.78 217.13h0.99v1.37h-0.99zM69.49 216.52h0.7v1.27h-0.7zM70.78 216.56h1.54v1.05h-1.54zM72.93 215.94h2.15v0.91h-2.15zM75.75 216.04h0.68v1.31h-0.68zM77.43 216.49h1.38v1.36h-1.38zM81.97 217.13h1.28v1.04h-1.28zM83.71 216.77h1.59v1.44h-1.59zM90.62 217.14h2.02v1.6h-2.02zM93.61 216.81h2.17v1.03h-2.17zM96.5 216.37h2.07v0.98h-2.07zM99.01 217.25h0.93v1.71h-0.93zM100.57 216.61h1.79v1.29h-1.79zM103.12 216.39h1.49v1.47h-1.49zM105.35 217.08h0.94v1.69h-0.94zM107.04 216.02h0.71v0.95h-0.71zM108.23 216.75h1.33v1.16h-1.33zM110.35 216.25h1.41v1.3h-1.41zM112.3 216.5h1.76v1.34h-1.76zM114.7 216.98h1.7v1.27h-1.7zM121.79 216.33h0.63v1.57h-0.63zM123.15 216.13h1.05v0.99h-1.05zM125.05 216.91h2.1v1.76h-2.1zM127.58 217.22h1.52v1.69h-1.52zM133.31 215.96h2.13v1.53h-2.13zM137.85 216.11h1.56v1.45h-1.56zM140.32 217.15h2.2v1.37h-2.2zM143.06 216.37h1.24v1.04h-1.24zM145.2 216.88h1.73v1.8h-1.73zM149.82 216.16h1.49v1.3h-1.49zM151.72 216.76h2.09v1.42h-2.09zM154.79 216.41h1.87v0.95h-1.87zM158.43 216.39h0.88v1.07h-0.88zM160.27 216.48h0.67v1.22h-0.67zM161.38 216.92h0.86v1.33h-0.86zM163.08 217.09h2.01v1.43h-2.01zM168.81 216.32h0.77v1.17h-0.77zM170.34 217.13h2.03v1.46h-2.03zM173.09 216.11h1.45v1.52h-1.45zM175.33 216.54h0.76v1.43h-0.76zM176.66 217.21h0.95v1.07h-0.95zM178.51 217h1.45v0.92h-1.45zM182.8 217.23h1.17v1.06h-1.17zM185.95 216.69h0.99v1.28h-0.99zM187.63 215.93h0.65v0.95h-0.65zM189.12 216.42h2.17v0.92h-2.17zM191.89 217.12h1.66v1.4h-1.66zM193.89 216.35h1.2v0.94h-1.2zM195.83 216.39h1.38v0.97h-1.38zM197.7 216.11h0.88v0.98h-0.88zM199.25 216.06h0.83v1.54h-0.83zM200.94 216.76h1.9v1.59h-1.9zM203.43 216.76h1.42v1.45h-1.42zM205.6 216.31h1.46v1.53h-1.46zM207.65 216.8h1.97v1.01h-1.97zM210.13 216.75h1.96v0.93h-1.96zM215.02 216.8h1.84v1.04h-1.84z" fill="#444"/><rect x="44.1" y="219.17" width="92.25" height="0.8" fill="#e4e4e4" /><text transform="translate(218.3 153.11) scale(1 1.2)" font-size="5.35">ISG.group</text><text transform="translate(218.3 159.71) scale(1 1.2)" font-size="5.35">HHLA2</text><text transform="translate(218.3 166.51) scale(1 1.2)" font-size="5.35">CD80</text><text transform="translate(218.3 173.01) scale(1 1.2)" font-size="5.35">CD274</text><text transform="translate(218.3 179.41) scale(1 1.2)" font-size="5.35">PDCD1LG2</text><text transform="translate(218.3 186.21) scale(1 1.2)" font-size="5.35">CD86</text><text transform="translate(218.3 192.71) scale(1 1.2)" font-size="5.35">LGALS9</text><text transform="translate(218.3 199.51) scale(1 1.2)" font-size="5.35">C10orf54</text><text transform="translate(218.3 206.01) scale(1 1.2)" font-size="5.35">PVR</text><defs><linearGradient id="cbA2" x1="0" y1="1" x2="0" y2="0"><stop offset="0" stop-color="#000080"/><stop offset="0.5" stop-color="#ffffff"/><stop offset="1" stop-color="#cd2626"/></linearGradient></defs><rect x="255.3" y="148.7" width="5.5" height="72.8" fill="url(#cbA2)" /><text transform="translate(263.3 161.87) scale(1 1.1)" font-size="6">4</text><text transform="translate(263.3 178.07) scale(1 1.1)" font-size="6">2</text><text transform="translate(263.3 194.07) scale(1 1.1)" font-size="6">0</text><text transform="translate(263.3 209.87) scale(1 1.1)" font-size="6">−2</text><text transform="translate(272.2 148.11) scale(1 1.2)" font-size="5.1">ISG.group</text><rect x="272.5" y="152" width="5" height="4.4" fill="#cc2020" /><rect x="272.5" y="156.4" width="5" height="4.5" fill="#2e6b1e" /><text transform="translate(279.6 155.81) scale(1 1.2)" font-size="5.1">ISG.RS.high</text><text transform="translate(279.6 160.91) scale(1 1.2)" font-size="5.1">ISG.RS.low</text><path d="M32.1 169.68H15.2V176.38H32.1M32.1 162.97H12.3V173.03H15.2M32.1 156.25H9.1V168H12.3M32.1 196.52H18.2V203.23H32.1M32.1 189.81H11.7V199.87H18.2M32.1 183.09H8.4V194.84H11.7M9.1 162.13H6.8V188.97H8.4" fill="none" stroke="#444" stroke-width="0.6"/><text transform="translate(327.2 16.66) scale(1 1)" font-size="11.5" fill="#000" font-weight="bold">B</text><text transform="translate(365 25.13) scale(1 1.2)" font-size="5.15">ISG.RS.group</text><rect x="403" y="20.2" width="7" height="5.1" fill="#e3eefa" stroke="#6aa2dc" stroke-width="0.7" rx="0.9"/><path d="M403.3 22.75L409.7 22.75" stroke="#6aa2dc" stroke-width="0.4"/><path d="M406.5 19.4L406.5 20.2" stroke="#6aa2dc" stroke-width="0.9"/><path d="M406.5 25.3L406.5 26.1" stroke="#6aa2dc" stroke-width="0.9"/><text transform="translate(412 25.13) scale(1 1.2)" font-size="5.15">ISG.RS.high</text><rect x="446" y="20.2" width="7" height="5.1" fill="#f9eed0" stroke="#e8b12a" stroke-width="0.7" rx="0.9"/><path d="M446.3 22.75L452.7 22.75" stroke="#e8b12a" stroke-width="0.4"/><path d="M449.5 19.4L449.5 20.2" stroke="#e8b12a" stroke-width="0.9"/><path d="M449.5 25.3L449.5 26.1" stroke="#e8b12a" stroke-width="0.9"/><text transform="translate(455.4 25.13) scale(1 1.2)" font-size="5.15">ISG.RS.low</text><path d="M366.6 35.3L366.6 248.7" stroke="#000" stroke-width="1"/><path d="M366.1 248.2L480.6 248.2" stroke="#000" stroke-width="1"/><path d="M371.4 248.7L371.4 250.9" stroke="#000" stroke-width="0.8"/><text transform="translate(371.4 259.6) scale(1 1)" font-size="6.1" text-anchor="middle">0</text><path d="M405.6 248.7L405.6 250.9" stroke="#000" stroke-width="0.8"/><text transform="translate(405.6 259.6) scale(1 1)" font-size="6.1" text-anchor="middle">5</text><path d="M439.8 248.7L439.8 250.9" stroke="#000" stroke-width="0.8"/><text transform="translate(439.8 259.6) scale(1 1)" font-size="6.1" text-anchor="middle">10</text><path d="M474 248.7L474 250.9" stroke="#000" stroke-width="0.8"/><text transform="translate(474 259.6) scale(1 1)" font-size="6.1" text-anchor="middle">15</text><text transform="translate(423.8 270.48) scale(1 1.25)" font-size="6.7" text-anchor="middle">log2(FPKM)</text><path d="M363.3 50.9L366.6 50.9" stroke="#000" stroke-width="0.8"/><text transform="translate(360.3 53.35) scale(1 1.13)" font-size="6.3" text-anchor="end">PVR</text><path d="M405 45.6L417.1 45.6" stroke="#e8b12a" stroke-width="0.8"/><path d="M424.8 45.6L436.1 45.6" stroke="#e8b12a" stroke-width="0.8"/><rect x="417.1" y="40.9" width="7.7" height="9.4" fill="#fff" stroke="#e8b12a" stroke-width="0.8"/><path d="M421.4 40.9L421.4 50.3" stroke="#e8b12a" stroke-width="0.8"/><path d="M397.5 45.6h.01M401.5 45.6h.01M437.5 45.6h.01M439.5 45.6h.01M441 45.6h.01M443 45.6h.01" stroke="#e8b12a" stroke-width="1.9" stroke-linecap="round"/><path d="M411.3 56.1L421.4 56.1" stroke="#6aa2dc" stroke-width="0.8"/><path d="M430.4 56.1L439.8 56.1" stroke="#6aa2dc" stroke-width="0.8"/><rect x="421.4" y="51.4" width="9" height="9.4" fill="#fff" stroke="#6aa2dc" stroke-width="0.8"/><path d="M426.7 51.4L426.7 60.8" stroke="#6aa2dc" stroke-width="0.8"/><path d="M406 56.1h.01M409 56.1h.01M444.5 56.1h.01M447 56.1h.01" stroke="#6aa2dc" stroke-width="1.9" stroke-linecap="round"/><path d="M471.4 49.7h.01M474.25 49.7h.01M477.1 49.7h.01M479.95 49.7h.01" stroke="#222" stroke-width="1.6" stroke-linecap="round"/><path d="M363.3 76.81L366.6 76.81" stroke="#000" stroke-width="0.8"/><text transform="translate(360.3 79.26) scale(1 1.13)" font-size="6.3" text-anchor="end">PDCD1LG2</text><path d="M415.4 71.51L423 71.51" stroke="#e8b12a" stroke-width="0.8"/><path d="M431.8 71.51L443 71.51" stroke="#e8b12a" stroke-width="0.8"/><rect x="423" y="66.81" width="8.8" height="9.4" fill="#fff" stroke="#e8b12a" stroke-width="0.8"/><path d="M428.5 66.81L428.5 76.21" stroke="#e8b12a" stroke-width="0.8"/><path d="M402 71.51h.01M407 71.51h.01M409 71.51h.01M411 71.51h.01M445.5 71.51h.01" stroke="#e8b12a" stroke-width="1.9" stroke-linecap="round"/><path d="M416.5 82.01L431.2 82.01" stroke="#6aa2dc" stroke-width="0.8"/><path d="M440.8 82.01L451.5 82.01" stroke="#6aa2dc" stroke-width="0.8"/><rect x="431.2" y="77.31" width="9.6" height="9.4" fill="#fff" stroke="#6aa2dc" stroke-width="0.8"/><path d="M436.2 77.31L436.2 86.71" stroke="#6aa2dc" stroke-width="0.8"/><path d="M457.5 82.01h.01M462 82.01h.01" stroke="#6aa2dc" stroke-width="1.9" stroke-linecap="round"/><path d="M471.4 75.61h.01M474.25 75.61h.01M477.1 75.61h.01M479.95 75.61h.01" stroke="#222" stroke-width="1.6" stroke-linecap="round"/><path d="M363.3 102.72L366.6 102.72" stroke="#000" stroke-width="0.8"/><text transform="translate(360.3 105.17) scale(1 1.13)" font-size="6.3" text-anchor="end">LGALS9</text><path d="M433.8 97.42L444.6 97.42" stroke="#e8b12a" stroke-width="0.8"/><path d="M454.6 97.42L463 97.42" stroke="#e8b12a" stroke-width="0.8"/><rect x="444.6" y="92.72" width="10" height="9.4" fill="#fff" stroke="#e8b12a" stroke-width="0.8"/><path d="M450.3 92.72L450.3 102.12" stroke="#e8b12a" stroke-width="0.8"/><path d="M427 97.42h.01" stroke="#e8b12a" stroke-width="1.9" stroke-linecap="round"/><path d="M437.7 107.92L451.8 107.92" stroke="#6aa2dc" stroke-width="0.8"/><path d="M458.9 107.92L469.2 107.92" stroke="#6aa2dc" stroke-width="0.8"/><rect x="451.8" y="103.22" width="7.1" height="9.4" fill="#fff" stroke="#6aa2dc" stroke-width="0.8"/><path d="M454.6 103.22L454.6 112.62" stroke="#6aa2dc" stroke-width="0.8"/><path d="M437.7 107.92h.01M439 107.92h.01M440.5 107.92h.01M442 107.92h.01" stroke="#6aa2dc" stroke-width="1.9" stroke-linecap="round"/><path d="M471.4 101.52h.01M474.25 101.52h.01M477.1 101.52h.01M479.95 101.52h.01" stroke="#222" stroke-width="1.6" stroke-linecap="round"/><path d="M363.3 128.63L366.6 128.63" stroke="#000" stroke-width="0.8"/><text transform="translate(360.3 131.08) scale(1 1.13)" font-size="6.3" text-anchor="end">HHLA2</text><path d="M371.5 123.33L381.6 123.33" stroke="#e8b12a" stroke-width="0.8"/><path d="M403.8 123.33L438.4 123.33" stroke="#e8b12a" stroke-width="0.8"/><rect x="381.6" y="118.63" width="22.2" height="9.4" fill="#fff" stroke="#e8b12a" stroke-width="0.8"/><path d="M392 118.63L392 128.03" stroke="#e8b12a" stroke-width="0.8"/><path d="M443.5 123.33h.01M447 123.33h.01" stroke="#e8b12a" stroke-width="1.9" stroke-linecap="round"/><path d="M371.5 133.83L386.2 133.83" stroke="#6aa2dc" stroke-width="0.8"/><path d="M406.6 133.83L435.4 133.83" stroke="#6aa2dc" stroke-width="0.8"/><rect x="386.2" y="129.13" width="20.4" height="9.4" fill="#fff" stroke="#6aa2dc" stroke-width="0.8"/><path d="M396.6 129.13L396.6 138.53" stroke="#6aa2dc" stroke-width="0.8"/><path d="M437 133.83h.01M439 133.83h.01M441 133.83h.01M444 133.83h.01M451 133.83h.01M455 133.83h.01" stroke="#6aa2dc" stroke-width="1.9" stroke-linecap="round"/><path d="M475.8 127.83h.01" stroke="#222" stroke-width="1.6" stroke-linecap="round"/><path d="M363.3 154.54L366.6 154.54" stroke="#000" stroke-width="0.8"/><text transform="translate(360.3 156.99) scale(1 1.13)" font-size="6.3" text-anchor="end">CD86</text><path d="M424.2 149.24L437.3 149.24" stroke="#e8b12a" stroke-width="0.8"/><path d="M448.8 149.24L461.6 149.24" stroke="#e8b12a" stroke-width="0.8"/><rect x="437.3" y="144.54" width="11.5" height="9.4" fill="#fff" stroke="#e8b12a" stroke-width="0.8"/><path d="M443.2 144.54L443.2 153.94" stroke="#e8b12a" stroke-width="0.8"/><path d="M417.3 149.24h.01" stroke="#e8b12a" stroke-width="1.9" stroke-linecap="round"/><path d="M434.2 159.74L443.2 159.74" stroke="#6aa2dc" stroke-width="0.8"/><path d="M451.5 159.74L462.7 159.74" stroke="#6aa2dc" stroke-width="0.8"/><rect x="443.2" y="155.04" width="8.3" height="9.4" fill="#fff" stroke="#6aa2dc" stroke-width="0.8"/><path d="M447.3 155.04L447.3 164.44" stroke="#6aa2dc" stroke-width="0.8"/><path d="M429.6 159.74h.01M431.5 159.74h.01" stroke="#6aa2dc" stroke-width="1.9" stroke-linecap="round"/><path d="M471.4 153.34h.01M474.25 153.34h.01M477.1 153.34h.01M479.95 153.34h.01" stroke="#222" stroke-width="1.6" stroke-linecap="round"/><path d="M363.3 180.45L366.6 180.45" stroke="#000" stroke-width="0.8"/><text transform="translate(360.3 182.9) scale(1 1.13)" font-size="6.3" text-anchor="end">CD80</text><path d="M411.2 175.15L427.7 175.15" stroke="#e8b12a" stroke-width="0.8"/><path d="M438.4 175.15L449.8 175.15" stroke="#e8b12a" stroke-width="0.8"/><rect x="427.7" y="170.45" width="10.7" height="9.4" fill="#fff" stroke="#e8b12a" stroke-width="0.8"/><path d="M433.2 170.45L433.2 179.85" stroke="#e8b12a" stroke-width="0.8"/><path d="M405.2 175.15h.01M409 175.15h.01M411 175.15h.01M413 175.15h.01" stroke="#e8b12a" stroke-width="1.9" stroke-linecap="round"/><path d="M416.4 185.65L429 185.65" stroke="#6aa2dc" stroke-width="0.8"/><path d="M438 185.65L449.8 185.65" stroke="#6aa2dc" stroke-width="0.8"/><rect x="429" y="180.95" width="9" height="9.4" fill="#fff" stroke="#6aa2dc" stroke-width="0.8"/><path d="M434.3 180.95L434.3 190.35" stroke="#6aa2dc" stroke-width="0.8"/><path d="M401.4 185.65h.01M410 185.65h.01M413.5 185.65h.01M415 185.65h.01M453 185.65h.01" stroke="#6aa2dc" stroke-width="1.9" stroke-linecap="round"/><text transform="translate(475.5 183.37) scale(1 1)" font-size="5.3" text-anchor="middle">ns</text><path d="M363.3 206.36L366.6 206.36" stroke="#000" stroke-width="0.8"/><text transform="translate(360.3 208.81) scale(1 1.13)" font-size="6.3" text-anchor="end">CD274</text><path d="M398.7 201.06L414.6 201.06" stroke="#e8b12a" stroke-width="0.8"/><path d="M425 201.06L439.6 201.06" stroke="#e8b12a" stroke-width="0.8"/><rect x="414.6" y="196.36" width="10.4" height="9.4" fill="#fff" stroke="#e8b12a" stroke-width="0.8"/><path d="M420.4 196.36L420.4 205.76" stroke="#e8b12a" stroke-width="0.8"/><path d="M396.7 201.06h.01M441 201.06h.01M443 201.06h.01M446 201.06h.01M449 201.06h.01M451 201.06h.01M460.2 201.06h.01M475.2 201.06h.01" stroke="#e8b12a" stroke-width="1.9" stroke-linecap="round"/><path d="M403.8 211.56L421.2 211.56" stroke="#6aa2dc" stroke-width="0.8"/><path d="M434.6 211.56L452.5 211.56" stroke="#6aa2dc" stroke-width="0.8"/><rect x="421.2" y="206.86" width="13.4" height="9.4" fill="#fff" stroke="#6aa2dc" stroke-width="0.8"/><path d="M427.5 206.86L427.5 216.26" stroke="#6aa2dc" stroke-width="0.8"/><path d="M460 211.56h.01M462 211.56h.01M464 211.56h.01" stroke="#6aa2dc" stroke-width="1.9" stroke-linecap="round"/><path d="M471.4 205.16h.01M474.25 205.16h.01M477.1 205.16h.01M479.95 205.16h.01" stroke="#222" stroke-width="1.6" stroke-linecap="round"/><path d="M363.3 232.27L366.6 232.27" stroke="#000" stroke-width="0.8"/><text transform="translate(360.3 234.72) scale(1 1.13)" font-size="6.3" text-anchor="end">C10orf54</text><path d="M428.5 226.97L438.5 226.97" stroke="#e8b12a" stroke-width="0.8"/><path d="M446.9 226.97L456.9 226.97" stroke="#e8b12a" stroke-width="0.8"/><rect x="438.5" y="222.27" width="8.4" height="9.4" fill="#fff" stroke="#e8b12a" stroke-width="0.8"/><path d="M442 222.27L442 231.67" stroke="#e8b12a" stroke-width="0.8"/><path d="M421 226.97h.01M423 226.97h.01M425 226.97h.01M427.5 226.97h.01M461.5 226.97h.01" stroke="#e8b12a" stroke-width="1.9" stroke-linecap="round"/><path d="M433 237.47L444.2 237.47" stroke="#6aa2dc" stroke-width="0.8"/><path d="M451.8 237.47L462 237.47" stroke="#6aa2dc" stroke-width="0.8"/><rect x="444.2" y="232.77" width="7.6" height="9.4" fill="#fff" stroke="#6aa2dc" stroke-width="0.8"/><path d="M448.5 232.77L448.5 242.17" stroke="#6aa2dc" stroke-width="0.8"/><path d="M427.7 237.47h.01" stroke="#6aa2dc" stroke-width="1.9" stroke-linecap="round"/><path d="M471.4 231.07h.01M474.25 231.07h.01M477.1 231.07h.01M479.95 231.07h.01" stroke="#222" stroke-width="1.6" stroke-linecap="round"/><text transform="translate(6.9 246.66) scale(1 1)" font-size="11.5" fill="#000" font-weight="bold">C</text><path d="M42.1 271.5V264.16H43.11V271.5M44.11 271.5V264.64H45.12V271.5M49.14 271.5V264.38H50.14V271.5M48.13 271.5V263.84H49.64V264.38M47.13 271.5V263.13H48.89V263.84M51.15 271.5V265.55H52.15V271.5M48.01 263.13V262.5H51.65V265.55M46.12 271.5V261.83H49.83V262.5M54.17 271.5V265.21H55.17V271.5M53.16 271.5V262.55H54.67V265.21M56.18 271.5V263.74H57.18V271.5M53.91 262.55V261.87H56.68V263.74M47.98 261.83V260.63H55.3V261.87M44.62 264.64V259.81H51.64V260.63M42.61 264.16V258.94H48.13V259.81M58.19 271.5V262.97H59.19V271.5M60.2 271.5V264.41H61.2V271.5M58.69 262.97V262.33H60.7V264.41M59.69 262.33V261.11H62.21V271.5M63.21 271.5V265.44H64.22V271.5M65.22 271.5V264.83H66.23V271.5M67.23 271.5V264.64H68.24V271.5M65.73 264.83V263.61H67.74V264.64M63.71 265.44V260.5H66.73V263.61M71.25 271.5V263.53H72.26V271.5M71.76 263.53V262.93H73.26V271.5M74.27 271.5V265.32H75.27V271.5M72.51 262.93V262.28H74.77V265.32M70.25 271.5V261.59H73.64V262.28M69.24 271.5V260.5H71.95V261.59M65.22 260.5V259.68H70.59V260.5M79.3 271.5V265.34H80.3V271.5M78.29 271.5V264.39H79.8V265.34M77.29 271.5V262.25H79.04V264.39M76.28 271.5V260.79H78.16V262.25M82.31 271.5V264.43H83.32V271.5M82.81 264.43V263.9H84.32V271.5M83.57 263.9V263.32H85.33V271.5M87.34 271.5V264.02H88.34V271.5M86.33 271.5V262.65H87.84V264.02M89.35 271.5V264.14H90.35V271.5M91.36 271.5V264.12H92.36V271.5M89.85 264.14V263.56H91.86V264.12M87.09 262.65V261.99H90.86V263.56M84.45 263.32V261.27H88.97V261.99M81.31 271.5V260.5H86.71V261.27M77.22 260.79V259.68H84.01V260.5M67.91 259.68V258.79H80.62V259.68M97.39 271.5V264.45H98.39V271.5M97.89 264.45V263.92H99.4V271.5M98.65 263.92V263.27H100.41V271.5M102.42 271.5V263.85H103.42V271.5M101.41 271.5V263.27H102.92V263.85M99.53 263.27V262.65H102.16V263.27M96.38 271.5V261.99H100.84V262.65M95.38 271.5V261.27H98.61V261.99M94.37 271.5V260.5H97V261.27M93.37 271.5V259.68H95.69V260.5M105.43 271.5V265.02H106.44V271.5M107.44 271.5V264.1H108.45V271.5M105.93 265.02V262.79H107.94V264.1M109.45 271.5V264.92H110.46V271.5M106.94 262.79V262.13H109.95V264.92M104.43 271.5V261.43H108.45V262.13M94.53 259.68V258.79H106.44V261.43M74.26 258.79V257.83H100.48V258.79M60.95 261.11V256.8H87.37V257.83M111.46 271.5V262.67H112.47V271.5M111.97 262.67V260.97H113.47V271.5M114.48 271.5V263.13H115.48V271.5M112.72 260.97V259.57H114.98V263.13M118.5 271.5V264.23H119.5V271.5M119 264.23V263.6H120.51V271.5M117.49 271.5V263H119.76V263.6M116.49 271.5V262.36H118.62V263M123.53 271.5V265.25H124.53V271.5M122.52 271.5V263.73H124.03V265.25M123.27 263.73V261.76H125.54V271.5M121.51 271.5V259.68H124.4V261.76M117.56 262.36V258.79H122.96V259.68M113.85 259.57V257.83H120.26V258.79M127.55 271.5V263.48H128.55V271.5M129.56 271.5V263.56H130.56V271.5M128.05 263.48V262.87H130.06V263.56M126.54 271.5V262.22H129.05V262.87M131.57 271.5V265.24H132.57V271.5M127.8 262.22V261.27H132.07V265.24M129.93 261.27V260.5H133.58V271.5M134.58 271.5V265.15H135.59V271.5M136.59 271.5V265.55H137.6V271.5M135.09 265.15V263.06H137.1V265.55M138.6 271.5V264.08H139.61V271.5M136.09 263.06V261.27H139.11V264.08M141.62 271.5V263.27H142.62V271.5M142.12 263.27V262.65H143.63V271.5M144.63 271.5V263.85H145.64V271.5M145.14 263.85V263.27H146.65V271.5M145.89 263.27V262.65H147.65V271.5M142.88 262.65V261.99H146.77V262.65M140.61 271.5V261.27H144.82V261.99M137.6 261.27V260.5H142.72V261.27M131.76 260.5V259.68H140.16V260.5M148.66 271.5V262.82H149.66V271.5M135.96 259.68V258.79H149.16V262.82M151.67 271.5V264.81H152.68V271.5M152.17 264.81V264.31H153.68V271.5M150.67 271.5V263.53H152.93V264.31M142.56 258.79V257.83H151.8V263.53M117.05 257.83V256.8H147.18V257.83M74.16 256.8V252.6H132.12V256.8M45.37 258.94V252.3H103.14V252.6M156.7 271.5V265.02H157.7V271.5M155.69 271.5V263.12H157.2V265.02M154.69 271.5V261.73H156.45V263.12M158.71 271.5V265.21H159.71V271.5M155.57 261.73V260.51H159.21V265.21M160.72 271.5V264.41H161.72V271.5M161.22 264.41V263.88H162.73V271.5M163.73 271.5V263.25H164.74V271.5M161.97 263.88V261.2H164.24V263.25M166.75 271.5V263.85H167.75V271.5M168.76 271.5V264.45H169.77V271.5M167.25 263.85V263.27H169.26V264.45M165.74 271.5V262.23H168.26V263.27M171.78 271.5V264.9H172.78V271.5M170.77 271.5V264.4H172.28V264.9M171.52 264.4V263.39H173.79V271.5M167 262.23V257.67H172.66V263.39M175.8 271.5V263.51H176.8V271.5M177.81 271.5V265.52H178.81V271.5M176.3 263.51V260.78H178.31V265.52M174.79 271.5V259.97H177.3V260.78M181.83 271.5V263.36H182.83V271.5M180.82 271.5V262.38H182.33V263.36M179.82 271.5V261.69H181.58V262.38M184.84 271.5V263.3H185.85V271.5M183.84 271.5V262.68H185.35V263.3M186.85 271.5V265.43H187.86V271.5M187.36 265.43V262.23H188.86V271.5M184.59 262.68V261.53H188.11V262.23M186.35 261.53V260.78H189.87V271.5M180.7 261.69V259.97H188.11V260.78M176.05 259.97V259.11H184.4V259.97M180.23 259.11V255.99H190.87V271.5M192.89 271.5V264.17H193.89V271.5M193.39 264.17V263.22H194.9V271.5M195.9 271.5V264.51H196.91V271.5M194.14 263.22V262.16H196.4V264.51M191.88 271.5V261.46H195.27V262.16M199.92 271.5V263.91H200.93V271.5M198.92 271.5V263.33H200.42V263.91M202.94 271.5V263.09H203.94V271.5M201.93 271.5V261.43H203.44V263.09M199.67 263.33V260.67H202.69V261.43M197.91 271.5V259.85H201.18V260.67M204.95 271.5V263.17H205.95V271.5M206.96 271.5V263.64H207.96V271.5M207.46 263.64V263.05H208.97V271.5M205.45 263.17V262.13H208.21V263.05M199.54 259.85V258.98H206.83V262.13M193.58 261.46V258.04H203.19V258.98M209.97 271.5V262.65H210.98V271.5M198.38 258.04V257.02H210.48V262.65M212.99 271.5V263.92H213.99V271.5M215 271.5V264.72H216.01V271.5M213.49 263.92V262.04H215.5V264.72M218.02 271.5V264.78H219.02V271.5M217.01 271.5V263.86H218.52V264.78M217.76 263.86V262.04H220.03V271.5M214.5 262.04V261.33H218.9V262.04M216.7 261.33V260.57H221.03V271.5M211.98 271.5V259.74H218.86V260.57M204.43 257.02V255.93H215.42V259.74M185.55 255.99V254.76H209.93V255.93M223.04 271.5V263.97H224.05V271.5M222.04 271.5V262.78H223.54V263.97M226.06 271.5V263.62H227.06V271.5M228.07 271.5V264.67H229.07V271.5M228.57 264.67V263.62H230.08V271.5M226.56 263.62V263.03H229.32V263.62M225.05 271.5V262.39H227.94V263.03M231.08 271.5V264.35H232.09V271.5M231.59 264.35V263.08H233.09V271.5M232.34 263.08V260.46H234.1V271.5M235.1 271.5V264.98H236.11V271.5M233.22 260.46V259.63H235.61V264.98M226.5 262.39V258.74H234.41V259.63M222.79 262.78V257.78H230.46V258.74M237.11 271.5V264.67H238.12V271.5M240.13 271.5V264.46H241.14V271.5M242.14 271.5V263.4H243.15V271.5M240.63 264.46V260.46H242.64V263.4M245.16 271.5V262.6H246.16V271.5M244.15 271.5V261.23H245.66V262.6M247.17 271.5V263.31H248.17V271.5M249.18 271.5V264.41H250.18V271.5M247.67 263.31V261.99H249.68V264.41M251.19 271.5V265.14H252.19V271.5M248.67 261.99V261.27H251.69V265.14M244.91 261.23V260.46H250.18V261.27M241.64 260.46V259.63H247.54V260.46M239.13 271.5V258.74H244.59V259.63M237.62 264.67V257.78H241.86V258.74M226.62 257.78V256.74H239.74V257.78M253.2 271.5V263.53H254.2V271.5M255.21 271.5V263.62H256.21V271.5M255.71 263.62V261.89H257.22V271.5M253.7 263.53V259.82H256.47V261.89M258.22 271.5V264.84H259.23V271.5M260.23 271.5V265.1H261.24V271.5M260.74 265.1V263.09H262.25V271.5M258.73 264.84V259.82H261.49V263.09M255.08 259.82V258.94H260.11V259.82M266.27 271.5V264.62H267.27V271.5M265.26 271.5V264.1H266.77V264.62M264.26 271.5V263.54H266.01V264.1M268.28 271.5V264.74H269.28V271.5M271.29 271.5V264.76H272.3V271.5M270.29 271.5V264.25H271.79V264.76M268.78 264.74V261.66H271.04V264.25M265.14 263.54V260.74H269.91V261.66M263.25 271.5V258.94H267.52V260.74M257.6 258.94V257.99H265.39V258.94M233.18 256.74V254.76H261.49V257.99M197.74 254.76V253.5H247.34V254.76M169.83 257.67V250.5H222.54V253.5M163.11 261.2V248.3H196.18V250.5M157.39 260.51V247.4H179.64V248.3M74.25 252.3V237.6H168.52V247.4" fill="none" stroke="#000" stroke-width="1.0"/><path d="M41.6 271.8h1.3v11.15h-1.3zM47.61 271.8h1.3v11.15h-1.3zM64.62 271.8h1.3v11.15h-1.3zM66.62 271.8h1.3v11.15h-1.3zM68.62 271.8h1.3v11.15h-1.3zM69.62 271.8h1.3v11.15h-1.3zM73.63 271.8h1.3v11.15h-1.3zM76.63 271.8h1.3v11.15h-1.3zM104.65 271.8h1.3v11.15h-1.3zM110.66 271.8h1.3v11.15h-1.3zM111.66 271.8h1.3v11.15h-1.3zM115.66 271.8h1.3v11.15h-1.3zM116.66 271.8h1.3v11.15h-1.3zM127.67 271.8h1.3v11.15h-1.3zM129.68 271.8h1.3v11.15h-1.3zM137.68 271.8h1.3v11.15h-1.3zM140.69 271.8h1.3v11.15h-1.3zM153.7 271.8h1.3v11.15h-1.3zM155.7 271.8h1.3v11.15h-1.3zM166.71 271.8h1.3v11.15h-1.3zM168.71 271.8h1.3v11.15h-1.3zM172.71 271.8h1.3v11.15h-1.3zM180.72 271.8h1.3v11.15h-1.3zM185.72 271.8h1.3v11.15h-1.3zM186.73 271.8h1.3v11.15h-1.3zM208.74 271.8h1.3v11.15h-1.3zM211.75 271.8h1.3v11.15h-1.3zM214.75 271.8h1.3v11.15h-1.3zM215.75 271.8h1.3v11.15h-1.3zM239.77 271.8h1.3v11.15h-1.3zM242.77 271.8h1.3v11.15h-1.3zM244.78 271.8h1.3v11.15h-1.3zM41.6 282.65h1.3v11.15h-1.3zM44.6 282.65h1.3v11.15h-1.3zM58.61 282.65h1.3v11.15h-1.3zM65.62 282.65h1.3v11.15h-1.3zM77.63 282.65h1.3v11.15h-1.3zM92.64 282.65h1.3v11.15h-1.3zM94.65 282.65h1.3v11.15h-1.3zM101.65 282.65h1.3v11.15h-1.3zM112.66 282.65h1.3v11.15h-1.3zM126.67 282.65h1.3v11.15h-1.3zM128.68 282.65h1.3v11.15h-1.3zM129.68 282.65h1.3v11.15h-1.3zM147.69 282.65h1.3v11.15h-1.3zM167.71 282.65h1.3v11.15h-1.3zM184.72 282.65h1.3v11.15h-1.3zM208.74 282.65h1.3v11.15h-1.3zM209.75 282.65h1.3v11.15h-1.3zM210.75 282.65h1.3v11.15h-1.3zM211.75 282.65h1.3v11.15h-1.3zM252.78 282.65h1.3v11.15h-1.3zM254.78 282.65h1.3v11.15h-1.3zM258.79 282.65h1.3v11.15h-1.3zM42.6 293.5h1.3v11.15h-1.3zM92.64 293.5h1.3v11.15h-1.3zM100.65 293.5h1.3v11.15h-1.3zM102.65 293.5h1.3v11.15h-1.3zM109.66 293.5h1.3v11.15h-1.3zM118.67 293.5h1.3v11.15h-1.3zM142.69 293.5h1.3v11.15h-1.3zM151.7 293.5h1.3v11.15h-1.3zM161.7 293.5h1.3v11.15h-1.3zM166.71 293.5h1.3v11.15h-1.3zM167.71 293.5h1.3v11.15h-1.3zM180.72 293.5h1.3v11.15h-1.3zM234.77 293.5h1.3v11.15h-1.3zM254.78 293.5h1.3v11.15h-1.3zM44.6 304.35h1.3v11.15h-1.3zM56.61 304.35h1.3v11.15h-1.3zM68.62 304.35h1.3v11.15h-1.3zM76.63 304.35h1.3v11.15h-1.3zM102.65 304.35h1.3v11.15h-1.3zM108.66 304.35h1.3v11.15h-1.3zM126.67 304.35h1.3v11.15h-1.3zM127.67 304.35h1.3v11.15h-1.3zM129.68 304.35h1.3v11.15h-1.3zM210.75 304.35h1.3v11.15h-1.3zM212.75 304.35h1.3v11.15h-1.3zM213.75 304.35h1.3v11.15h-1.3zM214.75 304.35h1.3v11.15h-1.3zM215.75 304.35h1.3v11.15h-1.3zM220.75 304.35h1.3v11.15h-1.3zM221.76 304.35h1.3v11.15h-1.3zM222.76 304.35h1.3v11.15h-1.3zM244.78 304.35h1.3v11.15h-1.3zM270.8 304.35h1.3v11.15h-1.3zM43.6 315.2h1.3v11.15h-1.3zM47.61 315.2h1.3v11.15h-1.3zM50.61 315.2h1.3v11.15h-1.3zM57.61 315.2h1.3v11.15h-1.3zM70.63 315.2h1.3v11.15h-1.3zM71.63 315.2h1.3v11.15h-1.3zM74.63 315.2h1.3v11.15h-1.3zM77.63 315.2h1.3v11.15h-1.3zM80.63 315.2h1.3v11.15h-1.3zM88.64 315.2h1.3v11.15h-1.3zM94.65 315.2h1.3v11.15h-1.3zM112.66 315.2h1.3v11.15h-1.3zM117.67 315.2h1.3v11.15h-1.3zM124.67 315.2h1.3v11.15h-1.3zM127.67 315.2h1.3v11.15h-1.3zM129.68 315.2h1.3v11.15h-1.3zM138.68 315.2h1.3v11.15h-1.3zM166.71 315.2h1.3v11.15h-1.3zM167.71 315.2h1.3v11.15h-1.3zM169.71 315.2h1.3v11.15h-1.3zM196.73 315.2h1.3v11.15h-1.3zM197.74 315.2h1.3v11.15h-1.3zM198.74 315.2h1.3v11.15h-1.3zM199.74 315.2h1.3v11.15h-1.3zM226.76 315.2h1.3v11.15h-1.3zM228.76 315.2h1.3v11.15h-1.3zM230.76 315.2h1.3v11.15h-1.3zM248.78 315.2h1.3v11.15h-1.3zM41.6 326.05h1.3v11.15h-1.3zM48.61 326.05h1.3v11.15h-1.3zM51.61 326.05h1.3v11.15h-1.3zM62.62 326.05h1.3v11.15h-1.3zM65.62 326.05h1.3v11.15h-1.3zM78.63 326.05h1.3v11.15h-1.3zM100.65 326.05h1.3v11.15h-1.3zM101.65 326.05h1.3v11.15h-1.3zM102.65 326.05h1.3v11.15h-1.3zM109.66 326.05h1.3v11.15h-1.3zM113.66 326.05h1.3v11.15h-1.3zM129.68 326.05h1.3v11.15h-1.3zM134.68 326.05h1.3v11.15h-1.3zM146.69 326.05h1.3v11.15h-1.3zM169.71 326.05h1.3v11.15h-1.3zM172.71 326.05h1.3v11.15h-1.3zM191.73 326.05h1.3v11.15h-1.3zM209.75 326.05h1.3v11.15h-1.3zM211.75 326.05h1.3v11.15h-1.3zM213.75 326.05h1.3v11.15h-1.3zM220.75 326.05h1.3v11.15h-1.3zM221.76 326.05h1.3v11.15h-1.3zM222.76 326.05h1.3v11.15h-1.3zM228.76 326.05h1.3v11.15h-1.3zM259.79 326.05h1.3v11.15h-1.3z" fill="#a6a6d3"/><path d="M42.6 271.8h1.3v11.15h-1.3zM55.61 271.8h1.3v11.15h-1.3zM56.61 271.8h1.3v11.15h-1.3zM67.62 271.8h1.3v11.15h-1.3zM70.63 271.8h1.3v11.15h-1.3zM105.66 271.8h1.3v11.15h-1.3zM113.66 271.8h1.3v11.15h-1.3zM120.67 271.8h1.3v11.15h-1.3zM122.67 271.8h1.3v11.15h-1.3zM123.67 271.8h1.3v11.15h-1.3zM124.67 271.8h1.3v11.15h-1.3zM132.68 271.8h1.3v11.15h-1.3zM156.7 271.8h1.3v11.15h-1.3zM177.72 271.8h1.3v11.15h-1.3zM264.79 271.8h1.3v11.15h-1.3zM48.61 282.65h1.3v11.15h-1.3zM54.61 282.65h1.3v11.15h-1.3zM75.63 282.65h1.3v11.15h-1.3zM109.66 282.65h1.3v11.15h-1.3zM117.67 282.65h1.3v11.15h-1.3zM131.68 282.65h1.3v11.15h-1.3zM163.71 282.65h1.3v11.15h-1.3zM164.71 282.65h1.3v11.15h-1.3zM262.79 282.65h1.3v11.15h-1.3zM265.79 282.65h1.3v11.15h-1.3zM267.8 282.65h1.3v11.15h-1.3zM43.6 293.5h1.3v11.15h-1.3zM47.61 293.5h1.3v11.15h-1.3zM49.61 293.5h1.3v11.15h-1.3zM51.61 293.5h1.3v11.15h-1.3zM52.61 293.5h1.3v11.15h-1.3zM55.61 293.5h1.3v11.15h-1.3zM58.61 293.5h1.3v11.15h-1.3zM64.62 293.5h1.3v11.15h-1.3zM66.62 293.5h1.3v11.15h-1.3zM67.62 293.5h1.3v11.15h-1.3zM88.64 293.5h1.3v11.15h-1.3zM115.66 293.5h1.3v11.15h-1.3zM117.67 293.5h1.3v11.15h-1.3zM120.67 293.5h1.3v11.15h-1.3zM124.67 293.5h1.3v11.15h-1.3zM126.67 293.5h1.3v11.15h-1.3zM129.68 293.5h1.3v11.15h-1.3zM130.68 293.5h1.3v11.15h-1.3zM136.68 293.5h1.3v11.15h-1.3zM137.68 293.5h1.3v11.15h-1.3zM138.68 293.5h1.3v11.15h-1.3zM140.69 293.5h1.3v11.15h-1.3zM146.69 293.5h1.3v11.15h-1.3zM169.71 293.5h1.3v11.15h-1.3zM229.76 293.5h1.3v11.15h-1.3zM233.77 293.5h1.3v11.15h-1.3zM256.79 293.5h1.3v11.15h-1.3zM258.79 293.5h1.3v11.15h-1.3zM267.8 293.5h1.3v11.15h-1.3zM51.61 304.35h1.3v11.15h-1.3zM64.62 304.35h1.3v11.15h-1.3zM65.62 304.35h1.3v11.15h-1.3zM118.67 304.35h1.3v11.15h-1.3zM136.68 304.35h1.3v11.15h-1.3zM169.71 304.35h1.3v11.15h-1.3zM170.71 304.35h1.3v11.15h-1.3zM233.77 304.35h1.3v11.15h-1.3zM51.61 315.2h1.3v11.15h-1.3zM65.62 315.2h1.3v11.15h-1.3zM66.62 315.2h1.3v11.15h-1.3zM73.63 315.2h1.3v11.15h-1.3zM116.66 315.2h1.3v11.15h-1.3zM134.68 315.2h1.3v11.15h-1.3zM135.68 315.2h1.3v11.15h-1.3zM137.68 315.2h1.3v11.15h-1.3zM258.79 315.2h1.3v11.15h-1.3zM267.8 315.2h1.3v11.15h-1.3zM270.8 315.2h1.3v11.15h-1.3zM45.6 326.05h1.3v11.15h-1.3zM52.61 326.05h1.3v11.15h-1.3zM87.64 326.05h1.3v11.15h-1.3zM88.64 326.05h1.3v11.15h-1.3zM97.65 326.05h1.3v11.15h-1.3zM132.68 326.05h1.3v11.15h-1.3zM141.69 326.05h1.3v11.15h-1.3zM226.76 326.05h1.3v11.15h-1.3zM231.76 326.05h1.3v11.15h-1.3zM236.77 326.05h1.3v11.15h-1.3zM239.77 326.05h1.3v11.15h-1.3zM241.77 326.05h1.3v11.15h-1.3zM248.78 326.05h1.3v11.15h-1.3z" fill="#8080c0"/><path d="M43.6 271.8h1.3v11.15h-1.3zM52.61 271.8h1.3v11.15h-1.3zM58.61 271.8h1.3v11.15h-1.3zM112.66 271.8h1.3v11.15h-1.3zM133.68 271.8h1.3v11.15h-1.3zM151.7 271.8h1.3v11.15h-1.3zM162.7 271.8h1.3v11.15h-1.3zM163.71 271.8h1.3v11.15h-1.3zM265.79 271.8h1.3v11.15h-1.3zM55.61 282.65h1.3v11.15h-1.3zM56.61 282.65h1.3v11.15h-1.3zM57.61 282.65h1.3v11.15h-1.3zM69.62 282.65h1.3v11.15h-1.3zM70.63 282.65h1.3v11.15h-1.3zM71.63 282.65h1.3v11.15h-1.3zM130.68 282.65h1.3v11.15h-1.3zM132.68 282.65h1.3v11.15h-1.3zM133.68 282.65h1.3v11.15h-1.3zM161.7 282.65h1.3v11.15h-1.3zM162.7 282.65h1.3v11.15h-1.3zM54.61 293.5h1.3v11.15h-1.3zM60.62 293.5h1.3v11.15h-1.3zM61.62 293.5h1.3v11.15h-1.3zM62.62 293.5h1.3v11.15h-1.3zM65.62 293.5h1.3v11.15h-1.3zM114.66 293.5h1.3v11.15h-1.3zM125.67 293.5h1.3v11.15h-1.3zM127.67 293.5h1.3v11.15h-1.3zM128.68 293.5h1.3v11.15h-1.3zM131.68 293.5h1.3v11.15h-1.3zM135.68 293.5h1.3v11.15h-1.3zM141.69 293.5h1.3v11.15h-1.3zM182.72 293.5h1.3v11.15h-1.3zM184.72 293.5h1.3v11.15h-1.3zM230.76 293.5h1.3v11.15h-1.3zM257.79 293.5h1.3v11.15h-1.3zM46.6 304.35h1.3v11.15h-1.3zM48.61 304.35h1.3v11.15h-1.3zM52.61 304.35h1.3v11.15h-1.3zM53.61 304.35h1.3v11.15h-1.3zM55.61 304.35h1.3v11.15h-1.3zM67.62 304.35h1.3v11.15h-1.3zM114.66 304.35h1.3v11.15h-1.3zM116.66 304.35h1.3v11.15h-1.3zM120.67 304.35h1.3v11.15h-1.3zM125.67 304.35h1.3v11.15h-1.3zM134.68 304.35h1.3v11.15h-1.3zM165.71 304.35h1.3v11.15h-1.3zM167.71 304.35h1.3v11.15h-1.3zM192.73 315.2h1.3v11.15h-1.3zM232.77 315.2h1.3v11.15h-1.3zM234.77 315.2h1.3v11.15h-1.3zM256.79 315.2h1.3v11.15h-1.3zM257.79 315.2h1.3v11.15h-1.3zM262.79 315.2h1.3v11.15h-1.3zM42.6 326.05h1.3v11.15h-1.3zM47.61 326.05h1.3v11.15h-1.3zM54.61 326.05h1.3v11.15h-1.3zM55.61 326.05h1.3v11.15h-1.3zM95.65 326.05h1.3v11.15h-1.3zM96.65 326.05h1.3v11.15h-1.3zM131.68 326.05h1.3v11.15h-1.3zM133.68 326.05h1.3v11.15h-1.3zM240.77 326.05h1.3v11.15h-1.3zM244.78 326.05h1.3v11.15h-1.3z" fill="#7373b9"/><path d="M44.6 271.8h1.3v11.15h-1.3zM61.62 271.8h1.3v11.15h-1.3zM62.62 271.8h1.3v11.15h-1.3zM93.65 271.8h1.3v11.15h-1.3zM95.65 271.8h1.3v11.15h-1.3zM97.65 271.8h1.3v11.15h-1.3zM102.65 271.8h1.3v11.15h-1.3zM121.67 271.8h1.3v11.15h-1.3zM142.69 271.8h1.3v11.15h-1.3zM237.77 271.8h1.3v11.15h-1.3zM61.62 282.65h1.3v11.15h-1.3zM63.62 282.65h1.3v11.15h-1.3zM74.63 282.65h1.3v11.15h-1.3zM213.75 282.65h1.3v11.15h-1.3zM249.78 282.65h1.3v11.15h-1.3zM250.78 282.65h1.3v11.15h-1.3zM78.63 293.5h1.3v11.15h-1.3zM213.75 293.5h1.3v11.15h-1.3zM214.75 293.5h1.3v11.15h-1.3zM89.64 304.35h1.3v11.15h-1.3zM93.65 304.35h1.3v11.15h-1.3zM105.66 304.35h1.3v11.15h-1.3zM147.69 304.35h1.3v11.15h-1.3zM159.7 304.35h1.3v11.15h-1.3zM160.7 304.35h1.3v11.15h-1.3zM185.72 304.35h1.3v11.15h-1.3zM186.73 304.35h1.3v11.15h-1.3zM216.75 304.35h1.3v11.15h-1.3zM218.75 304.35h1.3v11.15h-1.3zM227.76 304.35h1.3v11.15h-1.3zM229.76 304.35h1.3v11.15h-1.3zM230.76 304.35h1.3v11.15h-1.3zM236.77 304.35h1.3v11.15h-1.3zM44.6 315.2h1.3v11.15h-1.3zM53.61 315.2h1.3v11.15h-1.3zM106.66 315.2h1.3v11.15h-1.3zM144.69 315.2h1.3v11.15h-1.3zM213.75 315.2h1.3v11.15h-1.3zM219.75 315.2h1.3v11.15h-1.3zM235.77 315.2h1.3v11.15h-1.3zM249.78 315.2h1.3v11.15h-1.3zM103.65 326.05h1.3v11.15h-1.3zM111.66 326.05h1.3v11.15h-1.3zM121.67 326.05h1.3v11.15h-1.3zM142.69 326.05h1.3v11.15h-1.3zM143.69 326.05h1.3v11.15h-1.3zM184.72 326.05h1.3v11.15h-1.3zM196.73 326.05h1.3v11.15h-1.3zM198.74 326.05h1.3v11.15h-1.3zM199.74 326.05h1.3v11.15h-1.3zM258.79 326.05h1.3v11.15h-1.3zM265.79 326.05h1.3v11.15h-1.3z" fill="#e6e6f2"/><path d="M45.6 271.8h1.3v11.15h-1.3zM46.6 271.8h1.3v11.15h-1.3zM89.64 271.8h1.3v11.15h-1.3zM109.66 271.8h1.3v11.15h-1.3zM117.67 271.8h1.3v11.15h-1.3zM118.67 271.8h1.3v11.15h-1.3zM126.67 271.8h1.3v11.15h-1.3zM128.68 271.8h1.3v11.15h-1.3zM134.68 271.8h1.3v11.15h-1.3zM135.68 271.8h1.3v11.15h-1.3zM146.69 271.8h1.3v11.15h-1.3zM148.69 271.8h1.3v11.15h-1.3zM187.73 271.8h1.3v11.15h-1.3zM209.75 271.8h1.3v11.15h-1.3zM212.75 271.8h1.3v11.15h-1.3zM213.75 271.8h1.3v11.15h-1.3zM216.75 271.8h1.3v11.15h-1.3zM217.75 271.8h1.3v11.15h-1.3zM240.77 271.8h1.3v11.15h-1.3zM246.78 271.8h1.3v11.15h-1.3zM259.79 271.8h1.3v11.15h-1.3zM261.79 271.8h1.3v11.15h-1.3zM66.62 282.65h1.3v11.15h-1.3zM73.63 282.65h1.3v11.15h-1.3zM95.65 282.65h1.3v11.15h-1.3zM113.66 282.65h1.3v11.15h-1.3zM122.67 282.65h1.3v11.15h-1.3zM125.67 282.65h1.3v11.15h-1.3zM134.68 282.65h1.3v11.15h-1.3zM137.68 282.65h1.3v11.15h-1.3zM166.71 282.65h1.3v11.15h-1.3zM168.71 282.65h1.3v11.15h-1.3zM183.72 282.65h1.3v11.15h-1.3zM235.77 282.65h1.3v11.15h-1.3zM236.77 282.65h1.3v11.15h-1.3zM237.77 282.65h1.3v11.15h-1.3zM239.77 282.65h1.3v11.15h-1.3zM240.77 282.65h1.3v11.15h-1.3zM242.77 282.65h1.3v11.15h-1.3zM253.78 282.65h1.3v11.15h-1.3zM257.79 282.65h1.3v11.15h-1.3zM261.79 282.65h1.3v11.15h-1.3zM45.6 293.5h1.3v11.15h-1.3zM46.6 293.5h1.3v11.15h-1.3zM71.63 293.5h1.3v11.15h-1.3zM94.65 293.5h1.3v11.15h-1.3zM95.65 293.5h1.3v11.15h-1.3zM97.65 293.5h1.3v11.15h-1.3zM121.67 293.5h1.3v11.15h-1.3zM143.69 293.5h1.3v11.15h-1.3zM144.69 293.5h1.3v11.15h-1.3zM168.71 293.5h1.3v11.15h-1.3zM239.77 293.5h1.3v11.15h-1.3zM240.77 293.5h1.3v11.15h-1.3zM242.77 293.5h1.3v11.15h-1.3zM263.79 293.5h1.3v11.15h-1.3zM264.79 293.5h1.3v11.15h-1.3zM265.79 293.5h1.3v11.15h-1.3zM58.61 304.35h1.3v11.15h-1.3zM69.62 304.35h1.3v11.15h-1.3zM71.63 304.35h1.3v11.15h-1.3zM74.63 304.35h1.3v11.15h-1.3zM78.63 304.35h1.3v11.15h-1.3zM84.64 304.35h1.3v11.15h-1.3zM95.65 304.35h1.3v11.15h-1.3zM107.66 304.35h1.3v11.15h-1.3zM109.66 304.35h1.3v11.15h-1.3zM121.67 304.35h1.3v11.15h-1.3zM128.68 304.35h1.3v11.15h-1.3zM142.69 304.35h1.3v11.15h-1.3zM209.75 304.35h1.3v11.15h-1.3zM211.75 304.35h1.3v11.15h-1.3zM234.77 304.35h1.3v11.15h-1.3zM246.78 304.35h1.3v11.15h-1.3zM248.78 304.35h1.3v11.15h-1.3zM259.79 304.35h1.3v11.15h-1.3zM261.79 304.35h1.3v11.15h-1.3zM41.6 315.2h1.3v11.15h-1.3zM68.62 315.2h1.3v11.15h-1.3zM81.63 315.2h1.3v11.15h-1.3zM82.64 315.2h1.3v11.15h-1.3zM90.64 315.2h1.3v11.15h-1.3zM93.65 315.2h1.3v11.15h-1.3zM100.65 315.2h1.3v11.15h-1.3zM109.66 315.2h1.3v11.15h-1.3zM122.67 315.2h1.3v11.15h-1.3zM123.67 315.2h1.3v11.15h-1.3zM125.67 315.2h1.3v11.15h-1.3zM126.67 315.2h1.3v11.15h-1.3zM128.68 315.2h1.3v11.15h-1.3zM140.69 315.2h1.3v11.15h-1.3zM172.71 315.2h1.3v11.15h-1.3zM193.73 315.2h1.3v11.15h-1.3zM217.75 315.2h1.3v11.15h-1.3zM224.76 315.2h1.3v11.15h-1.3zM229.76 315.2h1.3v11.15h-1.3zM255.79 315.2h1.3v11.15h-1.3zM50.61 326.05h1.3v11.15h-1.3zM57.61 326.05h1.3v11.15h-1.3zM59.62 326.05h1.3v11.15h-1.3zM63.62 326.05h1.3v11.15h-1.3zM84.64 326.05h1.3v11.15h-1.3zM92.64 326.05h1.3v11.15h-1.3zM94.65 326.05h1.3v11.15h-1.3zM107.66 326.05h1.3v11.15h-1.3zM108.66 326.05h1.3v11.15h-1.3zM110.66 326.05h1.3v11.15h-1.3zM112.66 326.05h1.3v11.15h-1.3zM118.67 326.05h1.3v11.15h-1.3zM126.67 326.05h1.3v11.15h-1.3zM127.67 326.05h1.3v11.15h-1.3zM135.68 326.05h1.3v11.15h-1.3zM136.68 326.05h1.3v11.15h-1.3zM147.69 326.05h1.3v11.15h-1.3zM151.7 326.05h1.3v11.15h-1.3zM170.71 326.05h1.3v11.15h-1.3zM194.73 326.05h1.3v11.15h-1.3zM208.74 326.05h1.3v11.15h-1.3zM214.75 326.05h1.3v11.15h-1.3zM215.75 326.05h1.3v11.15h-1.3zM227.76 326.05h1.3v11.15h-1.3zM230.76 326.05h1.3v11.15h-1.3zM235.77 326.05h1.3v11.15h-1.3zM250.78 326.05h1.3v11.15h-1.3zM252.78 326.05h1.3v11.15h-1.3z" fill="#b2b2d9"/><path d="M48.61 271.8h1.3v11.15h-1.3zM49.61 271.8h1.3v11.15h-1.3zM130.68 304.35h1.3v11.15h-1.3zM141.69 304.35h1.3v11.15h-1.3zM265.79 315.2h1.3v11.15h-1.3z" fill="#4040a0"/><path d="M50.61 271.8h1.3v11.15h-1.3zM51.61 271.8h1.3v11.15h-1.3zM47.61 282.65h1.3v11.15h-1.3zM269.8 293.5h1.3v11.15h-1.3zM49.61 304.35h1.3v11.15h-1.3zM132.68 304.35h1.3v11.15h-1.3zM139.68 304.35h1.3v11.15h-1.3zM140.69 304.35h1.3v11.15h-1.3zM49.61 315.2h1.3v11.15h-1.3zM61.62 315.2h1.3v11.15h-1.3zM62.62 315.2h1.3v11.15h-1.3zM263.79 315.2h1.3v11.15h-1.3zM269.8 315.2h1.3v11.15h-1.3z" fill="#4c4ca6"/><path d="M53.61 271.8h1.3v11.15h-1.3zM131.68 271.8h1.3v11.15h-1.3zM49.61 282.65h1.3v11.15h-1.3zM53.61 282.65h1.3v11.15h-1.3zM76.63 282.65h1.3v11.15h-1.3zM115.66 282.65h1.3v11.15h-1.3zM269.8 282.65h1.3v11.15h-1.3zM72.63 304.35h1.3v11.15h-1.3zM135.68 304.35h1.3v11.15h-1.3zM138.68 304.35h1.3v11.15h-1.3zM63.62 315.2h1.3v11.15h-1.3zM233.77 315.2h1.3v11.15h-1.3zM260.79 315.2h1.3v11.15h-1.3z" fill="#5959ac"/><path d="M54.61 271.8h1.3v11.15h-1.3zM57.61 271.8h1.3v11.15h-1.3zM46.6 282.65h1.3v11.15h-1.3zM52.61 282.65h1.3v11.15h-1.3zM68.62 282.65h1.3v11.15h-1.3zM107.66 282.65h1.3v11.15h-1.3zM53.61 293.5h1.3v11.15h-1.3zM57.61 293.5h1.3v11.15h-1.3zM89.64 293.5h1.3v11.15h-1.3zM123.67 293.5h1.3v11.15h-1.3zM133.68 293.5h1.3v11.15h-1.3zM134.68 293.5h1.3v11.15h-1.3zM228.76 293.5h1.3v11.15h-1.3zM47.61 304.35h1.3v11.15h-1.3zM54.61 304.35h1.3v11.15h-1.3zM80.63 304.35h1.3v11.15h-1.3zM82.64 304.35h1.3v11.15h-1.3zM137.68 304.35h1.3v11.15h-1.3zM64.62 315.2h1.3v11.15h-1.3zM67.62 315.2h1.3v11.15h-1.3zM72.63 315.2h1.3v11.15h-1.3zM76.63 315.2h1.3v11.15h-1.3zM78.63 315.2h1.3v11.15h-1.3zM114.66 315.2h1.3v11.15h-1.3zM264.79 315.2h1.3v11.15h-1.3zM53.61 326.05h1.3v11.15h-1.3zM80.63 326.05h1.3v11.15h-1.3zM82.64 326.05h1.3v11.15h-1.3zM225.76 326.05h1.3v11.15h-1.3zM233.77 326.05h1.3v11.15h-1.3zM242.77 326.05h1.3v11.15h-1.3z" fill="#6666b3"/><path d="M59.62 271.8h1.3v11.15h-1.3zM65.62 271.8h1.3v11.15h-1.3zM71.63 271.8h1.3v11.15h-1.3zM72.63 271.8h1.3v11.15h-1.3zM78.63 271.8h1.3v11.15h-1.3zM80.63 271.8h1.3v11.15h-1.3zM88.64 271.8h1.3v11.15h-1.3zM92.64 271.8h1.3v11.15h-1.3zM94.65 271.8h1.3v11.15h-1.3zM114.66 271.8h1.3v11.15h-1.3zM141.69 271.8h1.3v11.15h-1.3zM150.69 271.8h1.3v11.15h-1.3zM165.71 271.8h1.3v11.15h-1.3zM218.75 271.8h1.3v11.15h-1.3zM241.77 271.8h1.3v11.15h-1.3zM260.79 271.8h1.3v11.15h-1.3zM262.79 271.8h1.3v11.15h-1.3zM263.79 271.8h1.3v11.15h-1.3zM266.79 271.8h1.3v11.15h-1.3zM267.8 271.8h1.3v11.15h-1.3zM269.8 271.8h1.3v11.15h-1.3zM43.6 282.65h1.3v11.15h-1.3zM64.62 282.65h1.3v11.15h-1.3zM67.62 282.65h1.3v11.15h-1.3zM72.63 282.65h1.3v11.15h-1.3zM88.64 282.65h1.3v11.15h-1.3zM102.65 282.65h1.3v11.15h-1.3zM108.66 282.65h1.3v11.15h-1.3zM127.67 282.65h1.3v11.15h-1.3zM151.7 282.65h1.3v11.15h-1.3zM182.72 282.65h1.3v11.15h-1.3zM256.79 282.65h1.3v11.15h-1.3zM268.8 282.65h1.3v11.15h-1.3zM41.6 293.5h1.3v11.15h-1.3zM50.61 293.5h1.3v11.15h-1.3zM68.62 293.5h1.3v11.15h-1.3zM69.62 293.5h1.3v11.15h-1.3zM101.65 293.5h1.3v11.15h-1.3zM107.66 293.5h1.3v11.15h-1.3zM119.67 293.5h1.3v11.15h-1.3zM139.68 293.5h1.3v11.15h-1.3zM148.69 293.5h1.3v11.15h-1.3zM149.69 293.5h1.3v11.15h-1.3zM162.7 293.5h1.3v11.15h-1.3zM163.71 293.5h1.3v11.15h-1.3zM165.71 293.5h1.3v11.15h-1.3zM181.72 293.5h1.3v11.15h-1.3zM227.76 293.5h1.3v11.15h-1.3zM252.78 293.5h1.3v11.15h-1.3zM255.79 293.5h1.3v11.15h-1.3zM268.8 293.5h1.3v11.15h-1.3zM42.6 304.35h1.3v11.15h-1.3zM73.63 304.35h1.3v11.15h-1.3zM85.64 304.35h1.3v11.15h-1.3zM92.64 304.35h1.3v11.15h-1.3zM94.65 304.35h1.3v11.15h-1.3zM96.65 304.35h1.3v11.15h-1.3zM101.65 304.35h1.3v11.15h-1.3zM119.67 304.35h1.3v11.15h-1.3zM171.71 304.35h1.3v11.15h-1.3zM208.74 304.35h1.3v11.15h-1.3zM260.79 304.35h1.3v11.15h-1.3zM262.79 304.35h1.3v11.15h-1.3zM46.6 315.2h1.3v11.15h-1.3zM56.61 315.2h1.3v11.15h-1.3zM69.62 315.2h1.3v11.15h-1.3zM107.66 315.2h1.3v11.15h-1.3zM108.66 315.2h1.3v11.15h-1.3zM113.66 315.2h1.3v11.15h-1.3zM141.69 315.2h1.3v11.15h-1.3zM165.71 315.2h1.3v11.15h-1.3zM195.73 315.2h1.3v11.15h-1.3zM216.75 315.2h1.3v11.15h-1.3zM225.76 315.2h1.3v11.15h-1.3zM271.8 315.2h1.3v11.15h-1.3zM43.6 326.05h1.3v11.15h-1.3zM46.6 326.05h1.3v11.15h-1.3zM49.61 326.05h1.3v11.15h-1.3zM56.61 326.05h1.3v11.15h-1.3zM60.62 326.05h1.3v11.15h-1.3zM61.62 326.05h1.3v11.15h-1.3zM67.62 326.05h1.3v11.15h-1.3zM72.63 326.05h1.3v11.15h-1.3zM85.64 326.05h1.3v11.15h-1.3zM98.65 326.05h1.3v11.15h-1.3zM120.67 326.05h1.3v11.15h-1.3zM138.68 326.05h1.3v11.15h-1.3zM139.68 326.05h1.3v11.15h-1.3zM140.69 326.05h1.3v11.15h-1.3zM188.73 326.05h1.3v11.15h-1.3zM189.73 326.05h1.3v11.15h-1.3zM192.73 326.05h1.3v11.15h-1.3zM193.73 326.05h1.3v11.15h-1.3zM210.75 326.05h1.3v11.15h-1.3zM224.76 326.05h1.3v11.15h-1.3zM232.77 326.05h1.3v11.15h-1.3zM234.77 326.05h1.3v11.15h-1.3zM245.78 326.05h1.3v11.15h-1.3zM253.78 326.05h1.3v11.15h-1.3zM254.78 326.05h1.3v11.15h-1.3zM260.79 326.05h1.3v11.15h-1.3zM262.79 326.05h1.3v11.15h-1.3z" fill="#9999cc"/><path d="M60.62 271.8h1.3v11.15h-1.3zM63.62 271.8h1.3v11.15h-1.3zM75.63 271.8h1.3v11.15h-1.3zM77.63 271.8h1.3v11.15h-1.3zM91.64 271.8h1.3v11.15h-1.3zM96.65 271.8h1.3v11.15h-1.3zM101.65 271.8h1.3v11.15h-1.3zM143.69 271.8h1.3v11.15h-1.3zM178.72 271.8h1.3v11.15h-1.3zM236.77 271.8h1.3v11.15h-1.3zM62.62 282.65h1.3v11.15h-1.3zM80.63 282.65h1.3v11.15h-1.3zM90.64 282.65h1.3v11.15h-1.3zM98.65 282.65h1.3v11.15h-1.3zM99.65 282.65h1.3v11.15h-1.3zM120.67 282.65h1.3v11.15h-1.3zM123.67 282.65h1.3v11.15h-1.3zM143.69 282.65h1.3v11.15h-1.3zM145.69 282.65h1.3v11.15h-1.3zM148.69 282.65h1.3v11.15h-1.3zM181.72 282.65h1.3v11.15h-1.3zM212.75 282.65h1.3v11.15h-1.3zM214.75 282.65h1.3v11.15h-1.3zM44.6 293.5h1.3v11.15h-1.3zM76.63 293.5h1.3v11.15h-1.3zM93.65 293.5h1.3v11.15h-1.3zM98.65 293.5h1.3v11.15h-1.3zM99.65 293.5h1.3v11.15h-1.3zM111.66 293.5h1.3v11.15h-1.3zM212.75 293.5h1.3v11.15h-1.3zM215.75 293.5h1.3v11.15h-1.3zM61.62 304.35h1.3v11.15h-1.3zM62.62 304.35h1.3v11.15h-1.3zM88.64 304.35h1.3v11.15h-1.3zM98.65 304.35h1.3v11.15h-1.3zM99.65 304.35h1.3v11.15h-1.3zM113.66 304.35h1.3v11.15h-1.3zM153.7 304.35h1.3v11.15h-1.3zM155.7 304.35h1.3v11.15h-1.3zM158.7 304.35h1.3v11.15h-1.3zM217.75 304.35h1.3v11.15h-1.3zM223.76 304.35h1.3v11.15h-1.3zM225.76 304.35h1.3v11.15h-1.3zM226.76 304.35h1.3v11.15h-1.3zM237.77 304.35h1.3v11.15h-1.3zM249.78 304.35h1.3v11.15h-1.3zM250.78 304.35h1.3v11.15h-1.3zM96.65 315.2h1.3v11.15h-1.3zM99.65 315.2h1.3v11.15h-1.3zM110.66 315.2h1.3v11.15h-1.3zM111.66 315.2h1.3v11.15h-1.3zM139.68 315.2h1.3v11.15h-1.3zM143.69 315.2h1.3v11.15h-1.3zM191.73 315.2h1.3v11.15h-1.3zM214.75 315.2h1.3v11.15h-1.3zM70.63 326.05h1.3v11.15h-1.3zM71.63 326.05h1.3v11.15h-1.3zM74.63 326.05h1.3v11.15h-1.3zM99.65 326.05h1.3v11.15h-1.3zM125.67 326.05h1.3v11.15h-1.3zM145.69 326.05h1.3v11.15h-1.3zM155.7 326.05h1.3v11.15h-1.3zM216.75 326.05h1.3v11.15h-1.3zM217.75 326.05h1.3v11.15h-1.3zM261.79 326.05h1.3v11.15h-1.3zM266.79 326.05h1.3v11.15h-1.3zM267.8 326.05h1.3v11.15h-1.3z" fill="#d9d9ec"/><path d="M74.63 271.8h1.3v11.15h-1.3zM81.63 271.8h1.3v11.15h-1.3zM86.64 271.8h1.3v11.15h-1.3zM119.67 271.8h1.3v11.15h-1.3zM138.68 271.8h1.3v11.15h-1.3zM139.68 271.8h1.3v11.15h-1.3zM154.7 271.8h1.3v11.15h-1.3zM167.71 271.8h1.3v11.15h-1.3zM171.71 271.8h1.3v11.15h-1.3zM83.64 282.65h1.3v11.15h-1.3zM86.64 282.65h1.3v11.15h-1.3zM87.64 282.65h1.3v11.15h-1.3zM93.65 282.65h1.3v11.15h-1.3zM124.67 282.65h1.3v11.15h-1.3zM150.69 282.65h1.3v11.15h-1.3zM219.75 282.65h1.3v11.15h-1.3zM238.77 282.65h1.3v11.15h-1.3zM244.78 282.65h1.3v11.15h-1.3zM248.78 282.65h1.3v11.15h-1.3zM251.78 282.65h1.3v11.15h-1.3zM259.79 282.65h1.3v11.15h-1.3zM110.66 293.5h1.3v11.15h-1.3zM112.66 293.5h1.3v11.15h-1.3zM150.69 293.5h1.3v11.15h-1.3zM152.7 293.5h1.3v11.15h-1.3zM178.72 293.5h1.3v11.15h-1.3zM231.76 293.5h1.3v11.15h-1.3zM60.62 304.35h1.3v11.15h-1.3zM75.63 304.35h1.3v11.15h-1.3zM86.64 304.35h1.3v11.15h-1.3zM110.66 304.35h1.3v11.15h-1.3zM187.73 304.35h1.3v11.15h-1.3zM231.76 304.35h1.3v11.15h-1.3zM245.78 304.35h1.3v11.15h-1.3zM247.78 304.35h1.3v11.15h-1.3zM271.8 304.35h1.3v11.15h-1.3zM52.61 315.2h1.3v11.15h-1.3zM55.61 315.2h1.3v11.15h-1.3zM85.64 315.2h1.3v11.15h-1.3zM101.65 315.2h1.3v11.15h-1.3zM212.75 315.2h1.3v11.15h-1.3zM227.76 315.2h1.3v11.15h-1.3zM247.78 315.2h1.3v11.15h-1.3zM68.62 326.05h1.3v11.15h-1.3zM69.62 326.05h1.3v11.15h-1.3zM86.64 326.05h1.3v11.15h-1.3zM93.65 326.05h1.3v11.15h-1.3zM148.69 326.05h1.3v11.15h-1.3zM156.7 326.05h1.3v11.15h-1.3zM218.75 326.05h1.3v11.15h-1.3zM223.76 326.05h1.3v11.15h-1.3zM251.78 326.05h1.3v11.15h-1.3z" fill="#cccce6"/><path d="M79.63 271.8h1.3v11.15h-1.3zM83.64 271.8h1.3v11.15h-1.3zM84.64 271.8h1.3v11.15h-1.3zM85.64 271.8h1.3v11.15h-1.3zM87.64 271.8h1.3v11.15h-1.3zM90.64 271.8h1.3v11.15h-1.3zM107.66 271.8h1.3v11.15h-1.3zM108.66 271.8h1.3v11.15h-1.3zM136.68 271.8h1.3v11.15h-1.3zM145.69 271.8h1.3v11.15h-1.3zM147.69 271.8h1.3v11.15h-1.3zM149.69 271.8h1.3v11.15h-1.3zM169.71 271.8h1.3v11.15h-1.3zM170.71 271.8h1.3v11.15h-1.3zM179.72 271.8h1.3v11.15h-1.3zM219.75 271.8h1.3v11.15h-1.3zM243.77 271.8h1.3v11.15h-1.3zM245.78 271.8h1.3v11.15h-1.3zM268.8 271.8h1.3v11.15h-1.3zM60.62 282.65h1.3v11.15h-1.3zM82.64 282.65h1.3v11.15h-1.3zM84.64 282.65h1.3v11.15h-1.3zM89.64 282.65h1.3v11.15h-1.3zM91.64 282.65h1.3v11.15h-1.3zM97.65 282.65h1.3v11.15h-1.3zM100.65 282.65h1.3v11.15h-1.3zM111.66 282.65h1.3v11.15h-1.3zM136.68 282.65h1.3v11.15h-1.3zM138.68 282.65h1.3v11.15h-1.3zM139.68 282.65h1.3v11.15h-1.3zM140.69 282.65h1.3v11.15h-1.3zM141.69 282.65h1.3v11.15h-1.3zM146.69 282.65h1.3v11.15h-1.3zM149.69 282.65h1.3v11.15h-1.3zM152.7 282.65h1.3v11.15h-1.3zM216.75 282.65h1.3v11.15h-1.3zM241.77 282.65h1.3v11.15h-1.3zM247.78 282.65h1.3v11.15h-1.3zM255.79 282.65h1.3v11.15h-1.3zM270.8 282.65h1.3v11.15h-1.3zM271.8 282.65h1.3v11.15h-1.3zM91.64 293.5h1.3v11.15h-1.3zM108.66 293.5h1.3v11.15h-1.3zM164.71 293.5h1.3v11.15h-1.3zM179.72 293.5h1.3v11.15h-1.3zM232.77 293.5h1.3v11.15h-1.3zM241.77 293.5h1.3v11.15h-1.3zM251.78 293.5h1.3v11.15h-1.3zM253.78 293.5h1.3v11.15h-1.3zM41.6 304.35h1.3v11.15h-1.3zM59.62 304.35h1.3v11.15h-1.3zM77.63 304.35h1.3v11.15h-1.3zM83.64 304.35h1.3v11.15h-1.3zM91.64 304.35h1.3v11.15h-1.3zM97.65 304.35h1.3v11.15h-1.3zM100.65 304.35h1.3v11.15h-1.3zM144.69 304.35h1.3v11.15h-1.3zM156.7 304.35h1.3v11.15h-1.3zM232.77 304.35h1.3v11.15h-1.3zM243.77 304.35h1.3v11.15h-1.3zM45.6 315.2h1.3v11.15h-1.3zM58.61 315.2h1.3v11.15h-1.3zM59.62 315.2h1.3v11.15h-1.3zM79.63 315.2h1.3v11.15h-1.3zM87.64 315.2h1.3v11.15h-1.3zM89.64 315.2h1.3v11.15h-1.3zM91.64 315.2h1.3v11.15h-1.3zM102.65 315.2h1.3v11.15h-1.3zM120.67 315.2h1.3v11.15h-1.3zM145.69 315.2h1.3v11.15h-1.3zM168.71 315.2h1.3v11.15h-1.3zM171.71 315.2h1.3v11.15h-1.3zM188.73 315.2h1.3v11.15h-1.3zM194.73 315.2h1.3v11.15h-1.3zM44.6 326.05h1.3v11.15h-1.3zM58.61 326.05h1.3v11.15h-1.3zM64.62 326.05h1.3v11.15h-1.3zM66.62 326.05h1.3v11.15h-1.3zM75.63 326.05h1.3v11.15h-1.3zM76.63 326.05h1.3v11.15h-1.3zM77.63 326.05h1.3v11.15h-1.3zM83.64 326.05h1.3v11.15h-1.3zM91.64 326.05h1.3v11.15h-1.3zM119.67 326.05h1.3v11.15h-1.3zM128.68 326.05h1.3v11.15h-1.3zM149.69 326.05h1.3v11.15h-1.3zM150.69 326.05h1.3v11.15h-1.3zM152.7 326.05h1.3v11.15h-1.3zM153.7 326.05h1.3v11.15h-1.3zM171.71 326.05h1.3v11.15h-1.3zM190.73 326.05h1.3v11.15h-1.3zM229.76 326.05h1.3v11.15h-1.3zM269.8 326.05h1.3v11.15h-1.3z" fill="#bfbfdf"/><path d="M82.64 271.8h1.3v11.15h-1.3zM103.65 271.8h1.3v11.15h-1.3zM106.66 271.8h1.3v11.15h-1.3zM125.67 271.8h1.3v11.15h-1.3zM130.68 271.8h1.3v11.15h-1.3zM152.7 271.8h1.3v11.15h-1.3zM161.7 271.8h1.3v11.15h-1.3zM164.71 271.8h1.3v11.15h-1.3zM210.75 271.8h1.3v11.15h-1.3zM42.6 282.65h1.3v11.15h-1.3zM45.6 282.65h1.3v11.15h-1.3zM50.61 282.65h1.3v11.15h-1.3zM51.61 282.65h1.3v11.15h-1.3zM59.62 282.65h1.3v11.15h-1.3zM78.63 282.65h1.3v11.15h-1.3zM85.64 282.65h1.3v11.15h-1.3zM96.65 282.65h1.3v11.15h-1.3zM103.65 282.65h1.3v11.15h-1.3zM104.65 282.65h1.3v11.15h-1.3zM105.66 282.65h1.3v11.15h-1.3zM106.66 282.65h1.3v11.15h-1.3zM110.66 282.65h1.3v11.15h-1.3zM114.66 282.65h1.3v11.15h-1.3zM116.66 282.65h1.3v11.15h-1.3zM135.68 282.65h1.3v11.15h-1.3zM165.71 282.65h1.3v11.15h-1.3zM217.75 282.65h1.3v11.15h-1.3zM218.75 282.65h1.3v11.15h-1.3zM260.79 282.65h1.3v11.15h-1.3zM263.79 282.65h1.3v11.15h-1.3zM264.79 282.65h1.3v11.15h-1.3zM266.79 282.65h1.3v11.15h-1.3zM48.61 293.5h1.3v11.15h-1.3zM56.61 293.5h1.3v11.15h-1.3zM59.62 293.5h1.3v11.15h-1.3zM63.62 293.5h1.3v11.15h-1.3zM70.63 293.5h1.3v11.15h-1.3zM87.64 293.5h1.3v11.15h-1.3zM90.64 293.5h1.3v11.15h-1.3zM96.65 293.5h1.3v11.15h-1.3zM113.66 293.5h1.3v11.15h-1.3zM116.66 293.5h1.3v11.15h-1.3zM122.67 293.5h1.3v11.15h-1.3zM132.68 293.5h1.3v11.15h-1.3zM145.69 293.5h1.3v11.15h-1.3zM147.69 293.5h1.3v11.15h-1.3zM170.71 293.5h1.3v11.15h-1.3zM171.71 293.5h1.3v11.15h-1.3zM172.71 293.5h1.3v11.15h-1.3zM177.72 293.5h1.3v11.15h-1.3zM183.72 293.5h1.3v11.15h-1.3zM266.79 293.5h1.3v11.15h-1.3zM43.6 304.35h1.3v11.15h-1.3zM45.6 304.35h1.3v11.15h-1.3zM50.61 304.35h1.3v11.15h-1.3zM57.61 304.35h1.3v11.15h-1.3zM66.62 304.35h1.3v11.15h-1.3zM70.63 304.35h1.3v11.15h-1.3zM79.63 304.35h1.3v11.15h-1.3zM81.63 304.35h1.3v11.15h-1.3zM115.66 304.35h1.3v11.15h-1.3zM117.67 304.35h1.3v11.15h-1.3zM122.67 304.35h1.3v11.15h-1.3zM123.67 304.35h1.3v11.15h-1.3zM124.67 304.35h1.3v11.15h-1.3zM143.69 304.35h1.3v11.15h-1.3zM145.69 304.35h1.3v11.15h-1.3zM166.71 304.35h1.3v11.15h-1.3zM168.71 304.35h1.3v11.15h-1.3zM172.71 304.35h1.3v11.15h-1.3zM42.6 315.2h1.3v11.15h-1.3zM48.61 315.2h1.3v11.15h-1.3zM75.63 315.2h1.3v11.15h-1.3zM92.64 315.2h1.3v11.15h-1.3zM115.66 315.2h1.3v11.15h-1.3zM136.68 315.2h1.3v11.15h-1.3zM170.71 315.2h1.3v11.15h-1.3zM218.75 315.2h1.3v11.15h-1.3zM231.76 315.2h1.3v11.15h-1.3zM259.79 315.2h1.3v11.15h-1.3zM261.79 315.2h1.3v11.15h-1.3zM266.79 315.2h1.3v11.15h-1.3zM268.8 315.2h1.3v11.15h-1.3zM73.63 326.05h1.3v11.15h-1.3zM79.63 326.05h1.3v11.15h-1.3zM81.63 326.05h1.3v11.15h-1.3zM89.64 326.05h1.3v11.15h-1.3zM90.64 326.05h1.3v11.15h-1.3zM130.68 326.05h1.3v11.15h-1.3zM137.68 326.05h1.3v11.15h-1.3zM195.73 326.05h1.3v11.15h-1.3zM212.75 326.05h1.3v11.15h-1.3zM237.77 326.05h1.3v11.15h-1.3zM238.77 326.05h1.3v11.15h-1.3zM243.77 326.05h1.3v11.15h-1.3zM246.78 326.05h1.3v11.15h-1.3zM247.78 326.05h1.3v11.15h-1.3zM249.78 326.05h1.3v11.15h-1.3z" fill="#8c8cc6"/><path d="M98.65 271.8h1.3v11.15h-1.3zM202.74 271.8h1.3v11.15h-1.3zM222.76 271.8h1.3v11.15h-1.3zM247.78 271.8h1.3v11.15h-1.3zM248.78 271.8h1.3v11.15h-1.3zM252.78 271.8h1.3v11.15h-1.3zM254.78 271.8h1.3v11.15h-1.3zM177.72 282.65h1.3v11.15h-1.3zM193.73 282.65h1.3v11.15h-1.3zM205.74 282.65h1.3v11.15h-1.3zM75.63 293.5h1.3v11.15h-1.3zM80.63 293.5h1.3v11.15h-1.3zM202.74 293.5h1.3v11.15h-1.3zM208.74 293.5h1.3v11.15h-1.3zM218.75 293.5h1.3v11.15h-1.3zM220.75 293.5h1.3v11.15h-1.3zM225.76 293.5h1.3v11.15h-1.3zM244.78 293.5h1.3v11.15h-1.3zM262.79 293.5h1.3v11.15h-1.3zM195.73 304.35h1.3v11.15h-1.3zM269.8 304.35h1.3v11.15h-1.3zM133.68 315.2h1.3v11.15h-1.3zM153.7 315.2h1.3v11.15h-1.3zM162.7 315.2h1.3v11.15h-1.3zM163.71 315.2h1.3v11.15h-1.3zM190.73 315.2h1.3v11.15h-1.3zM244.78 315.2h1.3v11.15h-1.3zM252.78 315.2h1.3v11.15h-1.3zM116.66 326.05h1.3v11.15h-1.3zM162.7 326.05h1.3v11.15h-1.3zM163.71 326.05h1.3v11.15h-1.3zM165.71 326.05h1.3v11.15h-1.3z" fill="#fae9e9"/><path d="M99.65 271.8h1.3v11.15h-1.3zM144.69 271.8h1.3v11.15h-1.3zM233.77 271.8h1.3v11.15h-1.3zM79.63 282.65h1.3v11.15h-1.3zM119.67 282.65h1.3v11.15h-1.3zM233.77 282.65h1.3v11.15h-1.3zM77.63 293.5h1.3v11.15h-1.3zM247.78 293.5h1.3v11.15h-1.3zM90.64 304.35h1.3v11.15h-1.3zM111.66 304.35h1.3v11.15h-1.3zM157.7 304.35h1.3v11.15h-1.3zM219.75 304.35h1.3v11.15h-1.3zM98.65 315.2h1.3v11.15h-1.3zM121.67 315.2h1.3v11.15h-1.3zM177.72 315.2h1.3v11.15h-1.3zM238.77 315.2h1.3v11.15h-1.3zM104.65 326.05h1.3v11.15h-1.3zM122.67 326.05h1.3v11.15h-1.3zM154.7 326.05h1.3v11.15h-1.3zM219.75 326.05h1.3v11.15h-1.3z" fill="#fcf4f4"/><path d="M100.65 271.8h1.3v11.15h-1.3zM235.77 271.8h1.3v11.15h-1.3zM270.8 271.8h1.3v11.15h-1.3zM81.63 282.65h1.3v11.15h-1.3zM118.67 282.65h1.3v11.15h-1.3zM142.69 282.65h1.3v11.15h-1.3zM197.74 282.65h1.3v11.15h-1.3zM199.74 282.65h1.3v11.15h-1.3zM215.75 282.65h1.3v11.15h-1.3zM243.77 282.65h1.3v11.15h-1.3zM63.62 304.35h1.3v11.15h-1.3zM103.65 304.35h1.3v11.15h-1.3zM112.66 304.35h1.3v11.15h-1.3zM146.69 304.35h1.3v11.15h-1.3zM148.69 304.35h1.3v11.15h-1.3zM151.7 304.35h1.3v11.15h-1.3zM152.7 304.35h1.3v11.15h-1.3zM224.76 304.35h1.3v11.15h-1.3zM228.76 304.35h1.3v11.15h-1.3zM238.77 304.35h1.3v11.15h-1.3zM54.61 315.2h1.3v11.15h-1.3zM95.65 315.2h1.3v11.15h-1.3zM103.65 315.2h1.3v11.15h-1.3zM189.73 315.2h1.3v11.15h-1.3zM215.75 315.2h1.3v11.15h-1.3zM236.77 315.2h1.3v11.15h-1.3zM237.77 315.2h1.3v11.15h-1.3zM250.78 315.2h1.3v11.15h-1.3zM105.66 326.05h1.3v11.15h-1.3zM106.66 326.05h1.3v11.15h-1.3zM123.67 326.05h1.3v11.15h-1.3zM144.69 326.05h1.3v11.15h-1.3zM182.72 326.05h1.3v11.15h-1.3zM183.72 326.05h1.3v11.15h-1.3zM255.79 326.05h1.3v11.15h-1.3zM256.79 326.05h1.3v11.15h-1.3zM264.79 326.05h1.3v11.15h-1.3zM268.8 326.05h1.3v11.15h-1.3z" fill="#f2f2f9"/><path d="M157.7 271.8h1.3v11.15h-1.3zM188.73 271.8h1.3v11.15h-1.3zM193.73 271.8h1.3v11.15h-1.3zM255.79 271.8h1.3v11.15h-1.3zM207.74 282.65h1.3v11.15h-1.3zM220.75 282.65h1.3v11.15h-1.3zM224.76 282.65h1.3v11.15h-1.3zM231.76 282.65h1.3v11.15h-1.3zM73.63 293.5h1.3v11.15h-1.3zM83.64 293.5h1.3v11.15h-1.3zM86.64 293.5h1.3v11.15h-1.3zM105.66 293.5h1.3v11.15h-1.3zM157.7 293.5h1.3v11.15h-1.3zM186.73 293.5h1.3v11.15h-1.3zM190.73 293.5h1.3v11.15h-1.3zM195.73 293.5h1.3v11.15h-1.3zM173.71 304.35h1.3v11.15h-1.3zM174.72 304.35h1.3v11.15h-1.3zM177.72 304.35h1.3v11.15h-1.3zM188.73 304.35h1.3v11.15h-1.3zM255.79 304.35h1.3v11.15h-1.3zM148.69 315.2h1.3v11.15h-1.3zM154.7 315.2h1.3v11.15h-1.3zM164.71 315.2h1.3v11.15h-1.3zM178.72 315.2h1.3v11.15h-1.3zM201.74 315.2h1.3v11.15h-1.3zM204.74 315.2h1.3v11.15h-1.3zM220.75 315.2h1.3v11.15h-1.3zM221.76 315.2h1.3v11.15h-1.3zM245.78 315.2h1.3v11.15h-1.3zM164.71 326.05h1.3v11.15h-1.3zM177.72 326.05h1.3v11.15h-1.3zM204.74 326.05h1.3v11.15h-1.3z" fill="#f0bebe"/><path d="M158.7 271.8h1.3v11.15h-1.3zM159.7 271.8h1.3v11.15h-1.3zM175.72 271.8h1.3v11.15h-1.3zM176.72 271.8h1.3v11.15h-1.3zM203.74 271.8h1.3v11.15h-1.3zM206.74 271.8h1.3v11.15h-1.3zM207.74 271.8h1.3v11.15h-1.3zM225.76 271.8h1.3v11.15h-1.3zM256.79 271.8h1.3v11.15h-1.3zM169.71 282.65h1.3v11.15h-1.3zM170.71 282.65h1.3v11.15h-1.3zM172.71 282.65h1.3v11.15h-1.3zM174.72 282.65h1.3v11.15h-1.3zM180.72 282.65h1.3v11.15h-1.3zM192.73 282.65h1.3v11.15h-1.3zM200.74 282.65h1.3v11.15h-1.3zM206.74 282.65h1.3v11.15h-1.3zM225.76 282.65h1.3v11.15h-1.3zM72.63 293.5h1.3v11.15h-1.3zM82.64 293.5h1.3v11.15h-1.3zM85.64 293.5h1.3v11.15h-1.3zM155.7 293.5h1.3v11.15h-1.3zM158.7 293.5h1.3v11.15h-1.3zM159.7 293.5h1.3v11.15h-1.3zM175.72 293.5h1.3v11.15h-1.3zM176.72 293.5h1.3v11.15h-1.3zM185.72 293.5h1.3v11.15h-1.3zM187.73 293.5h1.3v11.15h-1.3zM198.74 293.5h1.3v11.15h-1.3zM217.75 293.5h1.3v11.15h-1.3zM260.79 293.5h1.3v11.15h-1.3zM162.7 304.35h1.3v11.15h-1.3zM163.71 304.35h1.3v11.15h-1.3zM175.72 304.35h1.3v11.15h-1.3zM176.72 304.35h1.3v11.15h-1.3zM182.72 304.35h1.3v11.15h-1.3zM192.73 304.35h1.3v11.15h-1.3zM193.73 304.35h1.3v11.15h-1.3zM239.77 304.35h1.3v11.15h-1.3zM254.78 304.35h1.3v11.15h-1.3zM257.79 304.35h1.3v11.15h-1.3zM151.7 315.2h1.3v11.15h-1.3zM155.7 315.2h1.3v11.15h-1.3zM175.72 315.2h1.3v11.15h-1.3zM203.74 315.2h1.3v11.15h-1.3zM205.74 315.2h1.3v11.15h-1.3zM206.74 315.2h1.3v11.15h-1.3zM208.74 315.2h1.3v11.15h-1.3zM222.76 315.2h1.3v11.15h-1.3zM242.77 315.2h1.3v11.15h-1.3zM253.78 315.2h1.3v11.15h-1.3zM254.78 315.2h1.3v11.15h-1.3zM114.66 326.05h1.3v11.15h-1.3zM117.67 326.05h1.3v11.15h-1.3zM161.7 326.05h1.3v11.15h-1.3zM203.74 326.05h1.3v11.15h-1.3zM205.74 326.05h1.3v11.15h-1.3z" fill="#f8dede"/><path d="M160.7 271.8h1.3v11.15h-1.3zM183.72 271.8h1.3v11.15h-1.3zM184.72 271.8h1.3v11.15h-1.3zM200.74 271.8h1.3v11.15h-1.3zM201.74 271.8h1.3v11.15h-1.3zM205.74 271.8h1.3v11.15h-1.3zM249.78 271.8h1.3v11.15h-1.3zM250.78 271.8h1.3v11.15h-1.3zM251.78 271.8h1.3v11.15h-1.3zM253.78 271.8h1.3v11.15h-1.3zM258.79 271.8h1.3v11.15h-1.3zM171.71 282.65h1.3v11.15h-1.3zM173.71 282.65h1.3v11.15h-1.3zM175.72 282.65h1.3v11.15h-1.3zM176.72 282.65h1.3v11.15h-1.3zM185.72 282.65h1.3v11.15h-1.3zM186.73 282.65h1.3v11.15h-1.3zM195.73 282.65h1.3v11.15h-1.3zM202.74 282.65h1.3v11.15h-1.3zM203.74 282.65h1.3v11.15h-1.3zM230.76 282.65h1.3v11.15h-1.3zM106.66 293.5h1.3v11.15h-1.3zM153.7 293.5h1.3v11.15h-1.3zM160.7 293.5h1.3v11.15h-1.3zM174.72 293.5h1.3v11.15h-1.3zM188.73 293.5h1.3v11.15h-1.3zM189.73 293.5h1.3v11.15h-1.3zM191.73 293.5h1.3v11.15h-1.3zM196.73 293.5h1.3v11.15h-1.3zM203.74 293.5h1.3v11.15h-1.3zM209.75 293.5h1.3v11.15h-1.3zM211.75 293.5h1.3v11.15h-1.3zM223.76 293.5h1.3v11.15h-1.3zM235.77 293.5h1.3v11.15h-1.3zM237.77 293.5h1.3v11.15h-1.3zM243.77 293.5h1.3v11.15h-1.3zM183.72 304.35h1.3v11.15h-1.3zM242.77 304.35h1.3v11.15h-1.3zM253.78 304.35h1.3v11.15h-1.3zM256.79 304.35h1.3v11.15h-1.3zM263.79 304.35h1.3v11.15h-1.3zM267.8 304.35h1.3v11.15h-1.3zM130.68 315.2h1.3v11.15h-1.3zM131.68 315.2h1.3v11.15h-1.3zM132.68 315.2h1.3v11.15h-1.3zM147.69 315.2h1.3v11.15h-1.3zM173.71 315.2h1.3v11.15h-1.3zM179.72 315.2h1.3v11.15h-1.3zM180.72 315.2h1.3v11.15h-1.3zM200.74 315.2h1.3v11.15h-1.3zM202.74 315.2h1.3v11.15h-1.3zM207.74 315.2h1.3v11.15h-1.3zM209.75 315.2h1.3v11.15h-1.3zM211.75 315.2h1.3v11.15h-1.3zM246.78 315.2h1.3v11.15h-1.3zM251.78 315.2h1.3v11.15h-1.3zM166.71 326.05h1.3v11.15h-1.3zM167.71 326.05h1.3v11.15h-1.3zM168.71 326.05h1.3v11.15h-1.3zM206.74 326.05h1.3v11.15h-1.3zM207.74 326.05h1.3v11.15h-1.3z" fill="#f5d4d4"/><path d="M173.71 271.8h1.3v11.15h-1.3zM174.72 271.8h1.3v11.15h-1.3zM182.72 271.8h1.3v11.15h-1.3zM204.74 271.8h1.3v11.15h-1.3zM220.75 271.8h1.3v11.15h-1.3zM221.76 271.8h1.3v11.15h-1.3zM226.76 271.8h1.3v11.15h-1.3zM231.76 271.8h1.3v11.15h-1.3zM234.77 271.8h1.3v11.15h-1.3zM257.79 271.8h1.3v11.15h-1.3zM179.72 282.65h1.3v11.15h-1.3zM187.73 282.65h1.3v11.15h-1.3zM194.73 282.65h1.3v11.15h-1.3zM201.74 282.65h1.3v11.15h-1.3zM204.74 282.65h1.3v11.15h-1.3zM226.76 282.65h1.3v11.15h-1.3zM227.76 282.65h1.3v11.15h-1.3zM228.76 282.65h1.3v11.15h-1.3zM229.76 282.65h1.3v11.15h-1.3zM234.77 282.65h1.3v11.15h-1.3zM79.63 293.5h1.3v11.15h-1.3zM81.63 293.5h1.3v11.15h-1.3zM103.65 293.5h1.3v11.15h-1.3zM173.71 293.5h1.3v11.15h-1.3zM197.74 293.5h1.3v11.15h-1.3zM200.74 293.5h1.3v11.15h-1.3zM201.74 293.5h1.3v11.15h-1.3zM210.75 293.5h1.3v11.15h-1.3zM216.75 293.5h1.3v11.15h-1.3zM221.76 293.5h1.3v11.15h-1.3zM222.76 293.5h1.3v11.15h-1.3zM226.76 293.5h1.3v11.15h-1.3zM236.77 293.5h1.3v11.15h-1.3zM245.78 293.5h1.3v11.15h-1.3zM249.78 293.5h1.3v11.15h-1.3zM250.78 293.5h1.3v11.15h-1.3zM259.79 293.5h1.3v11.15h-1.3zM261.79 293.5h1.3v11.15h-1.3zM161.7 304.35h1.3v11.15h-1.3zM164.71 304.35h1.3v11.15h-1.3zM184.72 304.35h1.3v11.15h-1.3zM194.73 304.35h1.3v11.15h-1.3zM240.77 304.35h1.3v11.15h-1.3zM241.77 304.35h1.3v11.15h-1.3zM251.78 304.35h1.3v11.15h-1.3zM252.78 304.35h1.3v11.15h-1.3zM258.79 304.35h1.3v11.15h-1.3zM264.79 304.35h1.3v11.15h-1.3zM265.79 304.35h1.3v11.15h-1.3zM266.79 304.35h1.3v11.15h-1.3zM146.69 315.2h1.3v11.15h-1.3zM149.69 315.2h1.3v11.15h-1.3zM152.7 315.2h1.3v11.15h-1.3zM161.7 315.2h1.3v11.15h-1.3zM174.72 315.2h1.3v11.15h-1.3zM176.72 315.2h1.3v11.15h-1.3zM210.75 315.2h1.3v11.15h-1.3zM223.76 315.2h1.3v11.15h-1.3zM239.77 315.2h1.3v11.15h-1.3zM240.77 315.2h1.3v11.15h-1.3zM241.77 315.2h1.3v11.15h-1.3zM243.77 315.2h1.3v11.15h-1.3zM115.66 326.05h1.3v11.15h-1.3zM200.74 326.05h1.3v11.15h-1.3zM201.74 326.05h1.3v11.15h-1.3zM202.74 326.05h1.3v11.15h-1.3zM270.8 326.05h1.3v11.15h-1.3z" fill="#f2c9c9"/><path d="M181.72 271.8h1.3v11.15h-1.3zM196.73 271.8h1.3v11.15h-1.3zM198.74 271.8h1.3v11.15h-1.3zM221.76 282.65h1.3v11.15h-1.3zM222.76 282.65h1.3v11.15h-1.3zM192.73 293.5h1.3v11.15h-1.3zM194.73 293.5h1.3v11.15h-1.3zM206.74 293.5h1.3v11.15h-1.3zM207.74 293.5h1.3v11.15h-1.3zM219.75 293.5h1.3v11.15h-1.3zM224.76 293.5h1.3v11.15h-1.3zM178.72 304.35h1.3v11.15h-1.3zM189.73 304.35h1.3v11.15h-1.3zM191.73 304.35h1.3v11.15h-1.3zM196.73 304.35h1.3v11.15h-1.3zM197.74 304.35h1.3v11.15h-1.3zM182.72 315.2h1.3v11.15h-1.3zM185.72 315.2h1.3v11.15h-1.3zM187.73 315.2h1.3v11.15h-1.3zM180.72 326.05h1.3v11.15h-1.3zM187.73 326.05h1.3v11.15h-1.3z" fill="#e89d9d"/><path d="M189.73 271.8h1.3v11.15h-1.3zM192.73 271.8h1.3v11.15h-1.3zM195.73 271.8h1.3v11.15h-1.3zM223.76 271.8h1.3v11.15h-1.3zM224.76 271.8h1.3v11.15h-1.3zM229.76 271.8h1.3v11.15h-1.3zM232.77 271.8h1.3v11.15h-1.3zM178.72 282.65h1.3v11.15h-1.3zM188.73 282.65h1.3v11.15h-1.3zM232.77 282.65h1.3v11.15h-1.3zM74.63 293.5h1.3v11.15h-1.3zM84.64 293.5h1.3v11.15h-1.3zM104.65 293.5h1.3v11.15h-1.3zM193.73 293.5h1.3v11.15h-1.3zM199.74 293.5h1.3v11.15h-1.3zM205.74 293.5h1.3v11.15h-1.3zM238.77 293.5h1.3v11.15h-1.3zM246.78 293.5h1.3v11.15h-1.3zM180.72 304.35h1.3v11.15h-1.3zM181.72 304.35h1.3v11.15h-1.3zM268.8 304.35h1.3v11.15h-1.3zM150.69 315.2h1.3v11.15h-1.3zM184.72 315.2h1.3v11.15h-1.3zM185.72 326.05h1.3v11.15h-1.3z" fill="#eeb3b3"/><path d="M190.73 271.8h1.3v11.15h-1.3zM153.7 282.65h1.3v11.15h-1.3zM158.7 282.65h1.3v11.15h-1.3zM206.74 304.35h1.3v11.15h-1.3zM207.74 304.35h1.3v11.15h-1.3zM158.7 315.2h1.3v11.15h-1.3zM158.7 326.05h1.3v11.15h-1.3zM159.7 326.05h1.3v11.15h-1.3z" fill="#de7272"/><path d="M191.73 271.8h1.3v11.15h-1.3zM230.76 271.8h1.3v11.15h-1.3zM154.7 293.5h1.3v11.15h-1.3zM179.72 304.35h1.3v11.15h-1.3zM198.74 304.35h1.3v11.15h-1.3zM200.74 304.35h1.3v11.15h-1.3zM202.74 304.35h1.3v11.15h-1.3zM203.74 304.35h1.3v11.15h-1.3zM183.72 315.2h1.3v11.15h-1.3zM186.73 315.2h1.3v11.15h-1.3zM179.72 326.05h1.3v11.15h-1.3zM271.8 326.05h1.3v11.15h-1.3z" fill="#eba8a8"/><path d="M194.73 271.8h1.3v11.15h-1.3zM227.76 271.8h1.3v11.15h-1.3zM228.76 271.8h1.3v11.15h-1.3zM156.7 282.65h1.3v11.15h-1.3zM223.76 282.65h1.3v11.15h-1.3zM204.74 293.5h1.3v11.15h-1.3zM201.74 304.35h1.3v11.15h-1.3zM181.72 315.2h1.3v11.15h-1.3z" fill="#e69292"/><path d="M197.74 271.8h1.3v11.15h-1.3zM159.7 282.65h1.3v11.15h-1.3zM189.73 282.65h1.3v11.15h-1.3zM191.73 282.65h1.3v11.15h-1.3zM190.73 304.35h1.3v11.15h-1.3zM199.74 304.35h1.3v11.15h-1.3zM160.7 326.05h1.3v11.15h-1.3zM178.72 326.05h1.3v11.15h-1.3zM186.73 326.05h1.3v11.15h-1.3z" fill="#e48888"/><path d="M199.74 271.8h1.3v11.15h-1.3zM155.7 282.65h1.3v11.15h-1.3zM190.73 282.65h1.3v11.15h-1.3zM205.74 304.35h1.3v11.15h-1.3z" fill="#e17d7d"/><path d="M238.77 271.8h1.3v11.15h-1.3zM271.8 271.8h1.3v11.15h-1.3zM121.67 282.65h1.3v11.15h-1.3zM144.69 282.65h1.3v11.15h-1.3zM196.73 282.65h1.3v11.15h-1.3zM198.74 282.65h1.3v11.15h-1.3zM245.78 282.65h1.3v11.15h-1.3zM246.78 282.65h1.3v11.15h-1.3zM156.7 293.5h1.3v11.15h-1.3zM248.78 293.5h1.3v11.15h-1.3zM270.8 293.5h1.3v11.15h-1.3zM271.8 293.5h1.3v11.15h-1.3zM87.64 304.35h1.3v11.15h-1.3zM104.65 304.35h1.3v11.15h-1.3zM106.66 304.35h1.3v11.15h-1.3zM149.69 304.35h1.3v11.15h-1.3zM150.69 304.35h1.3v11.15h-1.3zM154.7 304.35h1.3v11.15h-1.3zM235.77 304.35h1.3v11.15h-1.3zM83.64 315.2h1.3v11.15h-1.3zM84.64 315.2h1.3v11.15h-1.3zM86.64 315.2h1.3v11.15h-1.3zM97.65 315.2h1.3v11.15h-1.3zM104.65 315.2h1.3v11.15h-1.3zM105.66 315.2h1.3v11.15h-1.3zM118.67 315.2h1.3v11.15h-1.3zM119.67 315.2h1.3v11.15h-1.3zM142.69 315.2h1.3v11.15h-1.3zM156.7 315.2h1.3v11.15h-1.3zM124.67 326.05h1.3v11.15h-1.3zM181.72 326.05h1.3v11.15h-1.3zM197.74 326.05h1.3v11.15h-1.3zM257.79 326.05h1.3v11.15h-1.3zM263.79 326.05h1.3v11.15h-1.3z" fill="#ffffff"/><path d="M154.7 282.65h1.3v11.15h-1.3z" fill="#d44747"/><path d="M157.7 282.65h1.3v11.15h-1.3zM204.74 304.35h1.3v11.15h-1.3zM157.7 315.2h1.3v11.15h-1.3zM157.7 326.05h1.3v11.15h-1.3zM173.71 326.05h1.3v11.15h-1.3zM175.72 326.05h1.3v11.15h-1.3z" fill="#da5c5c"/><path d="M160.7 282.65h1.3v11.15h-1.3zM159.7 315.2h1.3v11.15h-1.3zM160.7 315.2h1.3v11.15h-1.3zM174.72 326.05h1.3v11.15h-1.3z" fill="#dc6767"/><path d="M131.68 304.35h1.3v11.15h-1.3zM133.68 304.35h1.3v11.15h-1.3zM60.62 315.2h1.3v11.15h-1.3z" fill="#333399"/><path d="M176.72 326.05h1.3v11.15h-1.3z" fill="#d75151"/><text transform="translate(274 280.65) scale(1 1.06)" font-size="6.44">Macrophages</text><text transform="translate(274 290.75) scale(1 1.06)" font-size="6.44">Neutrophils</text><text transform="translate(274 301.25) scale(1 1.06)" font-size="6.44">ISG.RS</text><text transform="translate(274 312.15) scale(1 1.06)" font-size="6.44">iDC</text><text transform="translate(274 322.85) scale(1 1.06)" font-size="6.44">Eosinophils</text><text transform="translate(274 333.25) scale(1 1.06)" font-size="6.44">Mast.cells</text><defs><linearGradient id="cbC" x1="0" y1="1" x2="0" y2="0"><stop offset="0" stop-color="#000080"/><stop offset="0.5" stop-color="#ffffff"/><stop offset="1" stop-color="#cd2626"/></linearGradient></defs><rect x="322" y="272" width="6.8" height="66" fill="url(#cbC)" /><text transform="translate(333 280.11) scale(1 1.05)" font-size="6.4">4</text><text transform="translate(333 296.21) scale(1 1.05)" font-size="6.4">2</text><text transform="translate(333 312.31) scale(1 1.05)" font-size="6.4">0</text><text transform="translate(333 328.61) scale(1 1.05)" font-size="6.4">−2</text><path d="M41.6 277.23H22.4V288.07H41.6M41.6 298.93H16.6V309.78H41.6M22.4 282.65H13.6V304.35H16.6M41.6 320.62H10.3V331.48H41.6M13.6 293.5H7.5V326.05H10.3" fill="none" stroke="#444" stroke-width="0.6"/><text transform="translate(6.9 363.36) scale(1 1)" font-size="11.5" fill="#000" font-weight="bold">D</text><path d="M84.8 371.6L93.8 371.6" stroke="#b5172f" stroke-width="0.9"/><path d="M89.3 370L89.3 373.2" stroke="#b5172f" stroke-width="0.6"/><text transform="translate(96.9 373.73) scale(1 1.2)" font-size="5.15">ISG.RS=high</text><path d="M135.8 371.6L145 371.6" stroke="#2c4e92" stroke-width="0.9"/><path d="M140.4 370L140.4 373.2" stroke="#2c4e92" stroke-width="0.6"/><text transform="translate(147.7 373.75) scale(1 1.2)" font-size="5.2">ISG.RS=low</text><path d="M37.8 380.6L37.8 447" stroke="#000" stroke-width="0.9"/><path d="M37.3 446.5L110 446.5" stroke="#000" stroke-width="0.9"/><path d="M34.8 383.6L37.8 383.6" stroke="#000" stroke-width="0.8"/><text transform="translate(32.2 385.8) scale(1 1)" font-size="6.4" text-anchor="end">1.00</text><path d="M34.8 398.7L37.8 398.7" stroke="#000" stroke-width="0.8"/><text transform="translate(32.2 400.9) scale(1 1)" font-size="6.4" text-anchor="end">0.75</text><path d="M34.8 413.8L37.8 413.8" stroke="#000" stroke-width="0.8"/><text transform="translate(32.2 416) scale(1 1)" font-size="6.4" text-anchor="end">0.50</text><path d="M34.8 428.9L37.8 428.9" stroke="#000" stroke-width="0.8"/><text transform="translate(32.2 431.1) scale(1 1)" font-size="6.4" text-anchor="end">0.25</text><path d="M34.8 444L37.8 444" stroke="#000" stroke-width="0.8"/><text transform="translate(32.2 446.2) scale(1 1)" font-size="6.4" text-anchor="end">0.00</text><path d="M41.3 446.5L41.3 448.8" stroke="#000" stroke-width="0.8"/><text transform="translate(41.3 458.8) scale(1 1)" font-size="6.4" text-anchor="middle">0</text><path d="M57.7 446.5L57.7 448.8" stroke="#000" stroke-width="0.8"/><text transform="translate(57.7 458.8) scale(1 1)" font-size="6.4" text-anchor="middle">4</text><path d="M74.1 446.5L74.1 448.8" stroke="#000" stroke-width="0.8"/><text transform="translate(74.1 458.8) scale(1 1)" font-size="6.4" text-anchor="middle">8</text><path d="M90.5 446.5L90.5 448.8" stroke="#000" stroke-width="0.8"/><text transform="translate(90.5 458.8) scale(1 1)" font-size="6.4" text-anchor="middle">12</text><path d="M106.9 446.5L106.9 448.8" stroke="#000" stroke-width="0.8"/><text transform="translate(106.9 458.8) scale(1 1)" font-size="6.4" text-anchor="middle">16</text><text transform="translate(74.1 471.05) scale(1 1.5)" font-size="6.3" text-anchor="middle">Years</text><text transform="translate(16.01 414.2) rotate(-90) scale(1 1.4)" font-size="6.66" text-anchor="middle">Overall sur-</text><polyline points="41.4,385.7 41.69,385.7 41.69,386.66 41.98,386.66 41.98,387.62 42.26,387.62 42.26,388.59 42.55,388.59 42.55,389.55 42.84,389.55 42.84,390.51 43.12,390.51 43.12,391.47 43.41,391.47 43.41,392.44 43.7,392.44 43.7,393.4 44.08,393.4 44.08,394.42 44.47,394.42 44.47,395.43 44.85,395.43 44.85,396.45 45.23,396.45 45.23,397.47 45.62,397.47 45.62,398.48 46,398.48 46,399.5 46.46,399.5 46.46,400.44 46.92,400.44 46.92,401.38 47.38,401.38 47.38,402.32 47.84,402.32 47.84,403.26 48.3,403.26 48.3,404.2 49.83,404.2 49.83,404.97 51.37,404.97 51.37,405.73 52.9,405.73 52.9,406.5 54.12,406.5 54.12,406.64 55.34,406.64 55.34,406.78 56.56,406.78 56.56,406.92 57.78,406.92 57.78,407.06 59,407.06 59,407.2 60.24,407.2 60.24,407.82 61.48,407.82 61.48,408.44 62.72,408.44 62.72,409.06 63.96,409.06 63.96,409.68 65.2,409.68 65.2,410.3 66.73,410.3 66.73,411.07 68.27,411.07 68.27,411.83 69.8,411.83 69.8,412.6 71.35,412.6 71.35,413 72.9,413 72.9,413.4 80.6,413.4 81.4,413.4 81.4,414.55 82.2,414.55 82.2,415.7 92.9,415.7" fill="none" stroke="#b5172f" stroke-width="1.25"/><path d="M41.98 386.52v2.2M43.12 390.37v2.2M43.7 392.3v2.2M44.85 395.35v2.2M45.62 397.38v2.2M46.92 400.28v2.2M47.38 401.22v2.2M47.84 402.16v2.2M48.3 403.1v2.2M51.37 404.63v2.2M52.9 405.4v2.2M66.73 409.97v2.2M69.8 411.5v2.2M77.32 412.3v2.2M84.45 414.6v2.2M89.81 414.6v2.2" stroke="#b5172f" stroke-width="0.6"/><polyline points="41.4,383.4 42.2,383.4 42.2,384.7 43,384.7 43,386 43.55,386 43.55,387.07 44.1,387.07 44.1,388.15 44.65,388.15 44.65,389.23 45.2,389.23 45.2,390.3 46.23,390.3 46.23,391.47 47.27,391.47 47.27,392.63 48.3,392.63 48.3,393.8 49.54,393.8 49.54,394.34 50.78,394.34 50.78,394.88 52.02,394.88 52.02,395.42 53.26,395.42 53.26,395.96 54.5,395.96 54.5,396.5 55.27,396.5 55.27,397.5 56.03,397.5 56.03,398.5 56.8,398.5 56.8,399.5 58.18,399.5 58.18,399.96 59.56,399.96 59.56,400.42 60.94,400.42 60.94,400.88 62.32,400.88 62.32,401.34 63.7,401.34 63.7,401.8 64.92,401.8 64.92,402.28 66.14,402.28 66.14,402.76 67.36,402.76 67.36,403.24 68.58,403.24 68.58,403.72 69.8,403.72 69.8,404.2 71.37,404.2 71.37,404.47 72.93,404.47 72.93,404.73 74.5,404.73 74.5,405 76,405 76,406.1 77.5,406.1 77.5,407.2 79.07,407.2 79.07,407.73 80.63,407.73 80.63,408.27 82.2,408.27 82.2,408.8 83.35,408.8 83.35,409.9 84.5,409.9 84.5,411 84.62,411 84.62,412.1 84.75,412.1 84.75,413.2 84.88,413.2 84.88,414.3 85,414.3 85,415.4 109,415.4" fill="none" stroke="#2c4e92" stroke-width="1.25"/><path d="M42.2 383.6v2.2M43.55 385.97v2.2M45.2 389.2v2.2M46.23 390.37v2.2M48.3 392.7v2.2M56.8 398.4v2.2M58.18 398.86v2.2M72.93 403.63v2.2M76 405v2.2M83.35 408.8v2.2M86.76 414.3v2.2M91.93 414.3v2.2M95.55 414.3v2.2M99.1 414.3v2.2M103.08 414.3v2.2M106.3 414.3v2.2" stroke="#2c4e92" stroke-width="0.6"/><text transform="translate(42.1 435.22) scale(1 1.15)" font-size="5.6">p = 0.093</text><text transform="translate(31.8 481.3) scale(1 1.1)" font-size="6.6" text-anchor="end">At risk:</text><text transform="translate(41.3 481.22) scale(1 1.1)" font-size="6.4" text-anchor="middle">108</text><text transform="translate(41.3 491.02) scale(1 1.1)" font-size="6.4" text-anchor="middle">123</text><text transform="translate(57.7 481.22) scale(1 1.1)" font-size="6.4" text-anchor="middle">64</text><text transform="translate(57.7 491.02) scale(1 1.1)" font-size="6.4" text-anchor="middle">62</text><text transform="translate(74.1 481.22) scale(1 1.1)" font-size="6.4" text-anchor="middle">40</text><text transform="translate(74.1 491.02) scale(1 1.1)" font-size="6.4" text-anchor="middle">30</text><text transform="translate(90.5 481.22) scale(1 1.1)" font-size="6.4" text-anchor="middle">5</text><text transform="translate(90.5 491.02) scale(1 1.1)" font-size="6.4" text-anchor="middle">3</text><text transform="translate(106.9 481.22) scale(1 1.1)" font-size="6.4" text-anchor="middle">1</text><text transform="translate(106.9 491.02) scale(1 1.1)" font-size="6.4" text-anchor="middle">0</text><text transform="translate(74.6 502.94) scale(1 1.2)" font-size="6.4" text-anchor="middle">Median cutoff ISG.RS</text><path d="M149.4 383.9L149.4 447" stroke="#000" stroke-width="0.9"/><path d="M148.9 446.5L223.8 446.5" stroke="#000" stroke-width="0.9"/><path d="M146.4 386.9L149.4 386.9" stroke="#000" stroke-width="0.8"/><text transform="translate(143.8 389.1) scale(1 1)" font-size="6.4" text-anchor="end">1.00</text><path d="M146.4 401.12L149.4 401.12" stroke="#000" stroke-width="0.8"/><text transform="translate(143.8 403.33) scale(1 1)" font-size="6.4" text-anchor="end">0.75</text><path d="M146.4 415.35L149.4 415.35" stroke="#000" stroke-width="0.8"/><text transform="translate(143.8 417.55) scale(1 1)" font-size="6.4" text-anchor="end">0.50</text><path d="M146.4 429.57L149.4 429.57" stroke="#000" stroke-width="0.8"/><text transform="translate(143.8 431.78) scale(1 1)" font-size="6.4" text-anchor="end">0.25</text><path d="M146.4 443.8L149.4 443.8" stroke="#000" stroke-width="0.8"/><text transform="translate(143.8 446) scale(1 1)" font-size="6.4" text-anchor="end">0.00</text><path d="M153 446.5L153 448.8" stroke="#000" stroke-width="0.8"/><text transform="translate(153 458.8) scale(1 1)" font-size="6.4" text-anchor="middle">0</text><path d="M169.75 446.5L169.75 448.8" stroke="#000" stroke-width="0.8"/><text transform="translate(169.75 458.8) scale(1 1)" font-size="6.4" text-anchor="middle">4</text><path d="M186.5 446.5L186.5 448.8" stroke="#000" stroke-width="0.8"/><text transform="translate(186.5 458.8) scale(1 1)" font-size="6.4" text-anchor="middle">8</text><path d="M203.25 446.5L203.25 448.8" stroke="#000" stroke-width="0.8"/><text transform="translate(203.25 458.8) scale(1 1)" font-size="6.4" text-anchor="middle">12</text><path d="M220 446.5L220 448.8" stroke="#000" stroke-width="0.8"/><text transform="translate(220 458.8) scale(1 1)" font-size="6.4" text-anchor="middle">16</text><text transform="translate(186.5 471.05) scale(1 1.5)" font-size="6.3" text-anchor="middle">Years</text><text transform="translate(126.31 414.2) rotate(-90) scale(1 1.4)" font-size="6.66" text-anchor="middle">Overall sur-</text><polyline points="152.5,388 152.75,388 152.75,388.93 153,388.93 153,389.85 153.25,389.85 153.25,390.77 153.5,390.77 153.5,391.7 153.75,391.7 153.75,392.62 154,392.62 154,393.55 154.25,393.55 154.25,394.47 154.5,394.47 154.5,395.4 154.83,395.4 154.83,396.33 155.17,396.33 155.17,397.27 155.5,397.27 155.5,398.2 155.83,398.2 155.83,399.13 156.17,399.13 156.17,400.07 156.5,400.07 156.5,401 156.83,401 156.83,401.93 157.17,401.93 157.17,402.87 157.5,402.87 157.5,403.8 158.12,403.8 158.12,404.74 158.74,404.74 158.74,405.68 159.36,405.68 159.36,406.62 159.98,406.62 159.98,407.56 160.6,407.56 160.6,408.5 161.95,408.5 161.95,409.07 163.3,409.07 163.3,409.65 164.65,409.65 164.65,410.23 166,410.23 166,410.8 167.53,410.8 167.53,411.13 169.07,411.13 169.07,411.47 170.6,411.47 170.6,411.8 171.9,411.8 171.9,412.73 173.2,412.73 173.2,413.67 174.5,413.67 174.5,414.6 175.77,414.6 175.77,415.13 177.03,415.13 177.03,415.67 178.3,415.67 178.3,416.2 179.83,416.2 179.83,417.07 181.37,417.07 181.37,417.93 182.9,417.93 182.9,418.8 205.2,418.8" fill="none" stroke="#b5172f" stroke-width="1.25"/><path d="M152.75 387.82v2.2M153.25 389.67v2.2M155.83 398.03v2.2M156.17 398.97v2.2M156.5 399.9v2.2M161.95 407.97v2.2M166 409.7v2.2M170.6 410.7v2.2M171.9 411.63v2.2M177.03 414.57v2.2M185.66 417.7v2.2M190.18 417.7v2.2M194.22 417.7v2.2M197.93 417.7v2.2M202.07 417.7v2.2" stroke="#b5172f" stroke-width="0.6"/><polyline points="152.5,386.9 152.89,386.9 152.89,387.89 153.27,387.89 153.27,388.87 153.66,388.87 153.66,389.86 154.04,389.86 154.04,390.84 154.43,390.84 154.43,391.83 154.81,391.83 154.81,392.81 155.2,392.81 155.2,393.8 156.23,393.8 156.23,394.83 157.27,394.83 157.27,395.87 158.3,395.87 158.3,396.9 159.65,396.9 159.65,397.67 161,397.67 161,398.45 162.35,398.45 162.35,399.23 163.7,399.23 163.7,400 165.23,400 165.23,400.27 166.77,400.27 166.77,400.53 168.3,400.53 168.3,400.8 169.05,400.8 169.05,401.9 169.8,401.9 169.8,403 171.2,403 171.2,403.32 172.6,403.32 172.6,403.64 174,403.64 174,403.96 175.4,403.96 175.4,404.28 176.8,404.28 176.8,404.6 178.33,404.6 178.33,405.37 179.87,405.37 179.87,406.13 181.4,406.13 181.4,406.9 182.62,406.9 182.62,407.06 183.84,407.06 183.84,407.22 185.06,407.22 185.06,407.38 186.28,407.38 186.28,407.54 187.5,407.54 187.5,407.7 189.07,407.7 189.07,408.47 190.63,408.47 190.63,409.23 192.2,409.23 192.2,410 193.73,410 193.73,410.87 195.27,410.87 195.27,411.73 196.8,411.73 196.8,412.6 196.88,412.6 196.88,413.58 196.95,413.58 196.95,414.55 197.03,414.55 197.03,415.52 197.1,415.52 197.1,416.5 221.7,416.5" fill="none" stroke="#2c4e92" stroke-width="1.25"/><path d="M153.66 388.76v2.2M159.65 396.57v2.2M165.23 399.17v2.2M179.87 405.03v2.2M189.07 407.37v2.2M195.27 410.63v2.2M197.03 414.42v2.2M199.83 415.4v2.2M204.16 415.4v2.2M207.93 415.4v2.2M212.17 415.4v2.2M215.57 415.4v2.2M219.67 415.4v2.2" stroke="#2c4e92" stroke-width="0.6"/><text transform="translate(153.7 435.22) scale(1 1.15)" font-size="5.6">p = 0.012</text><text transform="translate(143.4 481.3) scale(1 1.1)" font-size="6.6" text-anchor="end">At risk:</text><text transform="translate(153 481.22) scale(1 1.1)" font-size="6.4" text-anchor="middle">141</text><text transform="translate(153 491.02) scale(1 1.1)" font-size="6.4" text-anchor="middle">90</text><text transform="translate(169.75 481.22) scale(1 1.1)" font-size="6.4" text-anchor="middle">84</text><text transform="translate(169.75 491.02) scale(1 1.1)" font-size="6.4" text-anchor="middle">42</text><text transform="translate(186.5 481.22) scale(1 1.1)" font-size="6.4" text-anchor="middle">50</text><text transform="translate(186.5 491.02) scale(1 1.1)" font-size="6.4" text-anchor="middle">20</text><text transform="translate(203.25 481.22) scale(1 1.1)" font-size="6.4" text-anchor="middle">7</text><text transform="translate(203.25 491.02) scale(1 1.1)" font-size="6.4" text-anchor="middle">1</text><text transform="translate(220 481.22) scale(1 1.1)" font-size="6.4" text-anchor="middle">1</text><text transform="translate(220 491.02) scale(1 1.1)" font-size="6.4" text-anchor="middle">0</text><text transform="translate(187 502.94) scale(1 1.2)" font-size="6.4" text-anchor="middle">Optimal cutoff ISG.RS</text><text transform="translate(238 363.26) scale(1 1)" font-size="11.5" fill="#000" font-weight="bold">E</text><text transform="translate(287.5 375.45) scale(1 1.2)" font-size="5.2">Status</text><rect x="311.5" y="369.8" width="5.9" height="6.8" fill="#e6eef8" /><path d="M311.5 373.5L317.4 373.5" stroke="#6ea6dc" stroke-width="0.9"/><path d="M314.45 369.8L314.45 376.6" stroke="#6ea6dc" stroke-width="0.6"/><text transform="translate(320.3 375.45) scale(1 1.2)" font-size="5.2">WT</text><rect x="337.6" y="369.8" width="5.9" height="6.8" fill="#f8efd6" /><path d="M337.6 373.5L343.5 373.5" stroke="#e9bd4c" stroke-width="0.9"/><path d="M340.55 369.8L340.55 376.6" stroke="#e9bd4c" stroke-width="0.6"/><text transform="translate(346.3 375.45) scale(1 1.2)" font-size="5.2">Mutant</text><path d="M268.4 385.3L268.4 473.6" stroke="#000" stroke-width="1"/><path d="M267.9 473.1L367.4 473.1" stroke="#000" stroke-width="1"/><path d="M265.1 403.2L268.4 403.2" stroke="#000" stroke-width="0.8"/><text transform="translate(262.9 405.47) scale(1 1)" font-size="6.6" text-anchor="end">0.5</text><path d="M265.1 430L268.4 430" stroke="#000" stroke-width="0.8"/><text transform="translate(262.9 432.27) scale(1 1)" font-size="6.6" text-anchor="end">0.0</text><path d="M265.1 456.8L268.4 456.8" stroke="#000" stroke-width="0.8"/><text transform="translate(262.9 459.07) scale(1 1)" font-size="6.6" text-anchor="end">−0.5</text><text transform="translate(246.49 429.2) rotate(-90) scale(1 1.5)" font-size="5.9" text-anchor="middle">ISG.RS score</text><text transform="translate(287.3 391.22) scale(1 1.15)" font-size="5.6">Wilcoxon, p = 0.019</text><rect x="279.5" y="413.3" width="32.3" height="36.6" fill="#d8e5f4" /><path d="M295.5 389.5L295.5 413.3" stroke="#6ea6dc" stroke-width="0.9"/><path d="M295.5 449.9L295.5 469.3" stroke="#6ea6dc" stroke-width="0.9"/><path d="M301.4 448.47h.01M303.95 448.32h.01M303.52 441.29h.01M294.88 441.87h.01M285.76 406.46h.01M291.09 424.51h.01M288.69 450.31h.01M297.85 402.16h.01M289.81 406.21h.01M291.29 458.5h.01M299.06 432.91h.01M304.32 432.05h.01M303.37 465.73h.01M288.41 423.85h.01M291.53 440.83h.01M299.06 391.76h.01M295.11 418.01h.01M295.12 465.96h.01M305 395.88h.01M285.86 431.55h.01M297.07 419.62h.01M286.43 392.99h.01M300.61 444.31h.01M292.39 463.85h.01M295.99 427.92h.01M300.47 399.8h.01M286.23 457.52h.01M292.31 398.5h.01M292.3 462.01h.01M291.75 433.37h.01M288.48 435.15h.01M288.73 468.05h.01M305.23 438.85h.01M297.38 419.38h.01M293.94 426.5h.01M303.82 439.81h.01M288.11 393.44h.01M298.11 464.44h.01M294.19 399.69h.01M302.39 433.14h.01M305.02 457.51h.01M295.26 453.72h.01M291.32 428.29h.01M305.27 443.38h.01M295.49 439.65h.01M287.28 447.09h.01M292.73 439.63h.01M299.39 451.01h.01M292.77 449.84h.01M295.21 413.07h.01M291.38 444.56h.01M297.11 441.4h.01M296.44 392.21h.01M301.83 421.06h.01M292.46 452.76h.01M302.06 448.17h.01M302.36 411.95h.01M305.02 444.36h.01M296.09 431.29h.01M295.04 455.98h.01M300.11 446.77h.01M301.11 391.32h.01M293.92 442.61h.01M298.24 451h.01M288.7 393.62h.01M299.22 423.34h.01M294.93 394.71h.01M286.58 420.22h.01M289.37 426.4h.01M294.81 443.14h.01M290.26 411.21h.01M293.61 391.55h.01M293.7 414.34h.01M286.22 441.07h.01M296.4 398.78h.01M297.12 414.72h.01M293.88 454.36h.01M292.89 440.83h.01M304.64 410.38h.01M292.52 438.24h.01M287.66 391.57h.01M288.31 438.74h.01M293.02 459.95h.01M290.03 416.99h.01M304.72 450.86h.01M290.7 437.26h.01M293.81 429.62h.01M305.19 428.23h.01M287.94 426.44h.01M291.36 425.56h.01M285.76 455h.01M290.98 453.78h.01M290.41 451.55h.01M291.36 465.38h.01M298.4 427.95h.01M287.86 448.6h.01M296.17 414.59h.01M296.1 413.19h.01M297.32 410.36h.01M290.55 456.94h.01M296.41 467.83h.01M301.07 410.66h.01M298.14 403.69h.01M303.73 417.24h.01M289.43 401.19h.01M302.1 456.16h.01M294.16 447.49h.01M301.11 405.21h.01M295.07 402.46h.01M288.57 413.68h.01M286.87 453.85h.01M301.89 431.86h.01M286.01 442.46h.01M305.47 466.66h.01M302.34 395.25h.01M299.75 401.55h.01M291.35 392.48h.01M297.71 403h.01M286.37 446.38h.01M293.08 455.28h.01M300.35 456.08h.01M294.13 401.82h.01M297.5 440.86h.01M286.62 449.54h.01M298.13 403.11h.01M303.71 424.31h.01M290.76 439.18h.01M300.51 411.02h.01M292.92 441.35h.01M299.77 405.27h.01M298.86 398.05h.01M288 442.49h.01M303.04 409.82h.01M286.09 415.74h.01M288.52 395.62h.01M289.96 443.81h.01M304.95 463.57h.01M288.3 454.52h.01M290.2 418.71h.01M293.21 417.61h.01M302.12 419.46h.01M294.17 453.29h.01M297.35 431.24h.01M293.41 448.34h.01M286.29 444.76h.01M300.71 428.44h.01M294.9 434.38h.01M294.07 439.07h.01M288.68 440.99h.01M293.21 438.4h.01M290.58 403.18h.01M290.2 440.28h.01M286.14 445.58h.01M304.26 419.84h.01M294.93 443.25h.01M298.87 400.56h.01M288.76 416.82h.01M286 402.84h.01M304.97 449.45h.01M291.74 441.15h.01M299.86 424.89h.01M290.31 463.37h.01M298.42 463.73h.01M286.72 433.82h.01M286.4 423h.01M305.29 431.26h.01M286.92 426.38h.01M304.21 429.22h.01M290.37 438.78h.01M290.61 425.97h.01M291.62 435.84h.01M295.67 403.82h.01M296.13 444.1h.01M296.34 427.86h.01M302.64 437.45h.01M285.85 440.4h.01M293.03 405.66h.01M303.76 447.23h.01M294.48 433.8h.01M287.81 408.7h.01M301.89 460.93h.01M288.1 449.6h.01M294.07 431.87h.01M286.73 410.35h.01M289.5 395.19h.01M292.98 439.99h.01M300.55 416.36h.01M298.58 460.32h.01M294.34 435.64h.01M304.6 441.84h.01M290.85 445.35h.01M288.1 420.87h.01M288.89 439.91h.01M286.77 424.24h.01M286.05 434.29h.01M288.1 416.95h.01M297.74 462.68h.01M294.08 393.94h.01M297.19 430.07h.01M287.41 447.32h.01M288.92 434.37h.01M304.27 425.77h.01M291.84 400.58h.01M294.18 426.9h.01M296.15 436.75h.01M287.57 437.27h.01M286.55 423.71h.01M297.04 394.02h.01M293.35 459.87h.01M296.75 429.33h.01M300.52 444.81h.01M305.15 422.58h.01M297.86 456.77h.01M288.36 443.72h.01M286.25 429.14h.01M303.5 457.48h.01M301.44 450.09h.01M297.96 415.28h.01M285.7 420.41h.01M297.23 395.21h.01M286.04 418.2h.01M293.16 442.81h.01M305.15 425.77h.01M299.36 462.45h.01M301.47 432.72h.01M297.37 412.28h.01M291.18 431.61h.01M297.11 447.61h.01M291.64 446.37h.01M299.82 412.59h.01M300.57 441.38h.01M303.44 464.99h.01M300.27 455.88h.01M295.83 407.53h.01M304.99 409.86h.01M293.3 430.39h.01M298.56 432.56h.01M297.77 461.4h.01M296.57 455.28h.01M303.24 420.22h.01M291.61 450.92h.01M288.85 400.9h.01M289.99 450.37h.01M296.82 401.97h.01M300.06 458.98h.01M303.59 409.71h.01M291.11 442.68h.01M289.24 465.73h.01M297.57 450.83h.01M289.31 448.68h.01M299.3 441.14h.01M295.19 396.21h.01M291.87 465.01h.01M304.03 441.05h.01M295.03 419.02h.01M289.37 395.39h.01M297.81 441.18h.01M300.66 437.92h.01M301.57 454.2h.01M304.64 462.47h.01M287.57 465.62h.01M292.99 444.1h.01M299.11 436.96h.01M293.56 397.93h.01M297.44 424.52h.01M299.17 438.66h.01M300.7 395.26h.01M287.84 414.23h.01M292.58 420.41h.01M293.14 462.03h.01M301.28 400.7h.01M292.24 414.23h.01M286.51 431.38h.01M290.26 431.84h.01M290.92 397.14h.01M293.23 432.7h.01M292.62 398.55h.01M300.82 391.89h.01M285.83 439.72h.01M295.84 412.62h.01M289.87 436.7h.01M294.94 425.49h.01M299.24 422.53h.01M293.35 393.73h.01M297.37 424.88h.01M298.22 441.05h.01M293.77 465.48h.01M303.81 454.91h.01M305.48 436.71h.01M288.46 459.99h.01M304.94 423.92h.01M293.93 408.14h.01M298.83 415.46h.01M288.88 434.7h.01M303.45 449.12h.01M285.87 406.59h.01M297.48 465.29h.01M290.23 440.38h.01M286.12 463.51h.01M300.58 417.39h.01M301 438.4h.01M287.3 445.52h.01M298.37 425.36h.01M297.13 416.13h.01M296.87 410h.01M296.41 448.34h.01M295.12 401.76h.01M300.92 392.13h.01M301.36 404.14h.01M295.51 430.88h.01M285.93 417.74h.01M294.5 443.74h.01M292.91 462.52h.01M304.49 420.81h.01M288.83 414.68h.01M294.47 397.44h.01M293.27 432.11h.01M296.53 414.48h.01M292.52 402.1h.01M289.65 434.66h.01M292.34 439.58h.01M304.85 434.75h.01M300.32 425.96h.01M302.08 466.14h.01M298.08 421.35h.01M294.27 428.16h.01M288.25 405.09h.01M296.72 448.53h.01M295.39 467.51h.01M297.28 394.55h.01M299.92 441.62h.01M289.93 438.51h.01M286.78 400.03h.01M286.84 398.63h.01M299.92 406.55h.01M298.36 397.63h.01M300.59 400.76h.01M300.66 431.27h.01M303.54 432.64h.01M290.77 439.42h.01M287.26 407.26h.01M287.08 443.17h.01M289 410.66h.01M295.32 411.53h.01M296.97 425.84h.01M290.86 402.64h.01M296.61 389.76h.01M301.19 423.73h.01M287.66 414.05h.01M292.65 421.94h.01M298.09 411.82h.01M287.83 464.94h.01M287.56 417.34h.01M297.15 456.35h.01M298.23 450.99h.01M293.67 411.52h.01M287.42 428.17h.01M302.89 427.35h.01M291.53 411.48h.01M303.43 464.75h.01M287.58 419.29h.01M296.8 432.3h.01M287.66 436.22h.01M287.56 426.7h.01M296.25 400.32h.01M305.24 411.9h.01M296.52 416.87h.01M289.69 424.36h.01M303.86 437.7h.01M292.01 401.73h.01M288.29 432.13h.01M304.28 398.2h.01M296.98 389.73h.01M291.18 447.22h.01M294.91 411.18h.01M288.18 437.95h.01M287.55 420.65h.01M288.85 401.74h.01M294.43 401.19h.01M288.76 457.34h.01M297.11 399.58h.01M299.91 427.53h.01M300.78 436.76h.01M295.27 407.66h.01M291.14 462.11h.01M303.04 416.04h.01M305.03 413.46h.01M298.6 441.56h.01M285.52 447.43h.01M302.56 415.5h.01M302.25 423.82h.01M300.14 417.6h.01M301.42 425h.01M295.39 404.79h.01M302.24 440.32h.01M296.2 398.36h.01M304.99 441.44h.01M302.08 409.79h.01M298.39 421.06h.01M290.98 440.78h.01M300.37 416.99h.01M294.2 409.62h.01M297.44 429.82h.01M299.22 425.64h.01M290.71 412.36h.01M286.64 402.82h.01M294.66 432.56h.01M301.56 422.17h.01M301.41 427.16h.01M302.2 439.39h.01M302.52 446.49h.01M303.19 393.06h.01M286.82 406.96h.01M287.5 430.99h.01M285.57 443.55h.01M291.5 439.1h.01M288.82 421.36h.01M299.28 460.2h.01M293.67 413.67h.01M294.61 444.18h.01" stroke="#6ea6dc" stroke-width="1.05" stroke-linecap="round" opacity="0.9"/><path d="M279.5 433.1L311.8 433.1" stroke="#6ea6dc" stroke-width="1"/><path d="M295.5 473.6L295.5 476" stroke="#000" stroke-width="0.8"/><rect x="325.2" y="404.9" width="32" height="35.9" fill="#f4e7c3" /><path d="M341.2 388.5L341.2 404.9" stroke="#e9bd4c" stroke-width="0.9"/><path d="M341.2 440.8L341.2 468.6" stroke="#e9bd4c" stroke-width="0.9"/><path d="M348.41 443.96h.01M348.61 449.31h.01M339.52 451.64h.01M348.85 441.25h.01M335.02 424.69h.01M346.59 422.78h.01M341.87 453.12h.01M333.09 418.69h.01M334.08 418.44h.01M339.71 434.2h.01M331.32 423.34h.01M337.72 459.43h.01M334.21 396.66h.01M332.37 412.91h.01M340.75 448.86h.01M349.57 425.29h.01M334.61 431.9h.01M337.09 406.89h.01M341.94 395.97h.01M344.5 436.48h.01M345.8 397.77h.01M346.78 405.91h.01M344.75 458.44h.01M344.02 414.61h.01M332.01 439.56h.01M340.59 421.87h.01M340.19 432.25h.01M344.69 435.98h.01M337.25 420.66h.01M333.12 413h.01M350.1 431.3h.01M344.84 415.33h.01M333.17 434.3h.01M344.92 415.8h.01M335.76 427.64h.01M336.49 417.85h.01M338.13 429.24h.01M340.23 437.56h.01M339.31 437.92h.01M333.83 401.44h.01M338.5 435.23h.01M334.71 436.02h.01M345.88 411.06h.01M349.3 448.88h.01M332.83 444.04h.01M344.33 412.44h.01M337.84 411.41h.01M348.27 429.82h.01M348.15 438.26h.01M340.69 426.05h.01M348.91 415.98h.01M346.88 415.98h.01M339 462.99h.01M333.8 467.37h.01M340.35 446.57h.01M349.84 432.39h.01M336.31 441.11h.01M343.47 424.22h.01M347.57 421.63h.01M341.19 409.29h.01" stroke="#e9bd4c" stroke-width="1.05" stroke-linecap="round" opacity="0.9"/><path d="M325.2 426.7L357.2 426.7" stroke="#e9bd4c" stroke-width="1"/><path d="M341.2 473.6L341.2 476" stroke="#000" stroke-width="0.8"/><text transform="translate(295.5 484.83) scale(1 1)" font-size="6.2" text-anchor="middle">WT</text><text transform="translate(341.2 484.97) scale(1 1)" font-size="6.6" text-anchor="middle">Mutant</text><text transform="translate(318 497.3) scale(1 1.5)" font-size="6" text-anchor="middle">SOCS1</text><text transform="translate(424.5 375.45) scale(1 1.2)" font-size="5.2">Status</text><rect x="448.5" y="369.8" width="5.9" height="6.8" fill="#e6eef8" /><path d="M448.5 373.5L454.4 373.5" stroke="#6ea6dc" stroke-width="0.9"/><path d="M451.45 369.8L451.45 376.6" stroke="#6ea6dc" stroke-width="0.6"/><text transform="translate(457.3 375.45) scale(1 1.2)" font-size="5.2">WT</text><rect x="474.6" y="369.8" width="5.9" height="6.8" fill="#f8efd6" /><path d="M474.6 373.5L480.5 373.5" stroke="#e9bd4c" stroke-width="0.9"/><path d="M477.55 369.8L477.55 376.6" stroke="#e9bd4c" stroke-width="0.6"/><text transform="translate(483.3 375.45) scale(1 1.2)" font-size="5.2">Mutant</text><path d="M412.7 385.3L412.7 473.6" stroke="#000" stroke-width="1"/><path d="M412.2 473.1L511.7 473.1" stroke="#000" stroke-width="1"/><path d="M409.4 403.2L412.7 403.2" stroke="#000" stroke-width="0.8"/><text transform="translate(407.2 405.47) scale(1 1)" font-size="6.6" text-anchor="end">0.5</text><path d="M409.4 430L412.7 430" stroke="#000" stroke-width="0.8"/><text transform="translate(407.2 432.27) scale(1 1)" font-size="6.6" text-anchor="end">0.0</text><path d="M409.4 456.8L412.7 456.8" stroke="#000" stroke-width="0.8"/><text transform="translate(407.2 459.07) scale(1 1)" font-size="6.6" text-anchor="end">−0.5</text><text transform="translate(385.8 429.2) rotate(-90) scale(1 1.5)" font-size="5.9" text-anchor="middle">ISG.RS score</text><text transform="translate(427.2 391.22) scale(1 1.15)" font-size="5.6">Wilcoxon, p = 0.0098</text><rect x="423.8" y="412.8" width="32.3" height="37.9" fill="#d8e5f4" /><path d="M439.8 389.5L439.8 412.8" stroke="#6ea6dc" stroke-width="0.9"/><path d="M439.8 450.7L439.8 469.3" stroke="#6ea6dc" stroke-width="0.9"/><path d="M439.5 454.63h.01M439.21 461.24h.01M445.2 420.16h.01M445.84 431.83h.01M440.57 423.3h.01M440.87 406.32h.01M445.87 411.89h.01M436.51 456.34h.01M438.7 442.98h.01M433.74 397.39h.01M448.83 413.86h.01M442.91 406.93h.01M442.69 430.57h.01M449.33 453.36h.01M437.03 413.77h.01M441.58 414.87h.01M432.14 449.55h.01M433.72 415.48h.01M432.56 415.05h.01M430.05 452.3h.01M436.46 392.81h.01M435.92 439.14h.01M437.58 408.6h.01M438.26 438.4h.01M449.42 422.05h.01M449.39 431.74h.01M447.59 442.97h.01M440.13 449.18h.01M443.91 400.63h.01M435.12 460.17h.01M445.48 448.78h.01M441.59 441.92h.01M434.93 433.16h.01M438.01 445.53h.01M435.16 438.52h.01M439.37 425.01h.01M445.89 419.48h.01M442.98 443.64h.01M437.32 462.39h.01M437.77 416.08h.01M435.62 444.41h.01M430.94 425.36h.01M444.17 433.19h.01M448.57 422.1h.01M433.65 396.28h.01M438.24 438.61h.01M439.63 453.98h.01M432.7 447.08h.01M432.69 438.09h.01M431.91 398.97h.01M447.79 427.04h.01M432.34 445.37h.01M442.16 397.92h.01M447.67 461.21h.01M443.68 442.91h.01M448.67 402.03h.01M445.37 425.36h.01M431.07 426.53h.01M435.52 466.62h.01M446.96 397.93h.01M449.12 462.89h.01M431.51 436.25h.01M440.51 440.54h.01M433.27 429.36h.01M448.8 450.56h.01M431.35 417.88h.01M440.74 400.26h.01M439.69 452.01h.01M430.41 453.42h.01M432.81 442.62h.01M437.57 446.86h.01M434.23 452.82h.01M438.18 461.43h.01M441.25 425.73h.01M433.56 435.19h.01M437.42 445.3h.01M443.04 433.47h.01M445.91 441.05h.01M449.25 442.69h.01M431.02 417.85h.01M444.98 417.77h.01M437.15 429.52h.01M440.66 422.84h.01M441.11 408.82h.01M439.22 414.04h.01M433.17 457.87h.01M432.04 400.72h.01M448.2 395.34h.01M444.39 443.41h.01M438.67 413.54h.01M445.55 453.77h.01M441.64 404.88h.01M449.7 440.08h.01M445.34 444.02h.01M441.71 399.76h.01M448.77 425.05h.01M448.23 439.15h.01M446.45 424.96h.01M431.16 433.55h.01M446.37 433.91h.01M432.45 418.3h.01M433.44 423.13h.01M441.68 420.98h.01M439.41 439.64h.01M433.65 459.08h.01M445.97 463.45h.01M445.99 464.31h.01M439.27 451.3h.01M443.69 432.27h.01M446.64 427.63h.01M448.18 403.35h.01M436.56 457.16h.01M432.46 450.09h.01M429.91 443.39h.01M431.45 416.75h.01M448.33 450.5h.01M448.01 424.17h.01M448.88 431.42h.01M445.33 438.83h.01M441.63 456.67h.01M445.76 441.38h.01M431.99 399.99h.01M432.9 446.77h.01M445.38 454.81h.01M449.4 451.72h.01M436.82 401.09h.01M433.3 425.6h.01M446.99 439.68h.01M432.01 426.66h.01M445.88 426.49h.01M449.22 447.87h.01M435.28 461.52h.01M449.67 435.39h.01M431.03 428.43h.01M442.28 428.22h.01M446.51 412.38h.01M443.15 437.36h.01M437.89 421.95h.01M431.88 394.34h.01M430.05 424.2h.01M443.37 465.96h.01M443.9 440.93h.01M447.03 467.46h.01M434.91 436.1h.01M447.48 417.53h.01M449.42 452.42h.01M444.74 395.01h.01M429.87 439.27h.01M440.54 429.54h.01M434 435.02h.01M432.88 432.49h.01M447.44 427.34h.01M444.37 400.92h.01M447.3 398.42h.01M448.29 436.81h.01M437.49 443.43h.01M431.55 413.25h.01M441.49 454.36h.01M435.18 438.27h.01M439.45 466.17h.01M434.85 455.78h.01M438.32 448.37h.01M449.66 428.6h.01M435.35 441.21h.01M443.07 415.94h.01M431.36 424.52h.01M433.33 408.86h.01M429.82 441.04h.01M441.66 424.54h.01M444.62 446.59h.01M439.71 450.22h.01M434.61 460.14h.01M447.24 454.6h.01M445.48 439.32h.01M447.82 457.84h.01M432.17 434.67h.01M439.58 421.37h.01M432.5 429.76h.01M430.28 444.01h.01M443.69 422.01h.01M436.26 428.96h.01M433.35 406.31h.01M443.19 450.21h.01M441.08 434.91h.01M441.72 436.99h.01M448.05 450.1h.01M437.73 422.75h.01M442.68 400.68h.01M439.78 419.45h.01M437.01 448.14h.01M447.9 420.11h.01M441.58 421.29h.01M431.88 412.61h.01M441.32 403.82h.01M436.35 427.49h.01M449.79 419.71h.01M439.42 452.27h.01M446.41 440.63h.01M436.83 431.06h.01M448.01 413.67h.01M432.1 455.76h.01M442.82 443.16h.01M446.39 432.7h.01M446.03 466.01h.01M448.7 435.47h.01M433.3 423.61h.01M430.11 418.59h.01M430.69 392h.01M442.69 413.19h.01M448.5 428.63h.01M432 450.21h.01M449.33 407.28h.01M437.21 419.8h.01M435.39 440.5h.01M446.12 446.79h.01M433.82 430.03h.01M448.17 432.09h.01M430.29 440.56h.01M431.33 457.13h.01M433.66 418.31h.01M441.18 399.09h.01M436.4 405.28h.01M445.14 425.36h.01M436.32 392.22h.01M430.38 423.97h.01M440.04 457.69h.01M441.69 437.17h.01M439.76 437.47h.01M447.19 451.67h.01M448.66 460.5h.01M443.83 406.81h.01M430.45 425.41h.01M433.73 450.97h.01M442.84 401.27h.01M444.26 445.82h.01M435.52 418.86h.01M449.16 447.69h.01M442 441.88h.01M431.11 430.06h.01M439.09 429.97h.01M449.15 435.88h.01M437.57 394.57h.01M432.54 448.31h.01M445.41 411.06h.01M442.44 428.82h.01M449.68 414.76h.01M434.65 461.52h.01M431.18 407.53h.01M436.86 393.58h.01M433.83 410.76h.01M437.45 449.41h.01M430.98 455.23h.01M441.91 456.98h.01M433.33 431.88h.01M435.51 443.9h.01M432.32 403.79h.01M432.09 426.26h.01M437.26 394.55h.01M448.34 417.08h.01M442.57 416.62h.01M441.01 430.07h.01M447.22 410.46h.01M439.97 450.94h.01M440.03 423.21h.01M431.81 408.58h.01M447.72 411.99h.01M445.44 417.6h.01M442.57 402.62h.01M429.94 394.18h.01M443.92 444.8h.01M433.82 438.42h.01M443.08 460.97h.01M432.71 410.33h.01M448.61 434.51h.01M445.16 452.6h.01M445.89 412.33h.01M435.72 431.42h.01M440.57 412.43h.01M434.94 425.48h.01M449.35 416.75h.01M442.56 424.89h.01M449.38 450.81h.01M435.19 396.99h.01M440.03 410.9h.01M446.93 456.71h.01M448.19 397.49h.01M430.15 455.39h.01M433.66 433.95h.01M446.84 412.62h.01M431.89 408.58h.01M436.28 412.08h.01M430.29 396.97h.01M442.98 408.27h.01M447.95 464.24h.01M438.49 438.5h.01M445.55 391.36h.01M442.63 413.07h.01M444.16 467.86h.01M449.18 465.16h.01M429.82 447.97h.01M432.37 428.05h.01M432.07 438.14h.01M436.73 406.93h.01M436.25 413.52h.01M446.04 406.24h.01M448.17 415.57h.01M438.11 439.41h.01M443.42 434.76h.01M438.6 415.87h.01M435.28 395.65h.01M434.78 410.52h.01M435.26 434.66h.01M434.63 454.2h.01M440.21 450.33h.01M432.42 449.86h.01M434.69 402.87h.01M447.21 424.02h.01M442.42 420.76h.01M445.97 426.33h.01M432.64 430.58h.01M433.36 419.8h.01M442.88 410.38h.01M443.14 454.26h.01M445.03 393.99h.01M448.66 407.49h.01M439.24 421.91h.01M447.58 396.7h.01M448.87 455.05h.01M430.91 392.8h.01M434.11 441.89h.01M439.67 438.31h.01M440.02 458.49h.01M447.27 438.89h.01M447.31 419.03h.01M436.45 393.16h.01M443.82 445.13h.01M447.94 447.29h.01M447.93 429.34h.01M434.38 453.78h.01M446.77 457.52h.01M431.43 456.15h.01M432.19 438.18h.01M431.05 451.79h.01M435.65 412.4h.01M430.32 433.02h.01M432.57 462.77h.01M441.44 440.19h.01M446.66 422.7h.01M434.62 413.02h.01M448.58 414.21h.01M448.43 450.03h.01M443.37 408.77h.01M435.73 438.77h.01M430.22 410.78h.01M449.16 455.82h.01M443.07 451.33h.01M439.4 406.92h.01M438.27 455.6h.01M438.28 407.75h.01M448.22 422.32h.01M432.76 441.68h.01M443.5 456.64h.01M434.43 458.87h.01M432.86 468.02h.01M430.69 406.68h.01M449.37 434.28h.01M446.79 405.46h.01M442.92 437.62h.01M442.61 407.42h.01M439.71 462.41h.01M431.58 430.93h.01M438.32 458.67h.01M434.27 420.87h.01M431.91 420.78h.01M438.83 410.55h.01M447.38 451.23h.01M443.34 439.49h.01M435.49 438.41h.01M442.95 453.66h.01M441.55 404.58h.01M444.22 410.58h.01M449.41 421.34h.01M446.76 413.12h.01M443.17 454.52h.01M447.63 421.36h.01M442.67 402.15h.01M442.87 442.98h.01M430.87 443.91h.01M445.87 464.21h.01M440.55 454.99h.01M430.69 452.01h.01M442.79 429.12h.01M441.67 412.71h.01M433.65 427.08h.01M443.32 433.86h.01M429.98 415.81h.01M430.3 408.92h.01M432.15 409.37h.01M445.45 428.16h.01M441.06 427h.01M431.9 429.13h.01M442.23 418.95h.01M440.12 437.02h.01M449.33 414.68h.01M447.4 390.32h.01M439.78 414.55h.01M444.05 438.95h.01M437.69 451.14h.01M448.82 418.02h.01M446.51 438.15h.01M432.47 418.97h.01M438.78 428.05h.01M433.19 436.62h.01M431.27 399.64h.01M448.66 425.03h.01M447.43 434.96h.01M434.86 406.09h.01M448.72 417.48h.01M443.09 441.68h.01M442.29 456.32h.01" stroke="#6ea6dc" stroke-width="1.05" stroke-linecap="round" opacity="0.9"/><path d="M423.8 433.3L456.1 433.3" stroke="#6ea6dc" stroke-width="1"/><path d="M439.8 473.6L439.8 476" stroke="#000" stroke-width="0.8"/><rect x="469.5" y="406.1" width="32" height="32.2" fill="#f4e7c3" /><path d="M485.5 388.5L485.5 406.1" stroke="#e9bd4c" stroke-width="0.9"/><path d="M485.5 438.3L485.5 468.6" stroke="#e9bd4c" stroke-width="0.9"/><path d="M476.71 404.64h.01M475.73 422.92h.01M480.82 410.63h.01M475.53 450.04h.01M494.61 409.31h.01M481.53 395.95h.01M478.37 466.21h.01M490.06 411.09h.01M488.98 430.01h.01M484.56 451.27h.01M493.42 416.92h.01M476.76 436.69h.01M483.25 433.12h.01M493.36 426.46h.01M484.15 428.8h.01M477.25 447.16h.01M479.71 442.92h.01M493.21 437.16h.01M490.51 454.14h.01M475.75 434.72h.01M483.77 466.65h.01M478.4 414.6h.01M492.88 403.36h.01M482.96 436.54h.01M481.4 414.67h.01M477.43 436.88h.01M480.07 424.26h.01M491.14 406.32h.01M483.3 414.52h.01M476.07 407.03h.01M488.09 412.59h.01M489.51 405.6h.01M477.71 427.97h.01M490.86 431.43h.01M481.44 465.16h.01M488.58 394.9h.01M489.04 426.38h.01M482.21 403.12h.01M495.46 447.65h.01M488.5 429.87h.01M480.2 403.91h.01M476.07 434.6h.01M484.27 399.86h.01M492.24 403.35h.01M486.91 459.41h.01M491.72 421.46h.01M480.22 433.19h.01M485.3 444.19h.01M479.42 394.09h.01M479.99 437.41h.01M494.96 414.59h.01M478.62 424.71h.01M486.88 433.1h.01M478.67 416.5h.01M485.07 421.96h.01M483.8 428.08h.01M489.73 431.72h.01M485.72 421.21h.01M494.41 454.54h.01M485.73 405.49h.01" stroke="#e9bd4c" stroke-width="1.05" stroke-linecap="round" opacity="0.9"/><path d="M469.5 420.5L501.5 420.5" stroke="#e9bd4c" stroke-width="1"/><path d="M485.5 473.6L485.5 476" stroke="#000" stroke-width="0.8"/><text transform="translate(439.8 484.83) scale(1 1)" font-size="6.2" text-anchor="middle">WT</text><text transform="translate(485.5 484.97) scale(1 1)" font-size="6.6" text-anchor="middle">Mutant</text><text transform="translate(462.3 497.3) scale(1 1.5)" font-size="6" text-anchor="middle">KLHL6</text><rect x="0.5" y="0.5" width="519" height="511" fill="none" stroke="#000" stroke-width="1"/></svg></body></html>
